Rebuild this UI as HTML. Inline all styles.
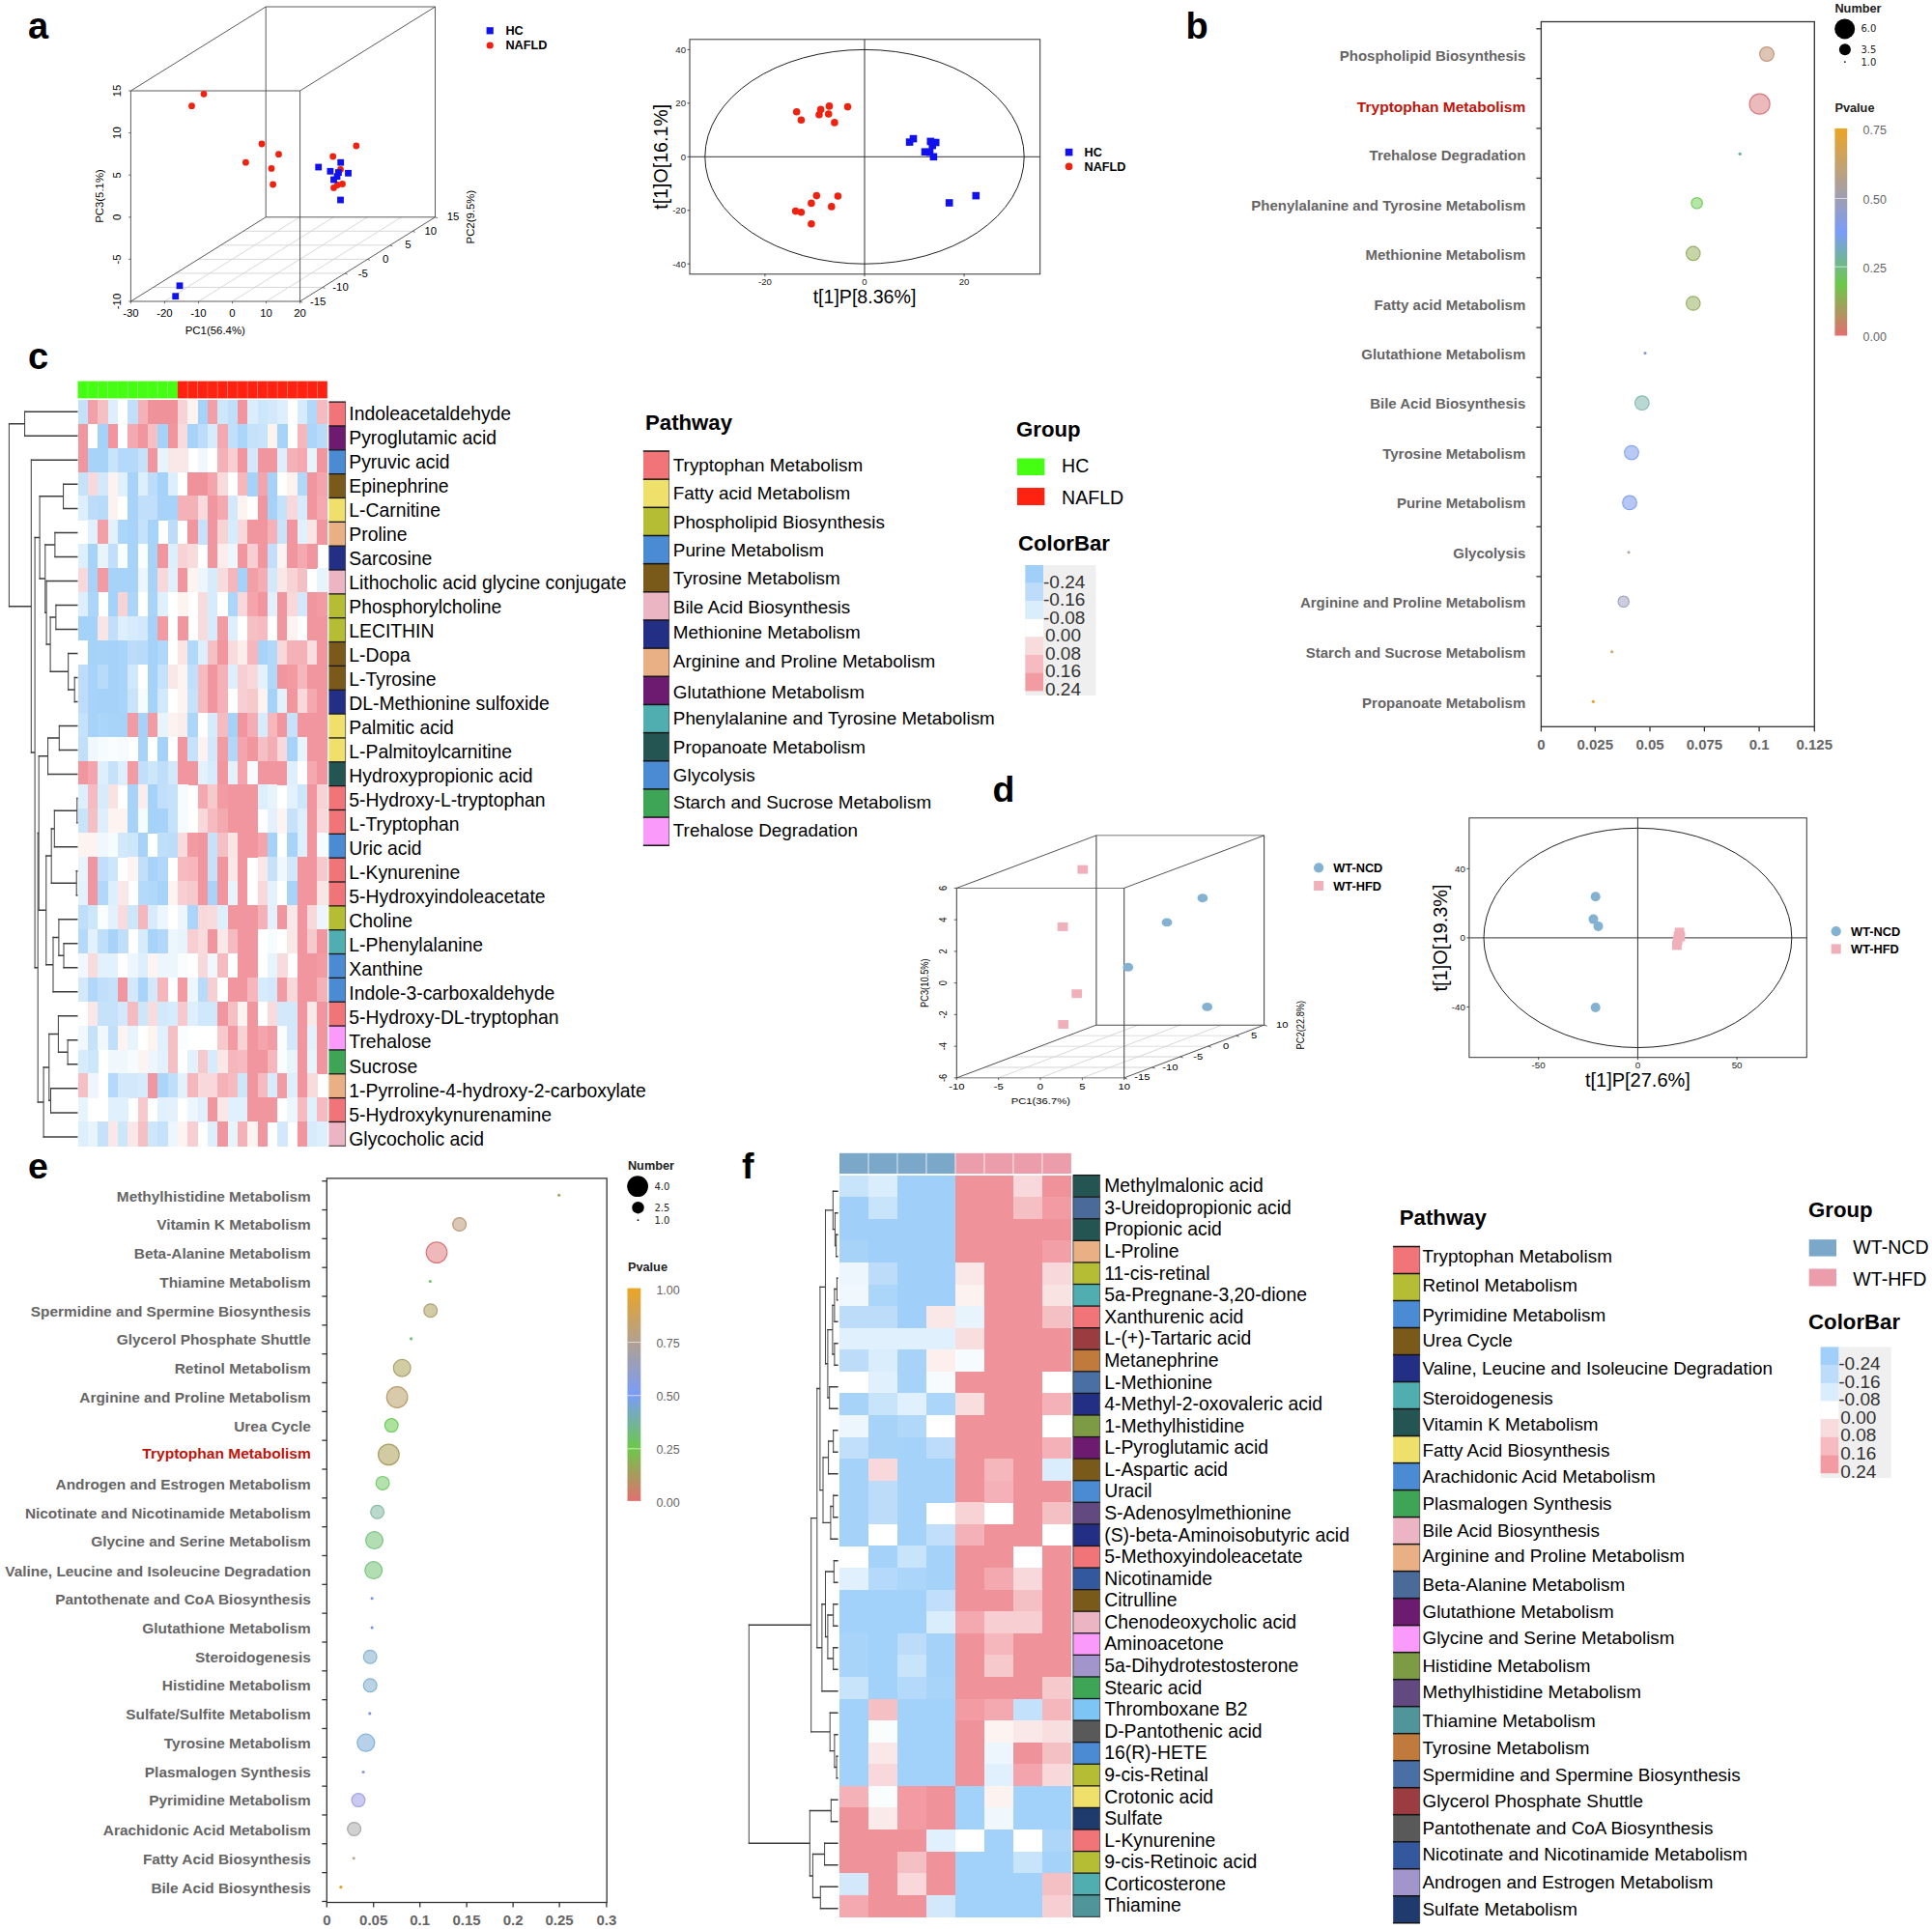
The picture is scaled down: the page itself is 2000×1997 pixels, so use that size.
<!DOCTYPE html>
<html lang="en"><head><meta charset="utf-8"><title>Figure</title>
<style>html,body{margin:0;padding:0;background:#fff}svg{display:block;font-family:'Liberation Sans', Arial, Helvetica, sans-serif}</style></head><body>
<svg width="2000" height="1997" viewBox="0 0 2000 1997">
<defs><linearGradient id="gb" x1="0" y1="1" x2="0" y2="0"><stop offset="0" stop-color="#e26f6f"/><stop offset="0.25" stop-color="#6cc84a"/><stop offset="0.5" stop-color="#7a9cf8"/><stop offset="1" stop-color="#eba524"/></linearGradient><linearGradient id="ge" x1="0" y1="1" x2="0" y2="0"><stop offset="0" stop-color="#e26f6f"/><stop offset="0.25" stop-color="#6cc84a"/><stop offset="0.5" stop-color="#7a9cf8"/><stop offset="1" stop-color="#eba524"/></linearGradient><filter id="hb" x="-2%" y="-2%" width="104%" height="104%"><feGaussianBlur stdDeviation="0.55"/></filter></defs>
<rect x="0" y="0" width="2000" height="1997" fill="#fff"/>
<g id="panel-a">
<text x="29" y="39.7" font-size="38" font-weight="bold">a</text>
<line x1="170.44" y1="312" x2="310.26" y2="224.8" stroke="#d4d4d4" stroke-width="0.9" />
<line x1="205.48" y1="312" x2="345.32" y2="224.8" stroke="#d4d4d4" stroke-width="0.9" />
<line x1="240.52" y1="312" x2="380.38" y2="224.8" stroke="#d4d4d4" stroke-width="0.9" />
<line x1="275.56" y1="312" x2="415.44" y2="224.8" stroke="#d4d4d4" stroke-width="0.9" />
<line x1="158.7" y1="297.47" x2="333.92" y2="297.47" stroke="#d4d4d4" stroke-width="0.9" />
<line x1="182" y1="282.93" x2="357.23" y2="282.93" stroke="#d4d4d4" stroke-width="0.9" />
<line x1="205.3" y1="268.4" x2="380.55" y2="268.4" stroke="#d4d4d4" stroke-width="0.9" />
<line x1="228.6" y1="253.87" x2="403.87" y2="253.87" stroke="#d4d4d4" stroke-width="0.9" />
<line x1="251.9" y1="239.33" x2="427.18" y2="239.33" stroke="#d4d4d4" stroke-width="0.9" />
<path d="M275.2 224.8 L450.5 224.8 L450.5 7 L275.2 7 Z" fill="none" stroke="#4a4a4a" stroke-width="0.9"/>
<path d="M135.4 312 L310.6 312 L310.6 94 L135.4 94 Z" fill="none" stroke="#4a4a4a" stroke-width="0.9"/>
<line x1="135.4" y1="312" x2="275.2" y2="224.8" stroke="#4a4a4a" stroke-width="0.9" />
<line x1="310.6" y1="312" x2="450.5" y2="224.8" stroke="#4a4a4a" stroke-width="0.9" />
<line x1="135.4" y1="94" x2="275.2" y2="7" stroke="#4a4a4a" stroke-width="0.9" />
<line x1="310.6" y1="94" x2="450.5" y2="7" stroke="#4a4a4a" stroke-width="0.9" />
<line x1="135.4" y1="312" x2="135.4" y2="314.2" stroke="#4a4a4a" stroke-width="0.8" />
<text x="135.4" y="327.6" font-size="11.4" text-anchor="middle">-30</text>
<line x1="170.44" y1="312" x2="170.44" y2="314.2" stroke="#4a4a4a" stroke-width="0.8" />
<text x="170.44" y="327.6" font-size="11.4" text-anchor="middle">-20</text>
<line x1="205.48" y1="312" x2="205.48" y2="314.2" stroke="#4a4a4a" stroke-width="0.8" />
<text x="205.48" y="327.6" font-size="11.4" text-anchor="middle">-10</text>
<line x1="240.52" y1="312" x2="240.52" y2="314.2" stroke="#4a4a4a" stroke-width="0.8" />
<text x="240.52" y="327.6" font-size="11.4" text-anchor="middle">0</text>
<line x1="275.56" y1="312" x2="275.56" y2="314.2" stroke="#4a4a4a" stroke-width="0.8" />
<text x="275.56" y="327.6" font-size="11.4" text-anchor="middle">10</text>
<line x1="310.6" y1="312" x2="310.6" y2="314.2" stroke="#4a4a4a" stroke-width="0.8" />
<text x="310.6" y="327.6" font-size="11.4" text-anchor="middle">20</text>
<text x="222.8" y="346" font-size="11.4" text-anchor="middle">PC1(56.4%)</text>
<line x1="133.2" y1="312" x2="135.4" y2="312" stroke="#4a4a4a" stroke-width="0.8" />
<text x="125.4" y="312" font-size="11.4" text-anchor="middle" transform="rotate(-90 125.4 312)">-10</text>
<line x1="133.2" y1="268.4" x2="135.4" y2="268.4" stroke="#4a4a4a" stroke-width="0.8" />
<text x="125.4" y="268.4" font-size="11.4" text-anchor="middle" transform="rotate(-90 125.4 268.4)">-5</text>
<line x1="133.2" y1="224.8" x2="135.4" y2="224.8" stroke="#4a4a4a" stroke-width="0.8" />
<text x="125.4" y="224.8" font-size="11.4" text-anchor="middle" transform="rotate(-90 125.4 224.8)">0</text>
<line x1="133.2" y1="181.2" x2="135.4" y2="181.2" stroke="#4a4a4a" stroke-width="0.8" />
<text x="125.4" y="181.2" font-size="11.4" text-anchor="middle" transform="rotate(-90 125.4 181.2)">5</text>
<line x1="133.2" y1="137.6" x2="135.4" y2="137.6" stroke="#4a4a4a" stroke-width="0.8" />
<text x="125.4" y="137.6" font-size="11.4" text-anchor="middle" transform="rotate(-90 125.4 137.6)">10</text>
<line x1="133.2" y1="94" x2="135.4" y2="94" stroke="#4a4a4a" stroke-width="0.8" />
<text x="125.4" y="94" font-size="11.4" text-anchor="middle" transform="rotate(-90 125.4 94)">15</text>
<text x="107" y="203" font-size="11.4" text-anchor="middle" transform="rotate(-90 107 203)">PC3(5.1%)</text>
<line x1="310.6" y1="312" x2="313.1" y2="313" stroke="#4a4a4a" stroke-width="0.8" />
<text x="329.2" y="315.6" font-size="11.4" text-anchor="middle">-15</text>
<line x1="333.92" y1="297.47" x2="336.42" y2="298.47" stroke="#4a4a4a" stroke-width="0.8" />
<text x="352.52" y="301.07" font-size="11.4" text-anchor="middle">-10</text>
<line x1="357.23" y1="282.93" x2="359.73" y2="283.93" stroke="#4a4a4a" stroke-width="0.8" />
<text x="375.83" y="286.53" font-size="11.4" text-anchor="middle">-5</text>
<line x1="380.55" y1="268.4" x2="383.05" y2="269.4" stroke="#4a4a4a" stroke-width="0.8" />
<text x="399.15" y="272" font-size="11.4" text-anchor="middle">0</text>
<line x1="403.87" y1="253.87" x2="406.37" y2="254.87" stroke="#4a4a4a" stroke-width="0.8" />
<text x="422.47" y="257.47" font-size="11.4" text-anchor="middle">5</text>
<line x1="427.18" y1="239.33" x2="429.68" y2="240.33" stroke="#4a4a4a" stroke-width="0.8" />
<text x="445.78" y="242.93" font-size="11.4" text-anchor="middle">10</text>
<line x1="450.5" y1="224.8" x2="453" y2="225.8" stroke="#4a4a4a" stroke-width="0.8" />
<text x="469.1" y="228.4" font-size="11.4" text-anchor="middle">15</text>
<text x="491" y="224.6" font-size="11.4" text-anchor="middle" transform="rotate(-90 491 224.6)">PC2(9.5%)</text>
<circle cx="211" cy="97.3" r="3.4" fill="#ee2211"/>
<circle cx="198.5" cy="109.7" r="3.4" fill="#ee2211"/>
<circle cx="271" cy="149" r="3.4" fill="#ee2211"/>
<circle cx="288.5" cy="159.7" r="3.4" fill="#ee2211"/>
<circle cx="254.4" cy="168.2" r="3.4" fill="#ee2211"/>
<circle cx="281" cy="174.4" r="3.4" fill="#ee2211"/>
<circle cx="282.6" cy="191" r="3.4" fill="#ee2211"/>
<circle cx="368.8" cy="151" r="3.4" fill="#ee2211"/>
<circle cx="344.7" cy="162" r="3.4" fill="#ee2211"/>
<circle cx="352.5" cy="175.5" r="3.4" fill="#ee2211"/>
<circle cx="354.5" cy="190.5" r="3.4" fill="#ee2211"/>
<circle cx="345.5" cy="194.4" r="3.4" fill="#ee2211"/>
<circle cx="349.4" cy="191.5" r="3.4" fill="#ee2211"/>
<rect x="349.3" y="164.8" width="6.8" height="6.8" fill="#1111ee"/>
<rect x="326.3" y="169.6" width="6.8" height="6.8" fill="#1111ee"/>
<rect x="338.5" y="173.9" width="6.8" height="6.8" fill="#1111ee"/>
<rect x="347" y="175.2" width="6.8" height="6.8" fill="#1111ee"/>
<rect x="357.1" y="175.9" width="6.8" height="6.8" fill="#1111ee"/>
<rect x="345.6" y="179.3" width="6.8" height="6.8" fill="#1111ee"/>
<rect x="342.1" y="182.6" width="6.8" height="6.8" fill="#1111ee"/>
<rect x="349.1" y="203.6" width="6.8" height="6.8" fill="#1111ee"/>
<rect x="182.6" y="292.4" width="6.8" height="6.8" fill="#1111ee"/>
<rect x="178.3" y="303.3" width="6.8" height="6.8" fill="#1111ee"/>
<rect x="503.6" y="28.2" width="7.2" height="7.2" fill="#1111ee"/>
<circle cx="507.2" cy="47" r="3.6" fill="#ee2211"/>
<text x="523.4" y="36.3" font-size="12.7" font-weight="bold">HC</text>
<text x="523.4" y="50.7" font-size="12.7" font-weight="bold">NAFLD</text>
<rect x="714" y="40.8" width="362.7" height="243" fill="none" stroke="#333" stroke-width="1"/>
<line x1="895" y1="40.8" x2="895" y2="283.8" stroke="#333" stroke-width="1" />
<line x1="714" y1="162.3" x2="1076.7" y2="162.3" stroke="#333" stroke-width="1" />
<ellipse cx="895" cy="162.3" rx="165.2" ry="110.9" fill="none" stroke="#222" stroke-width="1"/>
<line x1="711.5" y1="51.4" x2="714" y2="51.4" stroke="#333" stroke-width="0.9" />
<text x="710" y="54.8" font-size="9.6" text-anchor="end" fill="#222">40</text>
<line x1="711.5" y1="106.85" x2="714" y2="106.85" stroke="#333" stroke-width="0.9" />
<text x="710" y="110.25" font-size="9.6" text-anchor="end" fill="#222">20</text>
<line x1="711.5" y1="162.3" x2="714" y2="162.3" stroke="#333" stroke-width="0.9" />
<text x="710" y="165.7" font-size="9.6" text-anchor="end" fill="#222">0</text>
<line x1="711.5" y1="217.75" x2="714" y2="217.75" stroke="#333" stroke-width="0.9" />
<text x="710" y="221.15" font-size="9.6" text-anchor="end" fill="#222">-20</text>
<line x1="711.5" y1="273.2" x2="714" y2="273.2" stroke="#333" stroke-width="0.9" />
<text x="710" y="276.6" font-size="9.6" text-anchor="end" fill="#222">-40</text>
<line x1="791.9" y1="283.8" x2="791.9" y2="286.3" stroke="#333" stroke-width="0.9" />
<text x="791.9" y="295" font-size="9.6" text-anchor="middle" fill="#222">-20</text>
<line x1="895" y1="283.8" x2="895" y2="286.3" stroke="#333" stroke-width="0.9" />
<text x="895" y="295" font-size="9.6" text-anchor="middle" fill="#222">0</text>
<line x1="998.1" y1="283.8" x2="998.1" y2="286.3" stroke="#333" stroke-width="0.9" />
<text x="998.1" y="295" font-size="9.6" text-anchor="middle" fill="#222">20</text>
<text x="895" y="313.6" font-size="19.6" text-anchor="middle">t[1]P[8.36%]</text>
<text x="690.8" y="162.3" font-size="19.6" text-anchor="middle" transform="rotate(-90 690.8 162.3)">t[1]O[16.1%]</text>
<circle cx="824.7" cy="115.7" r="3.8" fill="#ee2211"/>
<circle cx="829.4" cy="124.2" r="3.8" fill="#ee2211"/>
<circle cx="848" cy="118.8" r="3.8" fill="#ee2211"/>
<circle cx="849.6" cy="113.4" r="3.8" fill="#ee2211"/>
<circle cx="858.5" cy="109.9" r="3.8" fill="#ee2211"/>
<circle cx="857.7" cy="118" r="3.8" fill="#ee2211"/>
<circle cx="863.9" cy="126.9" r="3.8" fill="#ee2211"/>
<circle cx="877.5" cy="110.6" r="3.8" fill="#ee2211"/>
<circle cx="845.3" cy="202.6" r="3.8" fill="#ee2211"/>
<circle cx="867.4" cy="203" r="3.8" fill="#ee2211"/>
<circle cx="839.9" cy="210.4" r="3.8" fill="#ee2211"/>
<circle cx="860.8" cy="213.9" r="3.8" fill="#ee2211"/>
<circle cx="823.6" cy="218.6" r="3.8" fill="#ee2211"/>
<circle cx="829.4" cy="219.7" r="3.8" fill="#ee2211"/>
<circle cx="839.9" cy="231.8" r="3.8" fill="#ee2211"/>
<rect x="941.7" y="139.8" width="7.6" height="7.6" fill="#1111ee"/>
<rect x="937.8" y="143.3" width="7.6" height="7.6" fill="#1111ee"/>
<rect x="959.5" y="142.6" width="7.6" height="7.6" fill="#1111ee"/>
<rect x="964.9" y="143.7" width="7.6" height="7.6" fill="#1111ee"/>
<rect x="961.4" y="146.8" width="7.6" height="7.6" fill="#1111ee"/>
<rect x="953.7" y="153.4" width="7.6" height="7.6" fill="#1111ee"/>
<rect x="958.7" y="153.8" width="7.6" height="7.6" fill="#1111ee"/>
<rect x="962.6" y="158.5" width="7.6" height="7.6" fill="#1111ee"/>
<rect x="978.9" y="206.2" width="7.6" height="7.6" fill="#1111ee"/>
<rect x="1006.5" y="198.8" width="7.6" height="7.6" fill="#1111ee"/>
<rect x="1102.8" y="153.8" width="7.6" height="7.6" fill="#1111ee"/>
<circle cx="1106.6" cy="172.4" r="3.8" fill="#ee2211"/>
<text x="1122.5" y="162" font-size="12.7" font-weight="bold">HC</text>
<text x="1122.5" y="176.9" font-size="12.7" font-weight="bold">NAFLD</text>
</g>
<g id="panel-b">
<text x="1227.5" y="39.6" font-size="38" font-weight="bold">b</text>
<rect x="1595.4" y="22.5" width="282.9" height="729.8" fill="none" stroke="#333" stroke-width="1.3"/>
<line x1="1590.4" y1="29.8" x2="1595.4" y2="29.8" stroke="#333" stroke-width="1.3" />
<line x1="1590.4" y1="81.35" x2="1595.4" y2="81.35" stroke="#333" stroke-width="1.3" />
<line x1="1590.4" y1="132.9" x2="1595.4" y2="132.9" stroke="#333" stroke-width="1.3" />
<line x1="1590.4" y1="184.45" x2="1595.4" y2="184.45" stroke="#333" stroke-width="1.3" />
<line x1="1590.4" y1="236" x2="1595.4" y2="236" stroke="#333" stroke-width="1.3" />
<line x1="1590.4" y1="287.55" x2="1595.4" y2="287.55" stroke="#333" stroke-width="1.3" />
<line x1="1590.4" y1="339.1" x2="1595.4" y2="339.1" stroke="#333" stroke-width="1.3" />
<line x1="1590.4" y1="390.65" x2="1595.4" y2="390.65" stroke="#333" stroke-width="1.3" />
<line x1="1590.4" y1="442.2" x2="1595.4" y2="442.2" stroke="#333" stroke-width="1.3" />
<line x1="1590.4" y1="493.75" x2="1595.4" y2="493.75" stroke="#333" stroke-width="1.3" />
<line x1="1590.4" y1="545.3" x2="1595.4" y2="545.3" stroke="#333" stroke-width="1.3" />
<line x1="1590.4" y1="596.85" x2="1595.4" y2="596.85" stroke="#333" stroke-width="1.3" />
<line x1="1590.4" y1="648.4" x2="1595.4" y2="648.4" stroke="#333" stroke-width="1.3" />
<line x1="1590.4" y1="699.95" x2="1595.4" y2="699.95" stroke="#333" stroke-width="1.3" />
<text x="1579.3" y="63" font-size="15" text-anchor="end" font-weight="bold" fill="#656565">Phospholipid Biosynthesis</text>
<text x="1579.3" y="115.9" font-size="15.55" text-anchor="end" font-weight="bold" fill="#be140b">Tryptophan Metabolism</text>
<text x="1579.3" y="165.9" font-size="15" text-anchor="end" font-weight="bold" fill="#656565">Trehalose Degradation</text>
<text x="1579.3" y="217.5" font-size="15" text-anchor="end" font-weight="bold" fill="#656565">Phenylalanine and Tyrosine Metabolism</text>
<text x="1579.3" y="268.9" font-size="15" text-anchor="end" font-weight="bold" fill="#656565">Methionine Metabolism</text>
<text x="1579.3" y="320.6" font-size="15" text-anchor="end" font-weight="bold" fill="#656565">Fatty acid Metabolism</text>
<text x="1579.3" y="371.5" font-size="15" text-anchor="end" font-weight="bold" fill="#656565">Glutathione Metabolism</text>
<text x="1579.3" y="423.2" font-size="15" text-anchor="end" font-weight="bold" fill="#656565">Bile Acid Biosynthesis</text>
<text x="1579.3" y="474.5" font-size="15" text-anchor="end" font-weight="bold" fill="#656565">Tyrosine Metabolism</text>
<text x="1579.3" y="526.3" font-size="15" text-anchor="end" font-weight="bold" fill="#656565">Purine Metabolism</text>
<text x="1579.3" y="577.6" font-size="15" text-anchor="end" font-weight="bold" fill="#656565">Glycolysis</text>
<text x="1579.3" y="629.4" font-size="15" text-anchor="end" font-weight="bold" fill="#656565">Arginine and Proline Metabolism</text>
<text x="1579.3" y="680.7" font-size="15" text-anchor="end" font-weight="bold" fill="#656565">Starch and Sucrose Metabolism</text>
<text x="1579.3" y="732.5" font-size="15" text-anchor="end" font-weight="bold" fill="#656565">Propanoate Metabolism</text>
<circle cx="1829" cy="56" r="7.4" fill="#dcc5b5" stroke="#c49a80" stroke-width="1.2"/>
<circle cx="1821.6" cy="107.7" r="10.5" fill="#ecbabc" stroke="#d87a7b" stroke-width="1.2"/>
<circle cx="1801.2" cy="159.3" r="1.65" fill="#6aaea0"/>
<circle cx="1756.6" cy="210.3" r="5.7" fill="#b4e6a6" stroke="#7ccc66" stroke-width="1.2"/>
<circle cx="1752.8" cy="262.4" r="7.2" fill="#c8d5a8" stroke="#98b068" stroke-width="1.2"/>
<circle cx="1752.8" cy="314" r="7.2" fill="#c8d5a8" stroke="#98b068" stroke-width="1.2"/>
<circle cx="1703" cy="365.6" r="1.55" fill="#8d9ad0"/>
<circle cx="1699.8" cy="417.2" r="7.3" fill="#b9d7d3" stroke="#86bab3" stroke-width="1.2"/>
<circle cx="1689" cy="468.6" r="7.3" fill="#b8c9f4" stroke="#8aa7ee" stroke-width="1.2"/>
<circle cx="1687" cy="520.4" r="7.3" fill="#b6c7f6" stroke="#86a3f0" stroke-width="1.2"/>
<circle cx="1686" cy="571.7" r="1.55" fill="#b5a896"/>
<circle cx="1680.7" cy="622.8" r="5.7" fill="#cbccdd" stroke="#a3a5c5" stroke-width="1.2"/>
<circle cx="1668.7" cy="674.8" r="1.55" fill="#d3a564"/>
<circle cx="1649.3" cy="726.3" r="1.65" fill="#e6a228"/>
<line x1="1595.4" y1="752.3" x2="1595.4" y2="757.3" stroke="#333" stroke-width="1.3" />
<text x="1595.4" y="776" font-size="15" text-anchor="middle" font-weight="bold" fill="#656565">0</text>
<line x1="1651.3" y1="752.3" x2="1651.3" y2="757.3" stroke="#333" stroke-width="1.3" />
<text x="1651.3" y="776" font-size="15" text-anchor="middle" font-weight="bold" fill="#656565">0.025</text>
<line x1="1708" y1="752.3" x2="1708" y2="757.3" stroke="#333" stroke-width="1.3" />
<text x="1708" y="776" font-size="15" text-anchor="middle" font-weight="bold" fill="#656565">0.05</text>
<line x1="1764.4" y1="752.3" x2="1764.4" y2="757.3" stroke="#333" stroke-width="1.3" />
<text x="1764.4" y="776" font-size="15" text-anchor="middle" font-weight="bold" fill="#656565">0.075</text>
<line x1="1821.1" y1="752.3" x2="1821.1" y2="757.3" stroke="#333" stroke-width="1.3" />
<text x="1821.1" y="776" font-size="15" text-anchor="middle" font-weight="bold" fill="#656565">0.1</text>
<line x1="1878.3" y1="752.3" x2="1878.3" y2="757.3" stroke="#333" stroke-width="1.3" />
<text x="1878.3" y="776" font-size="15" text-anchor="middle" font-weight="bold" fill="#656565">0.125</text>
<text x="1899.4" y="13.4" font-size="12.75" font-weight="bold" fill="#222">Number</text>
<circle cx="1909.7" cy="29.9" r="10.5" fill="#000"/>
<circle cx="1909.9" cy="51.2" r="6" fill="#000"/>
<circle cx="1909.9" cy="64.1" r="0.9" fill="#000"/>
<text x="1926.5" y="33.2" font-size="10" fill="#222" font-family='"DejaVu Sans", "Liberation Sans", sans-serif'>6.0</text>
<text x="1926.5" y="54.8" font-size="10" fill="#222" font-family='"DejaVu Sans", "Liberation Sans", sans-serif'>3.5</text>
<text x="1926.5" y="67.9" font-size="10" fill="#222" font-family='"DejaVu Sans", "Liberation Sans", sans-serif'>1.0</text>
<text x="1899.4" y="115.8" font-size="12.75" font-weight="bold" fill="#222">Pvalue</text>
<rect x="1899.4" y="132.9" width="12.8" height="214.6" fill="url(#gb)"/>
<line x1="1899.4" y1="205.4" x2="1912.2" y2="205.4" stroke="#fff" stroke-width="0.8" opacity="0.8"/>
<line x1="1899.4" y1="276.2" x2="1912.2" y2="276.2" stroke="#fff" stroke-width="0.8" opacity="0.8"/>
<text x="1928.5" y="138.8" font-size="12.5" fill="#656565">0.75</text>
<text x="1928.5" y="210.6" font-size="12.5" fill="#656565">0.50</text>
<text x="1928.5" y="282.3" font-size="12.5" fill="#656565">0.25</text>
<text x="1928.5" y="353" font-size="12.5" fill="#656565">0.00</text>
</g>
<g id="panel-c">
<text x="29" y="381.6" font-size="38" font-weight="bold">c</text>
<rect x="80.6" y="394.6" width="10.38" height="17.8" fill="#44ff11"/>
<rect x="90.93" y="394.6" width="10.38" height="17.8" fill="#44ff11"/>
<rect x="101.26" y="394.6" width="10.38" height="17.8" fill="#44ff11"/>
<rect x="111.58" y="394.6" width="10.38" height="17.8" fill="#44ff11"/>
<rect x="121.91" y="394.6" width="10.38" height="17.8" fill="#44ff11"/>
<rect x="132.24" y="394.6" width="10.38" height="17.8" fill="#44ff11"/>
<rect x="142.57" y="394.6" width="10.38" height="17.8" fill="#44ff11"/>
<rect x="152.9" y="394.6" width="10.38" height="17.8" fill="#44ff11"/>
<rect x="163.22" y="394.6" width="10.38" height="17.8" fill="#44ff11"/>
<rect x="173.55" y="394.6" width="10.38" height="17.8" fill="#44ff11"/>
<rect x="183.88" y="394.6" width="10.38" height="17.8" fill="#ff2211"/>
<rect x="194.21" y="394.6" width="10.38" height="17.8" fill="#ff2211"/>
<rect x="204.54" y="394.6" width="10.38" height="17.8" fill="#ff2211"/>
<rect x="214.86" y="394.6" width="10.38" height="17.8" fill="#ff2211"/>
<rect x="225.19" y="394.6" width="10.38" height="17.8" fill="#ff2211"/>
<rect x="235.52" y="394.6" width="10.38" height="17.8" fill="#ff2211"/>
<rect x="245.85" y="394.6" width="10.38" height="17.8" fill="#ff2211"/>
<rect x="256.18" y="394.6" width="10.38" height="17.8" fill="#ff2211"/>
<rect x="266.5" y="394.6" width="10.38" height="17.8" fill="#ff2211"/>
<rect x="276.83" y="394.6" width="10.38" height="17.8" fill="#ff2211"/>
<rect x="287.16" y="394.6" width="10.38" height="17.8" fill="#ff2211"/>
<rect x="297.49" y="394.6" width="10.38" height="17.8" fill="#ff2211"/>
<rect x="307.82" y="394.6" width="10.38" height="17.8" fill="#ff2211"/>
<rect x="318.14" y="394.6" width="10.38" height="17.8" fill="#ff2211"/>
<rect x="328.47" y="394.6" width="10.38" height="17.8" fill="#ff2211"/>
<line x1="90.93" y1="394.6" x2="90.93" y2="412.4" stroke="#fff" stroke-width="0.5" opacity="0.35"/>
<line x1="101.26" y1="394.6" x2="101.26" y2="412.4" stroke="#fff" stroke-width="0.5" opacity="0.35"/>
<line x1="111.58" y1="394.6" x2="111.58" y2="412.4" stroke="#fff" stroke-width="0.5" opacity="0.35"/>
<line x1="121.91" y1="394.6" x2="121.91" y2="412.4" stroke="#fff" stroke-width="0.5" opacity="0.35"/>
<line x1="132.24" y1="394.6" x2="132.24" y2="412.4" stroke="#fff" stroke-width="0.5" opacity="0.35"/>
<line x1="142.57" y1="394.6" x2="142.57" y2="412.4" stroke="#fff" stroke-width="0.5" opacity="0.35"/>
<line x1="152.9" y1="394.6" x2="152.9" y2="412.4" stroke="#fff" stroke-width="0.5" opacity="0.35"/>
<line x1="163.22" y1="394.6" x2="163.22" y2="412.4" stroke="#fff" stroke-width="0.5" opacity="0.35"/>
<line x1="173.55" y1="394.6" x2="173.55" y2="412.4" stroke="#fff" stroke-width="0.5" opacity="0.35"/>
<line x1="194.21" y1="394.6" x2="194.21" y2="412.4" stroke="#fff" stroke-width="0.5" opacity="0.35"/>
<line x1="204.54" y1="394.6" x2="204.54" y2="412.4" stroke="#fff" stroke-width="0.5" opacity="0.35"/>
<line x1="214.86" y1="394.6" x2="214.86" y2="412.4" stroke="#fff" stroke-width="0.5" opacity="0.35"/>
<line x1="225.19" y1="394.6" x2="225.19" y2="412.4" stroke="#fff" stroke-width="0.5" opacity="0.35"/>
<line x1="235.52" y1="394.6" x2="235.52" y2="412.4" stroke="#fff" stroke-width="0.5" opacity="0.35"/>
<line x1="245.85" y1="394.6" x2="245.85" y2="412.4" stroke="#fff" stroke-width="0.5" opacity="0.35"/>
<line x1="256.18" y1="394.6" x2="256.18" y2="412.4" stroke="#fff" stroke-width="0.5" opacity="0.35"/>
<line x1="266.5" y1="394.6" x2="266.5" y2="412.4" stroke="#fff" stroke-width="0.5" opacity="0.35"/>
<line x1="276.83" y1="394.6" x2="276.83" y2="412.4" stroke="#fff" stroke-width="0.5" opacity="0.35"/>
<line x1="287.16" y1="394.6" x2="287.16" y2="412.4" stroke="#fff" stroke-width="0.5" opacity="0.35"/>
<line x1="297.49" y1="394.6" x2="297.49" y2="412.4" stroke="#fff" stroke-width="0.5" opacity="0.35"/>
<line x1="307.82" y1="394.6" x2="307.82" y2="412.4" stroke="#fff" stroke-width="0.5" opacity="0.35"/>
<line x1="318.14" y1="394.6" x2="318.14" y2="412.4" stroke="#fff" stroke-width="0.5" opacity="0.35"/>
<line x1="328.47" y1="394.6" x2="328.47" y2="412.4" stroke="#fff" stroke-width="0.5" opacity="0.35"/>
<g filter="url(#hb)" shape-rendering="crispEdges">
<rect x="80.6" y="413.8" width="10.63" height="25.22" fill="#c3e1fa"/>
<rect x="90.93" y="413.8" width="10.63" height="25.22" fill="#f29fa7"/>
<rect x="101.26" y="413.8" width="10.63" height="25.22" fill="#f5c0c4"/>
<rect x="111.58" y="413.8" width="10.63" height="25.22" fill="#ddeefc"/>
<rect x="132.24" y="413.8" width="10.63" height="25.22" fill="#c1dffa"/>
<rect x="142.57" y="413.8" width="10.63" height="25.22" fill="#f4b2b8"/>
<rect x="152.9" y="413.8" width="10.63" height="25.22" fill="#f0929a"/>
<rect x="163.22" y="413.8" width="10.63" height="25.22" fill="#f0929a"/>
<rect x="173.55" y="413.8" width="10.63" height="25.22" fill="#f0929a"/>
<rect x="183.88" y="413.8" width="10.63" height="25.22" fill="#f7d3d6"/>
<rect x="194.21" y="413.8" width="10.63" height="25.22" fill="#fcf2f0"/>
<rect x="204.54" y="413.8" width="10.63" height="25.22" fill="#a4d2f9"/>
<rect x="214.86" y="413.8" width="10.63" height="25.22" fill="#f29fa7"/>
<rect x="225.19" y="413.8" width="10.63" height="25.22" fill="#cce6fa"/>
<rect x="235.52" y="413.8" width="10.63" height="25.22" fill="#c1dffa"/>
<rect x="245.85" y="413.8" width="10.63" height="25.22" fill="#f1969e"/>
<rect x="256.18" y="413.8" width="10.63" height="25.22" fill="#daedfc"/>
<rect x="266.5" y="413.8" width="10.63" height="25.22" fill="#cce6fa"/>
<rect x="276.83" y="413.8" width="10.63" height="25.22" fill="#d3e9fb"/>
<rect x="287.16" y="413.8" width="10.63" height="25.22" fill="#ddeefc"/>
<rect x="307.82" y="413.8" width="10.63" height="25.22" fill="#d6ebfc"/>
<rect x="318.14" y="413.8" width="10.63" height="25.22" fill="#b2d8f9"/>
<rect x="328.47" y="413.8" width="10.63" height="25.22" fill="#f5bbc0"/>
<rect x="80.6" y="438.72" width="10.63" height="25.22" fill="#f1969e"/>
<rect x="101.26" y="438.72" width="10.63" height="25.22" fill="#a4d2f9"/>
<rect x="111.58" y="438.72" width="10.63" height="25.22" fill="#f1969e"/>
<rect x="132.24" y="438.72" width="10.63" height="25.22" fill="#f4a8b0"/>
<rect x="142.57" y="438.72" width="10.63" height="25.22" fill="#f1969e"/>
<rect x="152.9" y="438.72" width="10.63" height="25.22" fill="#f5c0c4"/>
<rect x="163.22" y="438.72" width="10.63" height="25.22" fill="#a4d2f9"/>
<rect x="173.55" y="438.72" width="10.63" height="25.22" fill="#f1969e"/>
<rect x="183.88" y="438.72" width="10.63" height="25.22" fill="#f8dbdd"/>
<rect x="194.21" y="438.72" width="10.63" height="25.22" fill="#a7d3f9"/>
<rect x="204.54" y="438.72" width="10.63" height="25.22" fill="#bcdcfa"/>
<rect x="214.86" y="438.72" width="10.63" height="25.22" fill="#d6ebfc"/>
<rect x="225.19" y="438.72" width="10.63" height="25.22" fill="#f4a8b0"/>
<rect x="235.52" y="438.72" width="10.63" height="25.22" fill="#c1dffa"/>
<rect x="245.85" y="438.72" width="10.63" height="25.22" fill="#abd5f9"/>
<rect x="256.18" y="438.72" width="10.63" height="25.22" fill="#c6e2fa"/>
<rect x="266.5" y="438.72" width="10.63" height="25.22" fill="#c8e4fa"/>
<rect x="276.83" y="438.72" width="10.63" height="25.22" fill="#fcf2f0"/>
<rect x="287.16" y="438.72" width="10.63" height="25.22" fill="#a7d3f9"/>
<rect x="307.82" y="438.72" width="10.63" height="25.22" fill="#f5b6bc"/>
<rect x="318.14" y="438.72" width="10.63" height="25.22" fill="#abd5f9"/>
<rect x="328.47" y="438.72" width="10.63" height="25.22" fill="#b9dbfa"/>
<rect x="80.6" y="463.63" width="10.63" height="25.22" fill="#f1969e"/>
<rect x="90.93" y="463.63" width="10.63" height="25.22" fill="#a7d3f9"/>
<rect x="101.26" y="463.63" width="10.63" height="25.22" fill="#a7d3f9"/>
<rect x="111.58" y="463.63" width="10.63" height="25.22" fill="#c8e4fa"/>
<rect x="121.91" y="463.63" width="10.63" height="25.22" fill="#b5d9fa"/>
<rect x="132.24" y="463.63" width="10.63" height="25.22" fill="#b5d9fa"/>
<rect x="142.57" y="463.63" width="10.63" height="25.22" fill="#c6e2fa"/>
<rect x="152.9" y="463.63" width="10.63" height="25.22" fill="#f1969e"/>
<rect x="163.22" y="463.63" width="10.63" height="25.22" fill="#e8f4fc"/>
<rect x="173.55" y="463.63" width="10.63" height="25.22" fill="#fae8e8"/>
<rect x="183.88" y="463.63" width="10.63" height="25.22" fill="#fae8e8"/>
<rect x="204.54" y="463.63" width="10.63" height="25.22" fill="#f1f8fd"/>
<rect x="225.19" y="463.63" width="10.63" height="25.22" fill="#f4b2b8"/>
<rect x="235.52" y="463.63" width="10.63" height="25.22" fill="#f7ced1"/>
<rect x="245.85" y="463.63" width="10.63" height="25.22" fill="#f1969e"/>
<rect x="256.18" y="463.63" width="10.63" height="25.22" fill="#d3e9fb"/>
<rect x="266.5" y="463.63" width="10.63" height="25.22" fill="#f1969e"/>
<rect x="276.83" y="463.63" width="10.63" height="25.22" fill="#f1969e"/>
<rect x="287.16" y="463.63" width="10.63" height="25.22" fill="#ddeefc"/>
<rect x="297.49" y="463.63" width="10.63" height="25.22" fill="#f4b2b8"/>
<rect x="307.82" y="463.63" width="10.63" height="25.22" fill="#f4a8b0"/>
<rect x="318.14" y="463.63" width="10.63" height="25.22" fill="#e8f4fc"/>
<rect x="328.47" y="463.63" width="10.63" height="25.22" fill="#f1969e"/>
<rect x="80.6" y="488.55" width="10.63" height="25.22" fill="#c6e2fa"/>
<rect x="90.93" y="488.55" width="10.63" height="25.22" fill="#f8d8da"/>
<rect x="101.26" y="488.55" width="10.63" height="25.22" fill="#d3e9fb"/>
<rect x="111.58" y="488.55" width="10.63" height="25.22" fill="#fcf2f0"/>
<rect x="121.91" y="488.55" width="10.63" height="25.22" fill="#e0f0fc"/>
<rect x="132.24" y="488.55" width="10.63" height="25.22" fill="#a7d3f9"/>
<rect x="142.57" y="488.55" width="10.63" height="25.22" fill="#ddeefc"/>
<rect x="152.9" y="488.55" width="10.63" height="25.22" fill="#bcdcfa"/>
<rect x="163.22" y="488.55" width="10.63" height="25.22" fill="#a4d2f9"/>
<rect x="173.55" y="488.55" width="10.63" height="25.22" fill="#ddeefc"/>
<rect x="194.21" y="488.55" width="10.63" height="25.22" fill="#f0929a"/>
<rect x="204.54" y="488.55" width="10.63" height="25.22" fill="#f0929a"/>
<rect x="214.86" y="488.55" width="10.63" height="25.22" fill="#f3a4ac"/>
<rect x="225.19" y="488.55" width="10.63" height="25.22" fill="#f8dbdd"/>
<rect x="245.85" y="488.55" width="10.63" height="25.22" fill="#f5b6bc"/>
<rect x="256.18" y="488.55" width="10.63" height="25.22" fill="#a4d2f9"/>
<rect x="266.5" y="488.55" width="10.63" height="25.22" fill="#f3a4ac"/>
<rect x="276.83" y="488.55" width="10.63" height="25.22" fill="#a4d2f9"/>
<rect x="297.49" y="488.55" width="10.63" height="25.22" fill="#fcf2f0"/>
<rect x="307.82" y="488.55" width="10.63" height="25.22" fill="#b2d8f9"/>
<rect x="318.14" y="488.55" width="10.63" height="25.22" fill="#f1969e"/>
<rect x="328.47" y="488.55" width="10.63" height="25.22" fill="#f3a4ac"/>
<rect x="80.6" y="513.46" width="10.63" height="25.22" fill="#ddeefc"/>
<rect x="90.93" y="513.46" width="10.63" height="25.22" fill="#bcdcfa"/>
<rect x="101.26" y="513.46" width="10.63" height="25.22" fill="#b9dbfa"/>
<rect x="111.58" y="513.46" width="10.63" height="25.22" fill="#fcf2f0"/>
<rect x="132.24" y="513.46" width="10.63" height="25.22" fill="#a7d3f9"/>
<rect x="142.57" y="513.46" width="10.63" height="25.22" fill="#c1dffa"/>
<rect x="152.9" y="513.46" width="10.63" height="25.22" fill="#c1dffa"/>
<rect x="163.22" y="513.46" width="10.63" height="25.22" fill="#a7d3f9"/>
<rect x="173.55" y="513.46" width="10.63" height="25.22" fill="#a7d3f9"/>
<rect x="183.88" y="513.46" width="10.63" height="25.22" fill="#f4b2b8"/>
<rect x="194.21" y="513.46" width="10.63" height="25.22" fill="#f4b2b8"/>
<rect x="204.54" y="513.46" width="10.63" height="25.22" fill="#f8dbdd"/>
<rect x="214.86" y="513.46" width="10.63" height="25.22" fill="#f1969e"/>
<rect x="225.19" y="513.46" width="10.63" height="25.22" fill="#f4a8b0"/>
<rect x="235.52" y="513.46" width="10.63" height="25.22" fill="#d3e9fb"/>
<rect x="245.85" y="513.46" width="10.63" height="25.22" fill="#fdf4f2"/>
<rect x="266.5" y="513.46" width="10.63" height="25.22" fill="#f1969e"/>
<rect x="276.83" y="513.46" width="10.63" height="25.22" fill="#a4d2f9"/>
<rect x="287.16" y="513.46" width="10.63" height="25.22" fill="#c6e2fa"/>
<rect x="297.49" y="513.46" width="10.63" height="25.22" fill="#f8d8da"/>
<rect x="307.82" y="513.46" width="10.63" height="25.22" fill="#d6ebfc"/>
<rect x="318.14" y="513.46" width="10.63" height="25.22" fill="#f1969e"/>
<rect x="328.47" y="513.46" width="10.63" height="25.22" fill="#f4a8b0"/>
<rect x="90.93" y="538.38" width="10.63" height="25.22" fill="#e0f0fc"/>
<rect x="101.26" y="538.38" width="10.63" height="25.22" fill="#f29fa7"/>
<rect x="111.58" y="538.38" width="10.63" height="25.22" fill="#e2f1fc"/>
<rect x="121.91" y="538.38" width="10.63" height="25.22" fill="#abd5f9"/>
<rect x="132.24" y="538.38" width="10.63" height="25.22" fill="#a7d3f9"/>
<rect x="142.57" y="538.38" width="10.63" height="25.22" fill="#c6e2fa"/>
<rect x="152.9" y="538.38" width="10.63" height="25.22" fill="#a7d3f9"/>
<rect x="173.55" y="538.38" width="10.63" height="25.22" fill="#bcdcfa"/>
<rect x="194.21" y="538.38" width="10.63" height="25.22" fill="#f1969e"/>
<rect x="204.54" y="538.38" width="10.63" height="25.22" fill="#c6e2fa"/>
<rect x="214.86" y="538.38" width="10.63" height="25.22" fill="#f1969e"/>
<rect x="225.19" y="538.38" width="10.63" height="25.22" fill="#f7d3d6"/>
<rect x="235.52" y="538.38" width="10.63" height="25.22" fill="#d6ebfc"/>
<rect x="245.85" y="538.38" width="10.63" height="25.22" fill="#f8d8da"/>
<rect x="256.18" y="538.38" width="10.63" height="25.22" fill="#f1969e"/>
<rect x="266.5" y="538.38" width="10.63" height="25.22" fill="#f1969e"/>
<rect x="276.83" y="538.38" width="10.63" height="25.22" fill="#f4b2b8"/>
<rect x="287.16" y="538.38" width="10.63" height="25.22" fill="#c8e4fa"/>
<rect x="297.49" y="538.38" width="10.63" height="25.22" fill="#f1969e"/>
<rect x="307.82" y="538.38" width="10.63" height="25.22" fill="#e0f0fc"/>
<rect x="318.14" y="538.38" width="10.63" height="25.22" fill="#fae5e5"/>
<rect x="328.47" y="538.38" width="10.63" height="25.22" fill="#f1969e"/>
<rect x="80.6" y="563.3" width="10.63" height="25.22" fill="#ddeefc"/>
<rect x="90.93" y="563.3" width="10.63" height="25.22" fill="#a7d3f9"/>
<rect x="101.26" y="563.3" width="10.63" height="25.22" fill="#e8f4fc"/>
<rect x="111.58" y="563.3" width="10.63" height="25.22" fill="#c1dffa"/>
<rect x="121.91" y="563.3" width="10.63" height="25.22" fill="#fafdfe"/>
<rect x="132.24" y="563.3" width="10.63" height="25.22" fill="#a7d3f9"/>
<rect x="142.57" y="563.3" width="10.63" height="25.22" fill="#fafdfe"/>
<rect x="152.9" y="563.3" width="10.63" height="25.22" fill="#a7d3f9"/>
<rect x="163.22" y="563.3" width="10.63" height="25.22" fill="#f1969e"/>
<rect x="173.55" y="563.3" width="10.63" height="25.22" fill="#ddeefc"/>
<rect x="183.88" y="563.3" width="10.63" height="25.22" fill="#f7d3d6"/>
<rect x="194.21" y="563.3" width="10.63" height="25.22" fill="#f8dbdd"/>
<rect x="214.86" y="563.3" width="10.63" height="25.22" fill="#f1969e"/>
<rect x="225.19" y="563.3" width="10.63" height="25.22" fill="#fbedec"/>
<rect x="235.52" y="563.3" width="10.63" height="25.22" fill="#edf6fd"/>
<rect x="245.85" y="563.3" width="10.63" height="25.22" fill="#f1969e"/>
<rect x="256.18" y="563.3" width="10.63" height="25.22" fill="#f7ced1"/>
<rect x="266.5" y="563.3" width="10.63" height="25.22" fill="#f1969e"/>
<rect x="276.83" y="563.3" width="10.63" height="25.22" fill="#c1dffa"/>
<rect x="287.16" y="563.3" width="10.63" height="25.22" fill="#fdf4f2"/>
<rect x="297.49" y="563.3" width="10.63" height="25.22" fill="#f1969e"/>
<rect x="307.82" y="563.3" width="10.63" height="25.22" fill="#f4a8b0"/>
<rect x="318.14" y="563.3" width="10.63" height="25.22" fill="#f1969e"/>
<rect x="80.6" y="588.21" width="10.63" height="25.22" fill="#f8d8da"/>
<rect x="90.93" y="588.21" width="10.63" height="25.22" fill="#a7d3f9"/>
<rect x="101.26" y="588.21" width="10.63" height="25.22" fill="#f29ba3"/>
<rect x="111.58" y="588.21" width="10.63" height="25.22" fill="#a7d3f9"/>
<rect x="121.91" y="588.21" width="10.63" height="25.22" fill="#a7d3f9"/>
<rect x="132.24" y="588.21" width="10.63" height="25.22" fill="#a7d3f9"/>
<rect x="142.57" y="588.21" width="10.63" height="25.22" fill="#edf6fd"/>
<rect x="152.9" y="588.21" width="10.63" height="25.22" fill="#a7d3f9"/>
<rect x="163.22" y="588.21" width="10.63" height="25.22" fill="#f8d8da"/>
<rect x="173.55" y="588.21" width="10.63" height="25.22" fill="#e0f0fc"/>
<rect x="183.88" y="588.21" width="10.63" height="25.22" fill="#f1969e"/>
<rect x="194.21" y="588.21" width="10.63" height="25.22" fill="#fdf4f2"/>
<rect x="204.54" y="588.21" width="10.63" height="25.22" fill="#edf6fd"/>
<rect x="214.86" y="588.21" width="10.63" height="25.22" fill="#d6ebfc"/>
<rect x="225.19" y="588.21" width="10.63" height="25.22" fill="#f8dbdd"/>
<rect x="235.52" y="588.21" width="10.63" height="25.22" fill="#f5b6bc"/>
<rect x="245.85" y="588.21" width="10.63" height="25.22" fill="#a4d2f9"/>
<rect x="256.18" y="588.21" width="10.63" height="25.22" fill="#f29fa7"/>
<rect x="266.5" y="588.21" width="10.63" height="25.22" fill="#f4adb4"/>
<rect x="276.83" y="588.21" width="10.63" height="25.22" fill="#d3e9fb"/>
<rect x="287.16" y="588.21" width="10.63" height="25.22" fill="#fae8e8"/>
<rect x="297.49" y="588.21" width="10.63" height="25.22" fill="#f7d3d6"/>
<rect x="307.82" y="588.21" width="10.63" height="25.22" fill="#f5c0c4"/>
<rect x="328.47" y="588.21" width="10.63" height="25.22" fill="#e8f4fc"/>
<rect x="80.6" y="613.13" width="10.63" height="25.22" fill="#ddeefc"/>
<rect x="90.93" y="613.13" width="10.63" height="25.22" fill="#abd5f9"/>
<rect x="111.58" y="613.13" width="10.63" height="25.22" fill="#a4d2f9"/>
<rect x="121.91" y="613.13" width="10.63" height="25.22" fill="#f7d3d6"/>
<rect x="132.24" y="613.13" width="10.63" height="25.22" fill="#abd5f9"/>
<rect x="152.9" y="613.13" width="10.63" height="25.22" fill="#a9d4f9"/>
<rect x="163.22" y="613.13" width="10.63" height="25.22" fill="#e0f0fc"/>
<rect x="183.88" y="613.13" width="10.63" height="25.22" fill="#fdf4f2"/>
<rect x="204.54" y="613.13" width="10.63" height="25.22" fill="#f8dbdd"/>
<rect x="214.86" y="613.13" width="10.63" height="25.22" fill="#d6ebfc"/>
<rect x="235.52" y="613.13" width="10.63" height="25.22" fill="#abd5f9"/>
<rect x="245.85" y="613.13" width="10.63" height="25.22" fill="#f8d8da"/>
<rect x="256.18" y="613.13" width="10.63" height="25.22" fill="#f3a4ac"/>
<rect x="266.5" y="613.13" width="10.63" height="25.22" fill="#f1969e"/>
<rect x="276.83" y="613.13" width="10.63" height="25.22" fill="#e0f0fc"/>
<rect x="287.16" y="613.13" width="10.63" height="25.22" fill="#f1969e"/>
<rect x="297.49" y="613.13" width="10.63" height="25.22" fill="#f8d8da"/>
<rect x="307.82" y="613.13" width="10.63" height="25.22" fill="#d3e9fb"/>
<rect x="318.14" y="613.13" width="10.63" height="25.22" fill="#f1969e"/>
<rect x="328.47" y="613.13" width="10.63" height="25.22" fill="#f29ba3"/>
<rect x="80.6" y="638.04" width="10.63" height="25.22" fill="#a4d2f9"/>
<rect x="90.93" y="638.04" width="10.63" height="25.22" fill="#a4d2f9"/>
<rect x="101.26" y="638.04" width="10.63" height="25.22" fill="#fae5e5"/>
<rect x="111.58" y="638.04" width="10.63" height="25.22" fill="#c1dffa"/>
<rect x="121.91" y="638.04" width="10.63" height="25.22" fill="#ddeefc"/>
<rect x="132.24" y="638.04" width="10.63" height="25.22" fill="#d6ebfc"/>
<rect x="142.57" y="638.04" width="10.63" height="25.22" fill="#d3e9fb"/>
<rect x="152.9" y="638.04" width="10.63" height="25.22" fill="#a4d2f9"/>
<rect x="163.22" y="638.04" width="10.63" height="25.22" fill="#f29ba3"/>
<rect x="183.88" y="638.04" width="10.63" height="25.22" fill="#f1969e"/>
<rect x="204.54" y="638.04" width="10.63" height="25.22" fill="#f8dbdd"/>
<rect x="214.86" y="638.04" width="10.63" height="25.22" fill="#d6ebfc"/>
<rect x="225.19" y="638.04" width="10.63" height="25.22" fill="#f29ba3"/>
<rect x="235.52" y="638.04" width="10.63" height="25.22" fill="#ddeefc"/>
<rect x="256.18" y="638.04" width="10.63" height="25.22" fill="#f5c0c4"/>
<rect x="266.5" y="638.04" width="10.63" height="25.22" fill="#f5bbc0"/>
<rect x="287.16" y="638.04" width="10.63" height="25.22" fill="#f1969e"/>
<rect x="297.49" y="638.04" width="10.63" height="25.22" fill="#fdf4f2"/>
<rect x="318.14" y="638.04" width="10.63" height="25.22" fill="#f1969e"/>
<rect x="328.47" y="638.04" width="10.63" height="25.22" fill="#f1969e"/>
<rect x="90.93" y="662.96" width="10.63" height="25.22" fill="#a4d2f9"/>
<rect x="101.26" y="662.96" width="10.63" height="25.22" fill="#a7d3f9"/>
<rect x="111.58" y="662.96" width="10.63" height="25.22" fill="#a4d2f9"/>
<rect x="121.91" y="662.96" width="10.63" height="25.22" fill="#a9d4f9"/>
<rect x="132.24" y="662.96" width="10.63" height="25.22" fill="#bcdcfa"/>
<rect x="142.57" y="662.96" width="10.63" height="25.22" fill="#b9dbfa"/>
<rect x="152.9" y="662.96" width="10.63" height="25.22" fill="#a4d2f9"/>
<rect x="163.22" y="662.96" width="10.63" height="25.22" fill="#b2d8f9"/>
<rect x="183.88" y="662.96" width="10.63" height="25.22" fill="#fae5e5"/>
<rect x="194.21" y="662.96" width="10.63" height="25.22" fill="#b2d8f9"/>
<rect x="204.54" y="662.96" width="10.63" height="25.22" fill="#ddeefc"/>
<rect x="214.86" y="662.96" width="10.63" height="25.22" fill="#f5c0c4"/>
<rect x="225.19" y="662.96" width="10.63" height="25.22" fill="#f1969e"/>
<rect x="235.52" y="662.96" width="10.63" height="25.22" fill="#f8dbdd"/>
<rect x="245.85" y="662.96" width="10.63" height="25.22" fill="#fbedec"/>
<rect x="256.18" y="662.96" width="10.63" height="25.22" fill="#f5b6bc"/>
<rect x="266.5" y="662.96" width="10.63" height="25.22" fill="#a7d3f9"/>
<rect x="276.83" y="662.96" width="10.63" height="25.22" fill="#b2d8f9"/>
<rect x="287.16" y="662.96" width="10.63" height="25.22" fill="#f8d8da"/>
<rect x="297.49" y="662.96" width="10.63" height="25.22" fill="#f4b2b8"/>
<rect x="307.82" y="662.96" width="10.63" height="25.22" fill="#f4b2b8"/>
<rect x="318.14" y="662.96" width="10.63" height="25.22" fill="#f9dee0"/>
<rect x="328.47" y="662.96" width="10.63" height="25.22" fill="#f1969e"/>
<rect x="80.6" y="687.88" width="10.63" height="25.22" fill="#bcdcfa"/>
<rect x="90.93" y="687.88" width="10.63" height="25.22" fill="#a7d3f9"/>
<rect x="101.26" y="687.88" width="10.63" height="25.22" fill="#b9dbfa"/>
<rect x="111.58" y="687.88" width="10.63" height="25.22" fill="#a4d2f9"/>
<rect x="121.91" y="687.88" width="10.63" height="25.22" fill="#a9d4f9"/>
<rect x="132.24" y="687.88" width="10.63" height="25.22" fill="#cfe8fb"/>
<rect x="152.9" y="687.88" width="10.63" height="25.22" fill="#a4d2f9"/>
<rect x="163.22" y="687.88" width="10.63" height="25.22" fill="#c6e2fa"/>
<rect x="173.55" y="687.88" width="10.63" height="25.22" fill="#fae8e8"/>
<rect x="183.88" y="687.88" width="10.63" height="25.22" fill="#fdf4f2"/>
<rect x="194.21" y="687.88" width="10.63" height="25.22" fill="#c1dffa"/>
<rect x="204.54" y="687.88" width="10.63" height="25.22" fill="#f5bbc0"/>
<rect x="214.86" y="687.88" width="10.63" height="25.22" fill="#f1969e"/>
<rect x="225.19" y="687.88" width="10.63" height="25.22" fill="#f4b2b8"/>
<rect x="235.52" y="687.88" width="10.63" height="25.22" fill="#ddeefc"/>
<rect x="245.85" y="687.88" width="10.63" height="25.22" fill="#f7ced1"/>
<rect x="256.18" y="687.88" width="10.63" height="25.22" fill="#f8d8da"/>
<rect x="266.5" y="687.88" width="10.63" height="25.22" fill="#e2f1fc"/>
<rect x="276.83" y="687.88" width="10.63" height="25.22" fill="#b2d8f9"/>
<rect x="287.16" y="687.88" width="10.63" height="25.22" fill="#f1969e"/>
<rect x="297.49" y="687.88" width="10.63" height="25.22" fill="#f29ba3"/>
<rect x="307.82" y="687.88" width="10.63" height="25.22" fill="#f5b6bc"/>
<rect x="318.14" y="687.88" width="10.63" height="25.22" fill="#f1969e"/>
<rect x="328.47" y="687.88" width="10.63" height="25.22" fill="#f1969e"/>
<rect x="80.6" y="712.79" width="10.63" height="25.22" fill="#bcdcfa"/>
<rect x="90.93" y="712.79" width="10.63" height="25.22" fill="#a7d3f9"/>
<rect x="101.26" y="712.79" width="10.63" height="25.22" fill="#a4d2f9"/>
<rect x="111.58" y="712.79" width="10.63" height="25.22" fill="#a4d2f9"/>
<rect x="121.91" y="712.79" width="10.63" height="25.22" fill="#a9d4f9"/>
<rect x="132.24" y="712.79" width="10.63" height="25.22" fill="#c8e4fa"/>
<rect x="142.57" y="712.79" width="10.63" height="25.22" fill="#f6fbfe"/>
<rect x="152.9" y="712.79" width="10.63" height="25.22" fill="#a4d2f9"/>
<rect x="163.22" y="712.79" width="10.63" height="25.22" fill="#d3e9fb"/>
<rect x="183.88" y="712.79" width="10.63" height="25.22" fill="#fdf4f2"/>
<rect x="194.21" y="712.79" width="10.63" height="25.22" fill="#c6e2fa"/>
<rect x="204.54" y="712.79" width="10.63" height="25.22" fill="#f5bbc0"/>
<rect x="214.86" y="712.79" width="10.63" height="25.22" fill="#f1969e"/>
<rect x="225.19" y="712.79" width="10.63" height="25.22" fill="#f4b2b8"/>
<rect x="245.85" y="712.79" width="10.63" height="25.22" fill="#f7ced1"/>
<rect x="256.18" y="712.79" width="10.63" height="25.22" fill="#f6cacd"/>
<rect x="266.5" y="712.79" width="10.63" height="25.22" fill="#fcf2f0"/>
<rect x="276.83" y="712.79" width="10.63" height="25.22" fill="#a4d2f9"/>
<rect x="287.16" y="712.79" width="10.63" height="25.22" fill="#e2f1fc"/>
<rect x="297.49" y="712.79" width="10.63" height="25.22" fill="#f1969e"/>
<rect x="307.82" y="712.79" width="10.63" height="25.22" fill="#f8d8da"/>
<rect x="318.14" y="712.79" width="10.63" height="25.22" fill="#f4a8b0"/>
<rect x="328.47" y="712.79" width="10.63" height="25.22" fill="#f1969e"/>
<rect x="80.6" y="737.71" width="10.63" height="25.22" fill="#c6e2fa"/>
<rect x="90.93" y="737.71" width="10.63" height="25.22" fill="#a7d3f9"/>
<rect x="101.26" y="737.71" width="10.63" height="25.22" fill="#abd5f9"/>
<rect x="111.58" y="737.71" width="10.63" height="25.22" fill="#a9d4f9"/>
<rect x="121.91" y="737.71" width="10.63" height="25.22" fill="#a7d3f9"/>
<rect x="132.24" y="737.71" width="10.63" height="25.22" fill="#f29ba3"/>
<rect x="142.57" y="737.71" width="10.63" height="25.22" fill="#a4d2f9"/>
<rect x="152.9" y="737.71" width="10.63" height="25.22" fill="#f29ba3"/>
<rect x="163.22" y="737.71" width="10.63" height="25.22" fill="#e8f4fc"/>
<rect x="173.55" y="737.71" width="10.63" height="25.22" fill="#fcf2f0"/>
<rect x="183.88" y="737.71" width="10.63" height="25.22" fill="#fbedec"/>
<rect x="194.21" y="737.71" width="10.63" height="25.22" fill="#abd5f9"/>
<rect x="214.86" y="737.71" width="10.63" height="25.22" fill="#d6ebfc"/>
<rect x="225.19" y="737.71" width="10.63" height="25.22" fill="#f5bbc0"/>
<rect x="235.52" y="737.71" width="10.63" height="25.22" fill="#a4d2f9"/>
<rect x="245.85" y="737.71" width="10.63" height="25.22" fill="#f1969e"/>
<rect x="256.18" y="737.71" width="10.63" height="25.22" fill="#f4adb4"/>
<rect x="266.5" y="737.71" width="10.63" height="25.22" fill="#d6ebfc"/>
<rect x="276.83" y="737.71" width="10.63" height="25.22" fill="#f5b6bc"/>
<rect x="287.16" y="737.71" width="10.63" height="25.22" fill="#f1969e"/>
<rect x="297.49" y="737.71" width="10.63" height="25.22" fill="#c6e2fa"/>
<rect x="307.82" y="737.71" width="10.63" height="25.22" fill="#f1969e"/>
<rect x="318.14" y="737.71" width="10.63" height="25.22" fill="#f1969e"/>
<rect x="328.47" y="737.71" width="10.63" height="25.22" fill="#f1969e"/>
<rect x="80.6" y="762.62" width="10.63" height="25.22" fill="#c1dffa"/>
<rect x="90.93" y="762.62" width="10.63" height="25.22" fill="#f1f8fd"/>
<rect x="101.26" y="762.62" width="10.63" height="25.22" fill="#f6fbfe"/>
<rect x="111.58" y="762.62" width="10.63" height="25.22" fill="#fafdfe"/>
<rect x="121.91" y="762.62" width="10.63" height="25.22" fill="#f6fbfe"/>
<rect x="142.57" y="762.62" width="10.63" height="25.22" fill="#a7d3f9"/>
<rect x="163.22" y="762.62" width="10.63" height="25.22" fill="#a4d2f9"/>
<rect x="183.88" y="762.62" width="10.63" height="25.22" fill="#f1969e"/>
<rect x="194.21" y="762.62" width="10.63" height="25.22" fill="#c6e2fa"/>
<rect x="204.54" y="762.62" width="10.63" height="25.22" fill="#fcf2f0"/>
<rect x="214.86" y="762.62" width="10.63" height="25.22" fill="#d3e9fb"/>
<rect x="225.19" y="762.62" width="10.63" height="25.22" fill="#f29ba3"/>
<rect x="235.52" y="762.62" width="10.63" height="25.22" fill="#b2d8f9"/>
<rect x="245.85" y="762.62" width="10.63" height="25.22" fill="#f3a4ac"/>
<rect x="256.18" y="762.62" width="10.63" height="25.22" fill="#f1969e"/>
<rect x="266.5" y="762.62" width="10.63" height="25.22" fill="#f5c0c4"/>
<rect x="276.83" y="762.62" width="10.63" height="25.22" fill="#f4adb4"/>
<rect x="287.16" y="762.62" width="10.63" height="25.22" fill="#f8d8da"/>
<rect x="297.49" y="762.62" width="10.63" height="25.22" fill="#a7d3f9"/>
<rect x="307.82" y="762.62" width="10.63" height="25.22" fill="#e8f4fc"/>
<rect x="318.14" y="762.62" width="10.63" height="25.22" fill="#f1969e"/>
<rect x="328.47" y="762.62" width="10.63" height="25.22" fill="#f1969e"/>
<rect x="80.6" y="787.54" width="10.63" height="25.22" fill="#f1969e"/>
<rect x="90.93" y="787.54" width="10.63" height="25.22" fill="#f3a4ac"/>
<rect x="101.26" y="787.54" width="10.63" height="25.22" fill="#ddeefc"/>
<rect x="111.58" y="787.54" width="10.63" height="25.22" fill="#c6e2fa"/>
<rect x="121.91" y="787.54" width="10.63" height="25.22" fill="#ddeefc"/>
<rect x="132.24" y="787.54" width="10.63" height="25.22" fill="#f29ba3"/>
<rect x="142.57" y="787.54" width="10.63" height="25.22" fill="#c1dffa"/>
<rect x="152.9" y="787.54" width="10.63" height="25.22" fill="#cce6fa"/>
<rect x="163.22" y="787.54" width="10.63" height="25.22" fill="#bedefa"/>
<rect x="173.55" y="787.54" width="10.63" height="25.22" fill="#d3e9fb"/>
<rect x="183.88" y="787.54" width="10.63" height="25.22" fill="#f1969e"/>
<rect x="194.21" y="787.54" width="10.63" height="25.22" fill="#f1969e"/>
<rect x="204.54" y="787.54" width="10.63" height="25.22" fill="#e2f1fc"/>
<rect x="214.86" y="787.54" width="10.63" height="25.22" fill="#d6ebfc"/>
<rect x="225.19" y="787.54" width="10.63" height="25.22" fill="#f1969e"/>
<rect x="235.52" y="787.54" width="10.63" height="25.22" fill="#e2f1fc"/>
<rect x="245.85" y="787.54" width="10.63" height="25.22" fill="#f3a4ac"/>
<rect x="256.18" y="787.54" width="10.63" height="25.22" fill="#f6fbfe"/>
<rect x="266.5" y="787.54" width="10.63" height="25.22" fill="#f1969e"/>
<rect x="276.83" y="787.54" width="10.63" height="25.22" fill="#f1969e"/>
<rect x="287.16" y="787.54" width="10.63" height="25.22" fill="#f1969e"/>
<rect x="297.49" y="787.54" width="10.63" height="25.22" fill="#ddeefc"/>
<rect x="318.14" y="787.54" width="10.63" height="25.22" fill="#f4a8b0"/>
<rect x="328.47" y="787.54" width="10.63" height="25.22" fill="#f1969e"/>
<rect x="80.6" y="812.46" width="10.63" height="25.22" fill="#ddeefc"/>
<rect x="90.93" y="812.46" width="10.63" height="25.22" fill="#f5bbc0"/>
<rect x="101.26" y="812.46" width="10.63" height="25.22" fill="#d6ebfc"/>
<rect x="111.58" y="812.46" width="10.63" height="25.22" fill="#f9e2e2"/>
<rect x="132.24" y="812.46" width="10.63" height="25.22" fill="#a7d3f9"/>
<rect x="142.57" y="812.46" width="10.63" height="25.22" fill="#fbedec"/>
<rect x="152.9" y="812.46" width="10.63" height="25.22" fill="#a4d2f9"/>
<rect x="163.22" y="812.46" width="10.63" height="25.22" fill="#c1dffa"/>
<rect x="173.55" y="812.46" width="10.63" height="25.22" fill="#c6e2fa"/>
<rect x="183.88" y="812.46" width="10.63" height="25.22" fill="#f6fbfe"/>
<rect x="204.54" y="812.46" width="10.63" height="25.22" fill="#f4a8b0"/>
<rect x="214.86" y="812.46" width="10.63" height="25.22" fill="#f6cacd"/>
<rect x="225.19" y="812.46" width="10.63" height="25.22" fill="#f29ba3"/>
<rect x="235.52" y="812.46" width="10.63" height="25.22" fill="#f1969e"/>
<rect x="245.85" y="812.46" width="10.63" height="25.22" fill="#f1969e"/>
<rect x="256.18" y="812.46" width="10.63" height="25.22" fill="#f1969e"/>
<rect x="266.5" y="812.46" width="10.63" height="25.22" fill="#ddeefc"/>
<rect x="276.83" y="812.46" width="10.63" height="25.22" fill="#e8f4fc"/>
<rect x="297.49" y="812.46" width="10.63" height="25.22" fill="#e2f1fc"/>
<rect x="307.82" y="812.46" width="10.63" height="25.22" fill="#cce6fa"/>
<rect x="318.14" y="812.46" width="10.63" height="25.22" fill="#f1969e"/>
<rect x="328.47" y="812.46" width="10.63" height="25.22" fill="#f7d3d6"/>
<rect x="80.6" y="837.37" width="10.63" height="25.22" fill="#c8e4fa"/>
<rect x="90.93" y="837.37" width="10.63" height="25.22" fill="#f5c0c4"/>
<rect x="101.26" y="837.37" width="10.63" height="25.22" fill="#ddeefc"/>
<rect x="111.58" y="837.37" width="10.63" height="25.22" fill="#fdf4f2"/>
<rect x="121.91" y="837.37" width="10.63" height="25.22" fill="#fdf4f2"/>
<rect x="132.24" y="837.37" width="10.63" height="25.22" fill="#a7d3f9"/>
<rect x="142.57" y="837.37" width="10.63" height="25.22" fill="#f6fbfe"/>
<rect x="152.9" y="837.37" width="10.63" height="25.22" fill="#a4d2f9"/>
<rect x="163.22" y="837.37" width="10.63" height="25.22" fill="#a7d3f9"/>
<rect x="173.55" y="837.37" width="10.63" height="25.22" fill="#c6e2fa"/>
<rect x="183.88" y="837.37" width="10.63" height="25.22" fill="#f6fbfe"/>
<rect x="204.54" y="837.37" width="10.63" height="25.22" fill="#f8d8da"/>
<rect x="214.86" y="837.37" width="10.63" height="25.22" fill="#f5bbc0"/>
<rect x="225.19" y="837.37" width="10.63" height="25.22" fill="#f4a8b0"/>
<rect x="235.52" y="837.37" width="10.63" height="25.22" fill="#f1969e"/>
<rect x="245.85" y="837.37" width="10.63" height="25.22" fill="#f1969e"/>
<rect x="256.18" y="837.37" width="10.63" height="25.22" fill="#f1969e"/>
<rect x="276.83" y="837.37" width="10.63" height="25.22" fill="#e2f1fc"/>
<rect x="287.16" y="837.37" width="10.63" height="25.22" fill="#fdf4f2"/>
<rect x="297.49" y="837.37" width="10.63" height="25.22" fill="#c6e2fa"/>
<rect x="307.82" y="837.37" width="10.63" height="25.22" fill="#ddeefc"/>
<rect x="318.14" y="837.37" width="10.63" height="25.22" fill="#f1969e"/>
<rect x="328.47" y="837.37" width="10.63" height="25.22" fill="#f8d8da"/>
<rect x="80.6" y="862.29" width="10.63" height="25.22" fill="#fdf4f2"/>
<rect x="90.93" y="862.29" width="10.63" height="25.22" fill="#fdf4f2"/>
<rect x="101.26" y="862.29" width="10.63" height="25.22" fill="#f1f8fd"/>
<rect x="111.58" y="862.29" width="10.63" height="25.22" fill="#f6fbfe"/>
<rect x="121.91" y="862.29" width="10.63" height="25.22" fill="#d3e9fb"/>
<rect x="132.24" y="862.29" width="10.63" height="25.22" fill="#cce6fa"/>
<rect x="142.57" y="862.29" width="10.63" height="25.22" fill="#a7d3f9"/>
<rect x="163.22" y="862.29" width="10.63" height="25.22" fill="#bedefa"/>
<rect x="173.55" y="862.29" width="10.63" height="25.22" fill="#bcdcfa"/>
<rect x="183.88" y="862.29" width="10.63" height="25.22" fill="#f8dbdd"/>
<rect x="194.21" y="862.29" width="10.63" height="25.22" fill="#f29ba3"/>
<rect x="204.54" y="862.29" width="10.63" height="25.22" fill="#f1969e"/>
<rect x="214.86" y="862.29" width="10.63" height="25.22" fill="#c6e2fa"/>
<rect x="225.19" y="862.29" width="10.63" height="25.22" fill="#f5c0c4"/>
<rect x="235.52" y="862.29" width="10.63" height="25.22" fill="#fae5e5"/>
<rect x="245.85" y="862.29" width="10.63" height="25.22" fill="#f1969e"/>
<rect x="256.18" y="862.29" width="10.63" height="25.22" fill="#f1969e"/>
<rect x="266.5" y="862.29" width="10.63" height="25.22" fill="#f3a4ac"/>
<rect x="276.83" y="862.29" width="10.63" height="25.22" fill="#a4d2f9"/>
<rect x="297.49" y="862.29" width="10.63" height="25.22" fill="#a7d3f9"/>
<rect x="307.82" y="862.29" width="10.63" height="25.22" fill="#ddeefc"/>
<rect x="318.14" y="862.29" width="10.63" height="25.22" fill="#f1969e"/>
<rect x="328.47" y="862.29" width="10.63" height="25.22" fill="#f6fbfe"/>
<rect x="80.6" y="887.2" width="10.63" height="25.22" fill="#e8f4fc"/>
<rect x="90.93" y="887.2" width="10.63" height="25.22" fill="#f1969e"/>
<rect x="101.26" y="887.2" width="10.63" height="25.22" fill="#c1dffa"/>
<rect x="111.58" y="887.2" width="10.63" height="25.22" fill="#cce6fa"/>
<rect x="132.24" y="887.2" width="10.63" height="25.22" fill="#fdf4f2"/>
<rect x="142.57" y="887.2" width="10.63" height="25.22" fill="#c1dffa"/>
<rect x="152.9" y="887.2" width="10.63" height="25.22" fill="#a7d3f9"/>
<rect x="163.22" y="887.2" width="10.63" height="25.22" fill="#b2d8f9"/>
<rect x="183.88" y="887.2" width="10.63" height="25.22" fill="#f5bbc0"/>
<rect x="194.21" y="887.2" width="10.63" height="25.22" fill="#f5b6bc"/>
<rect x="204.54" y="887.2" width="10.63" height="25.22" fill="#f1969e"/>
<rect x="214.86" y="887.2" width="10.63" height="25.22" fill="#c6e2fa"/>
<rect x="225.19" y="887.2" width="10.63" height="25.22" fill="#f1969e"/>
<rect x="235.52" y="887.2" width="10.63" height="25.22" fill="#fae8e8"/>
<rect x="245.85" y="887.2" width="10.63" height="25.22" fill="#f1969e"/>
<rect x="266.5" y="887.2" width="10.63" height="25.22" fill="#fae8e8"/>
<rect x="276.83" y="887.2" width="10.63" height="25.22" fill="#c6e2fa"/>
<rect x="287.16" y="887.2" width="10.63" height="25.22" fill="#f1f8fd"/>
<rect x="297.49" y="887.2" width="10.63" height="25.22" fill="#d3e9fb"/>
<rect x="307.82" y="887.2" width="10.63" height="25.22" fill="#f1969e"/>
<rect x="318.14" y="887.2" width="10.63" height="25.22" fill="#f1969e"/>
<rect x="328.47" y="887.2" width="10.63" height="25.22" fill="#f6cacd"/>
<rect x="80.6" y="912.12" width="10.63" height="25.22" fill="#e2f1fc"/>
<rect x="90.93" y="912.12" width="10.63" height="25.22" fill="#f1969e"/>
<rect x="101.26" y="912.12" width="10.63" height="25.22" fill="#b2d8f9"/>
<rect x="111.58" y="912.12" width="10.63" height="25.22" fill="#ddeefc"/>
<rect x="121.91" y="912.12" width="10.63" height="25.22" fill="#fae8e8"/>
<rect x="142.57" y="912.12" width="10.63" height="25.22" fill="#b5d9fa"/>
<rect x="152.9" y="912.12" width="10.63" height="25.22" fill="#b2d8f9"/>
<rect x="163.22" y="912.12" width="10.63" height="25.22" fill="#a7d3f9"/>
<rect x="173.55" y="912.12" width="10.63" height="25.22" fill="#fdf4f2"/>
<rect x="183.88" y="912.12" width="10.63" height="25.22" fill="#f7ced1"/>
<rect x="194.21" y="912.12" width="10.63" height="25.22" fill="#f6cacd"/>
<rect x="204.54" y="912.12" width="10.63" height="25.22" fill="#f1969e"/>
<rect x="214.86" y="912.12" width="10.63" height="25.22" fill="#a9d4f9"/>
<rect x="225.19" y="912.12" width="10.63" height="25.22" fill="#f1969e"/>
<rect x="235.52" y="912.12" width="10.63" height="25.22" fill="#e8f4fc"/>
<rect x="245.85" y="912.12" width="10.63" height="25.22" fill="#f1969e"/>
<rect x="266.5" y="912.12" width="10.63" height="25.22" fill="#f8d8da"/>
<rect x="276.83" y="912.12" width="10.63" height="25.22" fill="#e2f1fc"/>
<rect x="297.49" y="912.12" width="10.63" height="25.22" fill="#a7d3f9"/>
<rect x="307.82" y="912.12" width="10.63" height="25.22" fill="#f1969e"/>
<rect x="318.14" y="912.12" width="10.63" height="25.22" fill="#f1969e"/>
<rect x="328.47" y="912.12" width="10.63" height="25.22" fill="#fae5e5"/>
<rect x="80.6" y="937.04" width="10.63" height="25.22" fill="#bedefa"/>
<rect x="90.93" y="937.04" width="10.63" height="25.22" fill="#cce6fa"/>
<rect x="101.26" y="937.04" width="10.63" height="25.22" fill="#fafdfe"/>
<rect x="111.58" y="937.04" width="10.63" height="25.22" fill="#e2f1fc"/>
<rect x="121.91" y="937.04" width="10.63" height="25.22" fill="#f8dbdd"/>
<rect x="132.24" y="937.04" width="10.63" height="25.22" fill="#cce6fa"/>
<rect x="142.57" y="937.04" width="10.63" height="25.22" fill="#f5b6bc"/>
<rect x="152.9" y="937.04" width="10.63" height="25.22" fill="#d6ebfc"/>
<rect x="163.22" y="937.04" width="10.63" height="25.22" fill="#edf6fd"/>
<rect x="183.88" y="937.04" width="10.63" height="25.22" fill="#edf6fd"/>
<rect x="194.21" y="937.04" width="10.63" height="25.22" fill="#abd5f9"/>
<rect x="204.54" y="937.04" width="10.63" height="25.22" fill="#f8d8da"/>
<rect x="214.86" y="937.04" width="10.63" height="25.22" fill="#f8dbdd"/>
<rect x="225.19" y="937.04" width="10.63" height="25.22" fill="#ddeefc"/>
<rect x="235.52" y="937.04" width="10.63" height="25.22" fill="#f1969e"/>
<rect x="245.85" y="937.04" width="10.63" height="25.22" fill="#f1969e"/>
<rect x="256.18" y="937.04" width="10.63" height="25.22" fill="#f1969e"/>
<rect x="266.5" y="937.04" width="10.63" height="25.22" fill="#f4b2b8"/>
<rect x="276.83" y="937.04" width="10.63" height="25.22" fill="#e2f1fc"/>
<rect x="287.16" y="937.04" width="10.63" height="25.22" fill="#f1969e"/>
<rect x="297.49" y="937.04" width="10.63" height="25.22" fill="#fae8e8"/>
<rect x="307.82" y="937.04" width="10.63" height="25.22" fill="#f1969e"/>
<rect x="318.14" y="937.04" width="10.63" height="25.22" fill="#f8d8da"/>
<rect x="328.47" y="937.04" width="10.63" height="25.22" fill="#edf6fd"/>
<rect x="80.6" y="961.95" width="10.63" height="25.22" fill="#b5d9fa"/>
<rect x="90.93" y="961.95" width="10.63" height="25.22" fill="#e2f1fc"/>
<rect x="101.26" y="961.95" width="10.63" height="25.22" fill="#bedefa"/>
<rect x="111.58" y="961.95" width="10.63" height="25.22" fill="#a7d3f9"/>
<rect x="121.91" y="961.95" width="10.63" height="25.22" fill="#bedefa"/>
<rect x="142.57" y="961.95" width="10.63" height="25.22" fill="#d6ebfc"/>
<rect x="152.9" y="961.95" width="10.63" height="25.22" fill="#a7d3f9"/>
<rect x="163.22" y="961.95" width="10.63" height="25.22" fill="#b2d8f9"/>
<rect x="173.55" y="961.95" width="10.63" height="25.22" fill="#edf6fd"/>
<rect x="183.88" y="961.95" width="10.63" height="25.22" fill="#e8f4fc"/>
<rect x="194.21" y="961.95" width="10.63" height="25.22" fill="#f7ced1"/>
<rect x="204.54" y="961.95" width="10.63" height="25.22" fill="#f8dbdd"/>
<rect x="214.86" y="961.95" width="10.63" height="25.22" fill="#f1969e"/>
<rect x="225.19" y="961.95" width="10.63" height="25.22" fill="#fae8e8"/>
<rect x="235.52" y="961.95" width="10.63" height="25.22" fill="#f5bbc0"/>
<rect x="245.85" y="961.95" width="10.63" height="25.22" fill="#f1969e"/>
<rect x="256.18" y="961.95" width="10.63" height="25.22" fill="#f1969e"/>
<rect x="276.83" y="961.95" width="10.63" height="25.22" fill="#f6fbfe"/>
<rect x="297.49" y="961.95" width="10.63" height="25.22" fill="#fae8e8"/>
<rect x="307.82" y="961.95" width="10.63" height="25.22" fill="#f1969e"/>
<rect x="318.14" y="961.95" width="10.63" height="25.22" fill="#f6cacd"/>
<rect x="328.47" y="961.95" width="10.63" height="25.22" fill="#f1969e"/>
<rect x="80.6" y="986.87" width="10.63" height="25.22" fill="#f1f8fd"/>
<rect x="90.93" y="986.87" width="10.63" height="25.22" fill="#f8dbdd"/>
<rect x="101.26" y="986.87" width="10.63" height="25.22" fill="#e2f1fc"/>
<rect x="111.58" y="986.87" width="10.63" height="25.22" fill="#e2f1fc"/>
<rect x="132.24" y="986.87" width="10.63" height="25.22" fill="#edf6fd"/>
<rect x="142.57" y="986.87" width="10.63" height="25.22" fill="#ddeefc"/>
<rect x="152.9" y="986.87" width="10.63" height="25.22" fill="#fdf4f2"/>
<rect x="163.22" y="986.87" width="10.63" height="25.22" fill="#edf6fd"/>
<rect x="173.55" y="986.87" width="10.63" height="25.22" fill="#edf6fd"/>
<rect x="183.88" y="986.87" width="10.63" height="25.22" fill="#fafdfe"/>
<rect x="204.54" y="986.87" width="10.63" height="25.22" fill="#f8d8da"/>
<rect x="214.86" y="986.87" width="10.63" height="25.22" fill="#f1f8fd"/>
<rect x="225.19" y="986.87" width="10.63" height="25.22" fill="#f5bbc0"/>
<rect x="245.85" y="986.87" width="10.63" height="25.22" fill="#f1969e"/>
<rect x="256.18" y="986.87" width="10.63" height="25.22" fill="#f1969e"/>
<rect x="276.83" y="986.87" width="10.63" height="25.22" fill="#e8f4fc"/>
<rect x="287.16" y="986.87" width="10.63" height="25.22" fill="#f8dbdd"/>
<rect x="307.82" y="986.87" width="10.63" height="25.22" fill="#f1969e"/>
<rect x="318.14" y="986.87" width="10.63" height="25.22" fill="#f1969e"/>
<rect x="328.47" y="986.87" width="10.63" height="25.22" fill="#f29ba3"/>
<rect x="80.6" y="1011.78" width="10.63" height="25.22" fill="#d3e9fb"/>
<rect x="90.93" y="1011.78" width="10.63" height="25.22" fill="#b2d8f9"/>
<rect x="101.26" y="1011.78" width="10.63" height="25.22" fill="#c1dffa"/>
<rect x="111.58" y="1011.78" width="10.63" height="25.22" fill="#c6e2fa"/>
<rect x="121.91" y="1011.78" width="10.63" height="25.22" fill="#f1969e"/>
<rect x="132.24" y="1011.78" width="10.63" height="25.22" fill="#d3e9fb"/>
<rect x="142.57" y="1011.78" width="10.63" height="25.22" fill="#a9d4f9"/>
<rect x="152.9" y="1011.78" width="10.63" height="25.22" fill="#d3e9fb"/>
<rect x="163.22" y="1011.78" width="10.63" height="25.22" fill="#f5b6bc"/>
<rect x="183.88" y="1011.78" width="10.63" height="25.22" fill="#f29ba3"/>
<rect x="194.21" y="1011.78" width="10.63" height="25.22" fill="#edf6fd"/>
<rect x="204.54" y="1011.78" width="10.63" height="25.22" fill="#b9dbfa"/>
<rect x="214.86" y="1011.78" width="10.63" height="25.22" fill="#f7ced1"/>
<rect x="235.52" y="1011.78" width="10.63" height="25.22" fill="#f1969e"/>
<rect x="245.85" y="1011.78" width="10.63" height="25.22" fill="#f1969e"/>
<rect x="256.18" y="1011.78" width="10.63" height="25.22" fill="#f5b6bc"/>
<rect x="266.5" y="1011.78" width="10.63" height="25.22" fill="#d6ebfc"/>
<rect x="276.83" y="1011.78" width="10.63" height="25.22" fill="#d3e9fb"/>
<rect x="287.16" y="1011.78" width="10.63" height="25.22" fill="#f29ba3"/>
<rect x="297.49" y="1011.78" width="10.63" height="25.22" fill="#f8d8da"/>
<rect x="307.82" y="1011.78" width="10.63" height="25.22" fill="#f1969e"/>
<rect x="318.14" y="1011.78" width="10.63" height="25.22" fill="#f1969e"/>
<rect x="328.47" y="1011.78" width="10.63" height="25.22" fill="#f4b2b8"/>
<rect x="90.93" y="1036.7" width="10.63" height="25.22" fill="#fae8e8"/>
<rect x="101.26" y="1036.7" width="10.63" height="25.22" fill="#c6e2fa"/>
<rect x="111.58" y="1036.7" width="10.63" height="25.22" fill="#c6e2fa"/>
<rect x="121.91" y="1036.7" width="10.63" height="25.22" fill="#d3e9fb"/>
<rect x="132.24" y="1036.7" width="10.63" height="25.22" fill="#f5bbc0"/>
<rect x="142.57" y="1036.7" width="10.63" height="25.22" fill="#cce6fa"/>
<rect x="152.9" y="1036.7" width="10.63" height="25.22" fill="#f8dbdd"/>
<rect x="163.22" y="1036.7" width="10.63" height="25.22" fill="#d3e9fb"/>
<rect x="173.55" y="1036.7" width="10.63" height="25.22" fill="#d6ebfc"/>
<rect x="183.88" y="1036.7" width="10.63" height="25.22" fill="#f6cacd"/>
<rect x="194.21" y="1036.7" width="10.63" height="25.22" fill="#ddeefc"/>
<rect x="204.54" y="1036.7" width="10.63" height="25.22" fill="#cfe8fb"/>
<rect x="214.86" y="1036.7" width="10.63" height="25.22" fill="#cfe8fb"/>
<rect x="225.19" y="1036.7" width="10.63" height="25.22" fill="#f1969e"/>
<rect x="235.52" y="1036.7" width="10.63" height="25.22" fill="#f5c0c4"/>
<rect x="245.85" y="1036.7" width="10.63" height="25.22" fill="#fdf4f2"/>
<rect x="256.18" y="1036.7" width="10.63" height="25.22" fill="#f1969e"/>
<rect x="276.83" y="1036.7" width="10.63" height="25.22" fill="#f8dbdd"/>
<rect x="287.16" y="1036.7" width="10.63" height="25.22" fill="#d3e9fb"/>
<rect x="297.49" y="1036.7" width="10.63" height="25.22" fill="#d3e9fb"/>
<rect x="307.82" y="1036.7" width="10.63" height="25.22" fill="#f1969e"/>
<rect x="318.14" y="1036.7" width="10.63" height="25.22" fill="#fae8e8"/>
<rect x="328.47" y="1036.7" width="10.63" height="25.22" fill="#f1969e"/>
<rect x="80.6" y="1061.62" width="10.63" height="25.22" fill="#f1f8fd"/>
<rect x="90.93" y="1061.62" width="10.63" height="25.22" fill="#c6e2fa"/>
<rect x="101.26" y="1061.62" width="10.63" height="25.22" fill="#f1f8fd"/>
<rect x="111.58" y="1061.62" width="10.63" height="25.22" fill="#c1dffa"/>
<rect x="121.91" y="1061.62" width="10.63" height="25.22" fill="#fdf4f2"/>
<rect x="132.24" y="1061.62" width="10.63" height="25.22" fill="#e8f4fc"/>
<rect x="152.9" y="1061.62" width="10.63" height="25.22" fill="#fdf4f2"/>
<rect x="163.22" y="1061.62" width="10.63" height="25.22" fill="#e0f0fc"/>
<rect x="173.55" y="1061.62" width="10.63" height="25.22" fill="#f5c0c4"/>
<rect x="183.88" y="1061.62" width="10.63" height="25.22" fill="#fafdfe"/>
<rect x="225.19" y="1061.62" width="10.63" height="25.22" fill="#f6cacd"/>
<rect x="235.52" y="1061.62" width="10.63" height="25.22" fill="#f29ba3"/>
<rect x="245.85" y="1061.62" width="10.63" height="25.22" fill="#f7d3d6"/>
<rect x="256.18" y="1061.62" width="10.63" height="25.22" fill="#f1969e"/>
<rect x="266.5" y="1061.62" width="10.63" height="25.22" fill="#f3a4ac"/>
<rect x="276.83" y="1061.62" width="10.63" height="25.22" fill="#f29ba3"/>
<rect x="287.16" y="1061.62" width="10.63" height="25.22" fill="#fafdfe"/>
<rect x="297.49" y="1061.62" width="10.63" height="25.22" fill="#d3e9fb"/>
<rect x="307.82" y="1061.62" width="10.63" height="25.22" fill="#f1969e"/>
<rect x="318.14" y="1061.62" width="10.63" height="25.22" fill="#e2f1fc"/>
<rect x="328.47" y="1061.62" width="10.63" height="25.22" fill="#f1969e"/>
<rect x="80.6" y="1086.53" width="10.63" height="25.22" fill="#d6ebfc"/>
<rect x="90.93" y="1086.53" width="10.63" height="25.22" fill="#cce6fa"/>
<rect x="111.58" y="1086.53" width="10.63" height="25.22" fill="#f1f8fd"/>
<rect x="121.91" y="1086.53" width="10.63" height="25.22" fill="#f1f8fd"/>
<rect x="132.24" y="1086.53" width="10.63" height="25.22" fill="#f6fbfe"/>
<rect x="142.57" y="1086.53" width="10.63" height="25.22" fill="#fdf4f2"/>
<rect x="152.9" y="1086.53" width="10.63" height="25.22" fill="#edf6fd"/>
<rect x="163.22" y="1086.53" width="10.63" height="25.22" fill="#e2f1fc"/>
<rect x="173.55" y="1086.53" width="10.63" height="25.22" fill="#f5c0c4"/>
<rect x="194.21" y="1086.53" width="10.63" height="25.22" fill="#e2f1fc"/>
<rect x="204.54" y="1086.53" width="10.63" height="25.22" fill="#f6cacd"/>
<rect x="214.86" y="1086.53" width="10.63" height="25.22" fill="#d6ebfc"/>
<rect x="225.19" y="1086.53" width="10.63" height="25.22" fill="#fae8e8"/>
<rect x="235.52" y="1086.53" width="10.63" height="25.22" fill="#f5b6bc"/>
<rect x="245.85" y="1086.53" width="10.63" height="25.22" fill="#f5bbc0"/>
<rect x="256.18" y="1086.53" width="10.63" height="25.22" fill="#f1969e"/>
<rect x="266.5" y="1086.53" width="10.63" height="25.22" fill="#f1969e"/>
<rect x="276.83" y="1086.53" width="10.63" height="25.22" fill="#f5b6bc"/>
<rect x="287.16" y="1086.53" width="10.63" height="25.22" fill="#fafdfe"/>
<rect x="297.49" y="1086.53" width="10.63" height="25.22" fill="#e8f4fc"/>
<rect x="307.82" y="1086.53" width="10.63" height="25.22" fill="#f1969e"/>
<rect x="318.14" y="1086.53" width="10.63" height="25.22" fill="#e8f4fc"/>
<rect x="328.47" y="1086.53" width="10.63" height="25.22" fill="#f1969e"/>
<rect x="80.6" y="1111.45" width="10.63" height="25.22" fill="#f5c0c4"/>
<rect x="90.93" y="1111.45" width="10.63" height="25.22" fill="#edf6fd"/>
<rect x="111.58" y="1111.45" width="10.63" height="25.22" fill="#b5d9fa"/>
<rect x="121.91" y="1111.45" width="10.63" height="25.22" fill="#d3e9fb"/>
<rect x="132.24" y="1111.45" width="10.63" height="25.22" fill="#d3e9fb"/>
<rect x="142.57" y="1111.45" width="10.63" height="25.22" fill="#d6ebfc"/>
<rect x="152.9" y="1111.45" width="10.63" height="25.22" fill="#f1969e"/>
<rect x="163.22" y="1111.45" width="10.63" height="25.22" fill="#abd5f9"/>
<rect x="173.55" y="1111.45" width="10.63" height="25.22" fill="#bedefa"/>
<rect x="183.88" y="1111.45" width="10.63" height="25.22" fill="#e2f1fc"/>
<rect x="194.21" y="1111.45" width="10.63" height="25.22" fill="#f5b6bc"/>
<rect x="204.54" y="1111.45" width="10.63" height="25.22" fill="#f8d8da"/>
<rect x="214.86" y="1111.45" width="10.63" height="25.22" fill="#f8d8da"/>
<rect x="225.19" y="1111.45" width="10.63" height="25.22" fill="#f4b2b8"/>
<rect x="235.52" y="1111.45" width="10.63" height="25.22" fill="#f5bbc0"/>
<rect x="245.85" y="1111.45" width="10.63" height="25.22" fill="#cce6fa"/>
<rect x="256.18" y="1111.45" width="10.63" height="25.22" fill="#f1969e"/>
<rect x="266.5" y="1111.45" width="10.63" height="25.22" fill="#f5bbc0"/>
<rect x="276.83" y="1111.45" width="10.63" height="25.22" fill="#d6ebfc"/>
<rect x="287.16" y="1111.45" width="10.63" height="25.22" fill="#f29ba3"/>
<rect x="297.49" y="1111.45" width="10.63" height="25.22" fill="#ddeefc"/>
<rect x="307.82" y="1111.45" width="10.63" height="25.22" fill="#f1969e"/>
<rect x="318.14" y="1111.45" width="10.63" height="25.22" fill="#f8dbdd"/>
<rect x="80.6" y="1136.36" width="10.63" height="25.22" fill="#e8f4fc"/>
<rect x="111.58" y="1136.36" width="10.63" height="25.22" fill="#e0f0fc"/>
<rect x="121.91" y="1136.36" width="10.63" height="25.22" fill="#e0f0fc"/>
<rect x="142.57" y="1136.36" width="10.63" height="25.22" fill="#f6cacd"/>
<rect x="163.22" y="1136.36" width="10.63" height="25.22" fill="#e0f0fc"/>
<rect x="173.55" y="1136.36" width="10.63" height="25.22" fill="#e2f1fc"/>
<rect x="194.21" y="1136.36" width="10.63" height="25.22" fill="#edf6fd"/>
<rect x="204.54" y="1136.36" width="10.63" height="25.22" fill="#e0f0fc"/>
<rect x="214.86" y="1136.36" width="10.63" height="25.22" fill="#f1969e"/>
<rect x="225.19" y="1136.36" width="10.63" height="25.22" fill="#fae8e8"/>
<rect x="235.52" y="1136.36" width="10.63" height="25.22" fill="#e0f0fc"/>
<rect x="245.85" y="1136.36" width="10.63" height="25.22" fill="#e0f0fc"/>
<rect x="256.18" y="1136.36" width="10.63" height="25.22" fill="#f1969e"/>
<rect x="266.5" y="1136.36" width="10.63" height="25.22" fill="#f1969e"/>
<rect x="276.83" y="1136.36" width="10.63" height="25.22" fill="#f1969e"/>
<rect x="297.49" y="1136.36" width="10.63" height="25.22" fill="#edf6fd"/>
<rect x="307.82" y="1136.36" width="10.63" height="25.22" fill="#f5bbc0"/>
<rect x="318.14" y="1136.36" width="10.63" height="25.22" fill="#e0f0fc"/>
<rect x="328.47" y="1136.36" width="10.63" height="25.22" fill="#f5bbc0"/>
<rect x="80.6" y="1161.28" width="10.63" height="25.22" fill="#ddeefc"/>
<rect x="90.93" y="1161.28" width="10.63" height="25.22" fill="#e8f4fc"/>
<rect x="101.26" y="1161.28" width="10.63" height="25.22" fill="#c6e2fa"/>
<rect x="111.58" y="1161.28" width="10.63" height="25.22" fill="#fae8e8"/>
<rect x="121.91" y="1161.28" width="10.63" height="25.22" fill="#cce6fa"/>
<rect x="132.24" y="1161.28" width="10.63" height="25.22" fill="#fae8e8"/>
<rect x="142.57" y="1161.28" width="10.63" height="25.22" fill="#f5c0c4"/>
<rect x="152.9" y="1161.28" width="10.63" height="25.22" fill="#cce6fa"/>
<rect x="163.22" y="1161.28" width="10.63" height="25.22" fill="#c6e2fa"/>
<rect x="173.55" y="1161.28" width="10.63" height="25.22" fill="#edf6fd"/>
<rect x="183.88" y="1161.28" width="10.63" height="25.22" fill="#fdf4f2"/>
<rect x="194.21" y="1161.28" width="10.63" height="25.22" fill="#f7ced1"/>
<rect x="214.86" y="1161.28" width="10.63" height="25.22" fill="#ddeefc"/>
<rect x="225.19" y="1161.28" width="10.63" height="25.22" fill="#f1969e"/>
<rect x="235.52" y="1161.28" width="10.63" height="25.22" fill="#e8f4fc"/>
<rect x="245.85" y="1161.28" width="10.63" height="25.22" fill="#f4b2b8"/>
<rect x="256.18" y="1161.28" width="10.63" height="25.22" fill="#fdf4f2"/>
<rect x="266.5" y="1161.28" width="10.63" height="25.22" fill="#f1969e"/>
<rect x="287.16" y="1161.28" width="10.63" height="25.22" fill="#d3e9fb"/>
<rect x="307.82" y="1161.28" width="10.63" height="25.22" fill="#f1969e"/>
<rect x="318.14" y="1161.28" width="10.63" height="25.22" fill="#d6ebfc"/>
<rect x="328.47" y="1161.28" width="10.63" height="25.22" fill="#ddeefc"/>
</g>
<rect x="340.4" y="416.1" width="17.3" height="24.84" fill="#f07478"/>
<rect x="340.4" y="440.95" width="17.3" height="24.84" fill="#6d1b70"/>
<rect x="340.4" y="465.79" width="17.3" height="24.84" fill="#4a8bd4"/>
<rect x="340.4" y="490.63" width="17.3" height="24.84" fill="#7a5a1a"/>
<rect x="340.4" y="515.48" width="17.3" height="24.84" fill="#eee06a"/>
<rect x="340.4" y="540.33" width="17.3" height="24.84" fill="#e8b084"/>
<rect x="340.4" y="565.17" width="17.3" height="24.84" fill="#232f85"/>
<rect x="340.4" y="590.01" width="17.3" height="24.84" fill="#ebb5c3"/>
<rect x="340.4" y="614.86" width="17.3" height="24.84" fill="#b5bd35"/>
<rect x="340.4" y="639.71" width="17.3" height="24.84" fill="#b5bd35"/>
<rect x="340.4" y="664.55" width="17.3" height="24.84" fill="#7a5a1a"/>
<rect x="340.4" y="689.39" width="17.3" height="24.84" fill="#7a5a1a"/>
<rect x="340.4" y="714.24" width="17.3" height="24.84" fill="#232f85"/>
<rect x="340.4" y="739.09" width="17.3" height="24.84" fill="#eee06a"/>
<rect x="340.4" y="763.93" width="17.3" height="24.84" fill="#eee06a"/>
<rect x="340.4" y="788.77" width="17.3" height="24.84" fill="#245552"/>
<rect x="340.4" y="813.62" width="17.3" height="24.84" fill="#f07478"/>
<rect x="340.4" y="838.47" width="17.3" height="24.84" fill="#f07478"/>
<rect x="340.4" y="863.31" width="17.3" height="24.84" fill="#4a8bd4"/>
<rect x="340.4" y="888.15" width="17.3" height="24.84" fill="#f07478"/>
<rect x="340.4" y="913" width="17.3" height="24.84" fill="#f07478"/>
<rect x="340.4" y="937.85" width="17.3" height="24.84" fill="#b5bd35"/>
<rect x="340.4" y="962.69" width="17.3" height="24.84" fill="#50adb0"/>
<rect x="340.4" y="987.53" width="17.3" height="24.84" fill="#4a8bd4"/>
<rect x="340.4" y="1012.38" width="17.3" height="24.84" fill="#4a8bd4"/>
<rect x="340.4" y="1037.22" width="17.3" height="24.84" fill="#f07478"/>
<rect x="340.4" y="1062.07" width="17.3" height="24.84" fill="#fa9afa"/>
<rect x="340.4" y="1086.91" width="17.3" height="24.84" fill="#3fa556"/>
<rect x="340.4" y="1111.76" width="17.3" height="24.84" fill="#e8b084"/>
<rect x="340.4" y="1136.61" width="17.3" height="24.84" fill="#f07478"/>
<rect x="340.4" y="1161.45" width="17.3" height="24.84" fill="#ebb5c3"/>
<line x1="340.4" y1="416.1" x2="357.9" y2="416.1" stroke="#161616" stroke-width="1.3" />
<line x1="340.4" y1="440.95" x2="357.9" y2="440.95" stroke="#161616" stroke-width="1.3" />
<line x1="340.4" y1="465.79" x2="357.9" y2="465.79" stroke="#161616" stroke-width="1.3" />
<line x1="340.4" y1="490.63" x2="357.9" y2="490.63" stroke="#161616" stroke-width="1.3" />
<line x1="340.4" y1="515.48" x2="357.9" y2="515.48" stroke="#161616" stroke-width="1.3" />
<line x1="340.4" y1="540.33" x2="357.9" y2="540.33" stroke="#161616" stroke-width="1.3" />
<line x1="340.4" y1="565.17" x2="357.9" y2="565.17" stroke="#161616" stroke-width="1.3" />
<line x1="340.4" y1="590.01" x2="357.9" y2="590.01" stroke="#161616" stroke-width="1.3" />
<line x1="340.4" y1="614.86" x2="357.9" y2="614.86" stroke="#161616" stroke-width="1.3" />
<line x1="340.4" y1="639.71" x2="357.9" y2="639.71" stroke="#161616" stroke-width="1.3" />
<line x1="340.4" y1="664.55" x2="357.9" y2="664.55" stroke="#161616" stroke-width="1.3" />
<line x1="340.4" y1="689.39" x2="357.9" y2="689.39" stroke="#161616" stroke-width="1.3" />
<line x1="340.4" y1="714.24" x2="357.9" y2="714.24" stroke="#161616" stroke-width="1.3" />
<line x1="340.4" y1="739.09" x2="357.9" y2="739.09" stroke="#161616" stroke-width="1.3" />
<line x1="340.4" y1="763.93" x2="357.9" y2="763.93" stroke="#161616" stroke-width="1.3" />
<line x1="340.4" y1="788.77" x2="357.9" y2="788.77" stroke="#161616" stroke-width="1.3" />
<line x1="340.4" y1="813.62" x2="357.9" y2="813.62" stroke="#161616" stroke-width="1.3" />
<line x1="340.4" y1="838.47" x2="357.9" y2="838.47" stroke="#161616" stroke-width="1.3" />
<line x1="340.4" y1="863.31" x2="357.9" y2="863.31" stroke="#161616" stroke-width="1.3" />
<line x1="340.4" y1="888.15" x2="357.9" y2="888.15" stroke="#161616" stroke-width="1.3" />
<line x1="340.4" y1="913" x2="357.9" y2="913" stroke="#161616" stroke-width="1.3" />
<line x1="340.4" y1="937.85" x2="357.9" y2="937.85" stroke="#161616" stroke-width="1.3" />
<line x1="340.4" y1="962.69" x2="357.9" y2="962.69" stroke="#161616" stroke-width="1.3" />
<line x1="340.4" y1="987.53" x2="357.9" y2="987.53" stroke="#161616" stroke-width="1.3" />
<line x1="340.4" y1="1012.38" x2="357.9" y2="1012.38" stroke="#161616" stroke-width="1.3" />
<line x1="340.4" y1="1037.22" x2="357.9" y2="1037.22" stroke="#161616" stroke-width="1.3" />
<line x1="340.4" y1="1062.07" x2="357.9" y2="1062.07" stroke="#161616" stroke-width="1.3" />
<line x1="340.4" y1="1086.91" x2="357.9" y2="1086.91" stroke="#161616" stroke-width="1.3" />
<line x1="340.4" y1="1111.76" x2="357.9" y2="1111.76" stroke="#161616" stroke-width="1.3" />
<line x1="340.4" y1="1136.61" x2="357.9" y2="1136.61" stroke="#161616" stroke-width="1.3" />
<line x1="340.4" y1="1161.45" x2="357.9" y2="1161.45" stroke="#161616" stroke-width="1.3" />
<line x1="340.4" y1="1186.3" x2="357.9" y2="1186.3" stroke="#161616" stroke-width="0.9" />
<line x1="357.6" y1="416.1" x2="357.6" y2="1186.3" stroke="#333" stroke-width="0.7" />
<text x="361.3" y="434.5" font-size="19.35" >Indoleacetaldehyde</text>
<text x="361.3" y="459.54" font-size="19.35" >Pyroglutamic acid</text>
<text x="361.3" y="484.57" font-size="19.35" >Pyruvic acid</text>
<text x="361.3" y="509.61" font-size="19.35" >Epinephrine</text>
<text x="361.3" y="534.65" font-size="19.35" >L-Carnitine</text>
<text x="361.3" y="559.68" font-size="19.35" >Proline</text>
<text x="361.3" y="584.72" font-size="19.35" >Sarcosine</text>
<text x="361.3" y="609.76" font-size="19.35" >Lithocholic acid glycine conjugate</text>
<text x="361.3" y="634.8" font-size="19.35" >Phosphorylcholine</text>
<text x="361.3" y="659.83" font-size="19.35" >LECITHIN</text>
<text x="361.3" y="684.87" font-size="19.35" >L-Dopa</text>
<text x="361.3" y="709.91" font-size="19.35" >L-Tyrosine</text>
<text x="361.3" y="734.94" font-size="19.35" >DL-Methionine sulfoxide</text>
<text x="361.3" y="759.98" font-size="19.35" >Palmitic acid</text>
<text x="361.3" y="785.02" font-size="19.35" >L-Palmitoylcarnitine</text>
<text x="361.3" y="810.06" font-size="19.35" >Hydroxypropionic acid</text>
<text x="361.3" y="835.09" font-size="19.35" >5-Hydroxy-L-tryptophan</text>
<text x="361.3" y="860.13" font-size="19.35" >L-Tryptophan</text>
<text x="361.3" y="885.17" font-size="19.35" >Uric acid</text>
<text x="361.3" y="910.2" font-size="19.35" >L-Kynurenine</text>
<text x="361.3" y="935.24" font-size="19.35" >5-Hydroxyindoleacetate</text>
<text x="361.3" y="960.28" font-size="19.35" >Choline</text>
<text x="361.3" y="985.31" font-size="19.35" >L-Phenylalanine</text>
<text x="361.3" y="1010.35" font-size="19.35" >Xanthine</text>
<text x="361.3" y="1035.39" font-size="19.35" >Indole-3-carboxaldehyde</text>
<text x="361.3" y="1060.42" font-size="19.35" >5-Hydroxy-DL-tryptophan</text>
<text x="361.3" y="1085.46" font-size="19.35" >Trehalose</text>
<text x="361.3" y="1110.5" font-size="19.35" >Sucrose</text>
<text x="361.3" y="1135.54" font-size="19.35" >1-Pyrroline-4-hydroxy-2-carboxylate</text>
<text x="361.3" y="1160.57" font-size="19.35" >5-Hydroxykynurenamine</text>
<text x="361.3" y="1185.61" font-size="19.35" >Glycocholic acid</text>
<path d="M80.5 426.3H25.1M80.5 451.32H25.1M80.5 501.36H65.1M80.5 526.38H65.1M80.5 551.4H56.4M80.5 576.42H56.4M80.5 626.46H57.4M80.5 651.48H57.4M80.5 701.52H76.7M80.5 726.54H76.7M80.5 676.5H70.2M77.2 714.03H70.2M57.9 638.97H51.6M70.7 695.26H51.6M80.5 601.44H47.6M52.1 667.12H47.6M56.9 563.91H46.3M48.1 634.28H46.3M65.6 513.87H40.6M46.8 599.09H40.6M80.5 751.56H60.8M80.5 776.58H60.8M61.3 764.07H49.1M80.5 801.6H49.1M80.5 826.62H79.3M80.5 851.64H79.3M79.8 839.13H55.8M80.5 876.66H55.8M80.5 901.68H78.7M80.5 926.7H78.7M56.3 857.89H52.7M79.2 914.19H52.7M80.5 976.74H65.5M80.5 1001.76H65.5M80.5 951.72H60.4M66 989.25H60.4M60.9 970.49H54.5M80.5 1026.78H54.5M53.2 886.04H47.3M55 998.63H47.3M49.6 782.84H39.7M47.8 942.34H39.7M80.5 1076.82H69.6M80.5 1101.84H69.6M80.5 1051.8H59.9M70.1 1089.33H59.9M80.5 1126.86H52M80.5 1151.88H52M60.4 1070.57H50.3M52.5 1139.37H50.3M50.8 1104.97H44.6M80.5 1176.9H44.6M40.2 862.59H38.7M45.1 1140.93H38.7M41.1 556.48H35.6M39.2 1001.76H35.6M80.5 476.34H31.8M36.1 779.12H31.8M25.6 438.81H8.9M32.3 627.73H8.9" fill="none" stroke="#3c3c3c" stroke-width="1.5"/>
<path d="M25.6 425.55V452.07M65.6 500.61V527.13M56.9 550.65V577.17M57.9 625.71V652.23M77.2 700.77V727.29M70.7 675.75V714.78M52.1 638.22V696.01M48.1 600.69V667.87M46.8 563.16V635.03M41.1 513.12V599.84M61.3 750.81V777.33M49.6 763.32V802.35M79.8 825.87V852.39M56.3 838.38V877.41M79.2 900.93V927.45M53.2 857.14V914.94M66 975.99V1002.51M60.9 950.97V990M55 969.74V1027.53M47.8 885.29V999.38M40.2 782.09V943.09M70.1 1076.07V1102.59M60.4 1051.05V1090.08M52.5 1126.11V1152.63M50.8 1069.82V1140.12M45.1 1104.22V1177.65M39.2 861.84V1141.68M36.1 555.73V1002.51M32.3 475.59V779.87M9.4 438.06V628.48" fill="none" stroke="#3c3c3c" stroke-width="1"/>
<text x="668" y="445" font-size="22.2" font-weight="bold">Pathway</text>
<rect x="666" y="467" width="26.8" height="29.16" fill="#f07478"/>
<text x="696.8" y="488.3" font-size="18.87" >Tryptophan Metabolism</text>
<rect x="666" y="496.16" width="26.8" height="29.16" fill="#eee06a"/>
<text x="696.8" y="516.9" font-size="18.87" >Fatty acid Metabolism</text>
<rect x="666" y="525.32" width="26.8" height="29.16" fill="#b5bd35"/>
<text x="696.8" y="546.7" font-size="18.87" >Phospholipid Biosynthesis</text>
<rect x="666" y="554.48" width="26.8" height="29.16" fill="#4a8bd4"/>
<text x="696.8" y="575.9" font-size="18.87" >Purine Metabolism</text>
<rect x="666" y="583.64" width="26.8" height="29.16" fill="#7a5a1a"/>
<text x="696.8" y="604.8" font-size="18.87" >Tyrosine Metabolism</text>
<rect x="666" y="612.8" width="26.8" height="29.16" fill="#ebb5c3"/>
<text x="696.8" y="634.9" font-size="18.87" >Bile Acid Biosynthesis</text>
<rect x="666" y="641.96" width="26.8" height="29.16" fill="#232f85"/>
<text x="696.8" y="661.3" font-size="18.87" >Methionine Metabolism</text>
<rect x="666" y="671.12" width="26.8" height="29.16" fill="#e8b084"/>
<text x="696.8" y="690.8" font-size="18.87" >Arginine and Proline Metabolism</text>
<rect x="666" y="700.28" width="26.8" height="29.16" fill="#6d1b70"/>
<text x="696.8" y="722.5" font-size="18.87" >Glutathione Metabolism</text>
<rect x="666" y="729.44" width="26.8" height="29.16" fill="#50adb0"/>
<text x="696.8" y="750.1" font-size="18.87" >Phenylalanine and Tyrosine Metabolism</text>
<rect x="666" y="758.6" width="26.8" height="29.16" fill="#245552"/>
<text x="696.8" y="779.9" font-size="18.87" >Propanoate Metabolism</text>
<rect x="666" y="787.76" width="26.8" height="29.16" fill="#4a8bd4"/>
<text x="696.8" y="808.5" font-size="18.87" >Glycolysis</text>
<rect x="666" y="816.92" width="26.8" height="29.16" fill="#3fa556"/>
<text x="696.8" y="836.7" font-size="18.87" >Starch and Sucrose Metabolism</text>
<rect x="666" y="846.08" width="26.8" height="29.16" fill="#fa9afa"/>
<text x="696.8" y="865.9" font-size="18.87" >Trehalose Degradation</text>
<line x1="665.8" y1="467" x2="692.9" y2="467" stroke="#141414" stroke-width="1.5" />
<line x1="665.8" y1="496.16" x2="692.9" y2="496.16" stroke="#141414" stroke-width="1.5" />
<line x1="665.8" y1="525.32" x2="692.9" y2="525.32" stroke="#141414" stroke-width="1.5" />
<line x1="665.8" y1="554.48" x2="692.9" y2="554.48" stroke="#141414" stroke-width="1.5" />
<line x1="665.8" y1="583.64" x2="692.9" y2="583.64" stroke="#141414" stroke-width="1.5" />
<line x1="665.8" y1="612.8" x2="692.9" y2="612.8" stroke="#141414" stroke-width="1.5" />
<line x1="665.8" y1="641.96" x2="692.9" y2="641.96" stroke="#141414" stroke-width="1.5" />
<line x1="665.8" y1="671.12" x2="692.9" y2="671.12" stroke="#141414" stroke-width="1.5" />
<line x1="665.8" y1="700.28" x2="692.9" y2="700.28" stroke="#141414" stroke-width="1.5" />
<line x1="665.8" y1="729.44" x2="692.9" y2="729.44" stroke="#141414" stroke-width="1.5" />
<line x1="665.8" y1="758.6" x2="692.9" y2="758.6" stroke="#141414" stroke-width="1.5" />
<line x1="665.8" y1="787.76" x2="692.9" y2="787.76" stroke="#141414" stroke-width="1.5" />
<line x1="665.8" y1="816.92" x2="692.9" y2="816.92" stroke="#141414" stroke-width="1.5" />
<line x1="665.8" y1="846.08" x2="692.9" y2="846.08" stroke="#141414" stroke-width="1.5" />
<line x1="665.8" y1="875.24" x2="692.9" y2="875.24" stroke="#141414" stroke-width="1.5" />
<line x1="692.6" y1="467" x2="692.6" y2="875.24" stroke="#333" stroke-width="0.6" />
<text x="1052" y="452" font-size="22.2" font-weight="bold">Group</text>
<rect x="1053" y="474.5" width="28.3" height="17.5" fill="#44ff11"/>
<rect x="1053" y="505" width="28.3" height="18" fill="#ff2211"/>
<text x="1099" y="488.9" font-size="19.6" >HC</text>
<text x="1099" y="522.1" font-size="19.6" >NAFLD</text>
<text x="1054" y="570.2" font-size="22.2" font-weight="bold">ColorBar</text>
<rect x="1061.4" y="585" width="73" height="135" fill="#efefef"/>
<rect x="1061.4" y="585" width="18.6" height="18.8" fill="#a0d0f9"/>
<rect x="1061.4" y="603.6" width="18.6" height="18.8" fill="#bcdcfa"/>
<rect x="1061.4" y="622.2" width="18.6" height="18.8" fill="#daedfc"/>
<rect x="1061.4" y="640.8" width="18.6" height="18.8" fill="#ffffff"/>
<rect x="1061.4" y="659.4" width="18.6" height="18.8" fill="#f8dbdd"/>
<rect x="1061.4" y="678" width="18.6" height="18.8" fill="#f5bbc0"/>
<rect x="1061.4" y="696.6" width="18.6" height="18.8" fill="#f29ba3"/>
<text x="1080" y="608.7" font-size="19" fill="#333">-0.24</text>
<text x="1080" y="627.3" font-size="19" fill="#333">-0.16</text>
<text x="1080" y="645.8" font-size="19" fill="#333">-0.08</text>
<text x="1082" y="664.3" font-size="19" fill="#333">0.00</text>
<text x="1082" y="682.8" font-size="19" fill="#333">0.08</text>
<text x="1082" y="701.2" font-size="19" fill="#333">0.16</text>
<text x="1082" y="719.8" font-size="19" fill="#333">0.24</text>
</g>
<g id="panel-d">
<text x="1027.5" y="830" font-size="37.5" font-weight="bold">d</text>
<g transform="translate(990.3 0) scale(1.21 1)">
<line x1="35.83" y1="1115.9" x2="155.39" y2="1061.2" stroke="#d4d4d4" stroke-width="0.9" />
<line x1="71.65" y1="1115.9" x2="191.28" y2="1061.2" stroke="#d4d4d4" stroke-width="0.9" />
<line x1="107.48" y1="1115.9" x2="227.17" y2="1061.2" stroke="#d4d4d4" stroke-width="0.9" />
<line x1="23.9" y1="1104.96" x2="167.26" y2="1104.96" stroke="#d4d4d4" stroke-width="0.9" />
<line x1="47.8" y1="1094.02" x2="191.21" y2="1094.02" stroke="#d4d4d4" stroke-width="0.9" />
<line x1="71.7" y1="1083.08" x2="215.16" y2="1083.08" stroke="#d4d4d4" stroke-width="0.9" />
<line x1="95.6" y1="1072.14" x2="239.11" y2="1072.14" stroke="#d4d4d4" stroke-width="0.9" />
<path d="M119.5 1061.2 L263.06 1061.2 L263.06 864.9 L119.5 864.9 Z" fill="none" stroke="#4a4a4a" stroke-width="0.9"/>
<path d="M0 1115.9 L143.31 1115.9 L143.31 919.4 L0 919.4 Z" fill="none" stroke="#4a4a4a" stroke-width="0.9"/>
<line x1="0" y1="1115.9" x2="119.5" y2="1061.2" stroke="#4a4a4a" stroke-width="0.9" />
<line x1="143.31" y1="1115.9" x2="263.06" y2="1061.2" stroke="#4a4a4a" stroke-width="0.9" />
<line x1="0" y1="919.4" x2="119.5" y2="864.9" stroke="#4a4a4a" stroke-width="0.9" />
<line x1="143.31" y1="919.4" x2="263.06" y2="864.9" stroke="#4a4a4a" stroke-width="0.9" />
<line x1="0" y1="1115.9" x2="0" y2="1118.1" stroke="#4a4a4a" stroke-width="0.8" />
<text x="0" y="1128.2" font-size="9.3" text-anchor="middle">-10</text>
<line x1="35.83" y1="1115.9" x2="35.83" y2="1118.1" stroke="#4a4a4a" stroke-width="0.8" />
<text x="35.83" y="1128.2" font-size="9.3" text-anchor="middle">-5</text>
<line x1="71.65" y1="1115.9" x2="71.65" y2="1118.1" stroke="#4a4a4a" stroke-width="0.8" />
<text x="71.65" y="1128.2" font-size="9.3" text-anchor="middle">0</text>
<line x1="107.48" y1="1115.9" x2="107.48" y2="1118.1" stroke="#4a4a4a" stroke-width="0.8" />
<text x="107.48" y="1128.2" font-size="9.3" text-anchor="middle">5</text>
<line x1="143.31" y1="1115.9" x2="143.31" y2="1118.1" stroke="#4a4a4a" stroke-width="0.8" />
<text x="143.31" y="1128.2" font-size="9.3" text-anchor="middle">10</text>
<text x="71.9" y="1143.4" font-size="9.3" text-anchor="middle">PC1(36.7%)</text>
<line x1="-2.2" y1="1115.9" x2="0" y2="1115.9" stroke="#4a4a4a" stroke-width="0.8" />
<text x="-8.26" y="1115.9" font-size="9.3" text-anchor="middle" transform="rotate(-90 -8.26 1115.9)">-6</text>
<line x1="-2.2" y1="1083.15" x2="0" y2="1083.15" stroke="#4a4a4a" stroke-width="0.8" />
<text x="-8.26" y="1083.15" font-size="9.3" text-anchor="middle" transform="rotate(-90 -8.26 1083.15)">-4</text>
<line x1="-2.2" y1="1050.4" x2="0" y2="1050.4" stroke="#4a4a4a" stroke-width="0.8" />
<text x="-8.26" y="1050.4" font-size="9.3" text-anchor="middle" transform="rotate(-90 -8.26 1050.4)">-2</text>
<line x1="-2.2" y1="1017.65" x2="0" y2="1017.65" stroke="#4a4a4a" stroke-width="0.8" />
<text x="-8.26" y="1017.65" font-size="9.3" text-anchor="middle" transform="rotate(-90 -8.26 1017.65)">0</text>
<line x1="-2.2" y1="984.9" x2="0" y2="984.9" stroke="#4a4a4a" stroke-width="0.8" />
<text x="-8.26" y="984.9" font-size="9.3" text-anchor="middle" transform="rotate(-90 -8.26 984.9)">2</text>
<line x1="-2.2" y1="952.15" x2="0" y2="952.15" stroke="#4a4a4a" stroke-width="0.8" />
<text x="-8.26" y="952.15" font-size="9.3" text-anchor="middle" transform="rotate(-90 -8.26 952.15)">4</text>
<line x1="-2.2" y1="919.4" x2="0" y2="919.4" stroke="#4a4a4a" stroke-width="0.8" />
<text x="-8.26" y="919.4" font-size="9.3" text-anchor="middle" transform="rotate(-90 -8.26 919.4)">6</text>
<text x="-23.8" y="1017.65" font-size="9.3" text-anchor="middle" transform="rotate(-90 -23.8 1017.65)">PC3(10.5%)</text>
<line x1="143.31" y1="1115.9" x2="145.81" y2="1116.9" stroke="#4a4a4a" stroke-width="0.8" />
<text x="158.68" y="1118.5" font-size="9.3" text-anchor="middle">-15</text>
<line x1="167.26" y1="1104.96" x2="169.76" y2="1105.96" stroke="#4a4a4a" stroke-width="0.8" />
<text x="182.63" y="1107.56" font-size="9.3" text-anchor="middle">-10</text>
<line x1="191.21" y1="1094.02" x2="193.71" y2="1095.02" stroke="#4a4a4a" stroke-width="0.8" />
<text x="206.58" y="1096.62" font-size="9.3" text-anchor="middle">-5</text>
<line x1="215.16" y1="1083.08" x2="217.66" y2="1084.08" stroke="#4a4a4a" stroke-width="0.8" />
<text x="230.53" y="1085.68" font-size="9.3" text-anchor="middle">0</text>
<line x1="239.11" y1="1072.14" x2="241.61" y2="1073.14" stroke="#4a4a4a" stroke-width="0.8" />
<text x="254.48" y="1074.74" font-size="9.3" text-anchor="middle">5</text>
<line x1="263.06" y1="1061.2" x2="265.56" y2="1062.2" stroke="#4a4a4a" stroke-width="0.8" />
<text x="278.43" y="1063.8" font-size="9.3" text-anchor="middle">10</text>
<text x="297.27" y="1061.1" font-size="9.3" text-anchor="middle" transform="rotate(-90 297.27 1061.1)">PC2(22.8%)</text>
<rect x="103.4" y="895.65" width="8.9" height="8.9" fill="#efb0ba"/>
<rect x="86.29" y="954.95" width="8.9" height="8.9" fill="#efb0ba"/>
<rect x="98.36" y="1024.25" width="8.9" height="8.9" fill="#efb0ba"/>
<rect x="86.79" y="1056.05" width="8.9" height="8.9" fill="#efb0ba"/>
<circle cx="210.41" cy="929.7" r="4.45" fill="#82b1d2"/>
<circle cx="179.92" cy="954.9" r="4.45" fill="#82b1d2"/>
<circle cx="146.69" cy="1001.3" r="4.45" fill="#82b1d2"/>
<circle cx="214.38" cy="1042.4" r="4.45" fill="#82b1d2"/>
</g>
<circle cx="1365.1" cy="898.4" r="5.1" fill="#82b1d2"/>
<rect x="1360.1" y="911.9" width="10" height="10" fill="#efb0ba"/>
<text x="1380.2" y="903" font-size="12.8" font-weight="bold">WT-NCD</text>
<text x="1380.2" y="921.5" font-size="12.8" font-weight="bold">WT-HFD</text>
<rect x="1520.9" y="846.8" width="349.4" height="247.9" fill="none" stroke="#333" stroke-width="1"/>
<line x1="1695.4" y1="846.8" x2="1695.4" y2="1094.7" stroke="#333" stroke-width="1" />
<line x1="1520.9" y1="970.9" x2="1870.3" y2="970.9" stroke="#333" stroke-width="1" />
<ellipse cx="1695.4" cy="970.9" rx="159.4" ry="113.6" fill="none" stroke="#222" stroke-width="1"/>
<line x1="1518.4" y1="899.34" x2="1520.9" y2="899.34" stroke="#333" stroke-width="0.9" />
<text x="1516.9" y="902.84" font-size="9.8" text-anchor="end" fill="#222">40</text>
<line x1="1518.4" y1="970.9" x2="1520.9" y2="970.9" stroke="#333" stroke-width="0.9" />
<text x="1516.9" y="974.4" font-size="9.8" text-anchor="end" fill="#222">0</text>
<line x1="1518.4" y1="1042.46" x2="1520.9" y2="1042.46" stroke="#333" stroke-width="0.9" />
<text x="1516.9" y="1045.96" font-size="9.8" text-anchor="end" fill="#222">-40</text>
<line x1="1592.7" y1="1094.7" x2="1592.7" y2="1097.2" stroke="#333" stroke-width="0.9" />
<text x="1592.7" y="1106.3" font-size="9.8" text-anchor="middle" fill="#222">-50</text>
<line x1="1695.4" y1="1094.7" x2="1695.4" y2="1097.2" stroke="#333" stroke-width="0.9" />
<text x="1695.4" y="1106.3" font-size="9.8" text-anchor="middle" fill="#222">0</text>
<line x1="1798.1" y1="1094.7" x2="1798.1" y2="1097.2" stroke="#333" stroke-width="0.9" />
<text x="1798.1" y="1106.3" font-size="9.8" text-anchor="middle" fill="#222">50</text>
<text x="1695.4" y="1125.3" font-size="20" text-anchor="middle">t[1]P[27.6%]</text>
<text x="1498.2" y="970.9" font-size="20" text-anchor="middle" transform="rotate(-90 1498.2 970.9)">t[1]O[19.3%]</text>
<circle cx="1651.7" cy="928.2" r="5" fill="#82b1d2"/>
<circle cx="1649.5" cy="951.6" r="5" fill="#82b1d2"/>
<circle cx="1654.5" cy="958.9" r="5" fill="#82b1d2"/>
<circle cx="1651.7" cy="1043" r="5" fill="#82b1d2"/>
<rect x="1733.7" y="960.4" width="9.8" height="9.8" fill="#efb0ba"/>
<rect x="1732.6" y="964.6" width="9.8" height="9.8" fill="#efb0ba"/>
<rect x="1734.6" y="964.6" width="9.8" height="9.8" fill="#efb0ba"/>
<rect x="1731" y="973.6" width="9.8" height="9.8" fill="#efb0ba"/>
<rect x="1731.8" y="968.8" width="9.8" height="9.8" fill="#efb0ba"/>
<circle cx="1900.7" cy="964.2" r="5.1" fill="#82b1d2"/>
<rect x="1895.7" y="977.4" width="10" height="10" fill="#efb0ba"/>
<text x="1916.1" y="968.8" font-size="12.8" font-weight="bold">WT-NCD</text>
<text x="1916.1" y="987" font-size="12.8" font-weight="bold">WT-HFD</text>
</g>
<g id="panel-e">
<text x="29" y="1220" font-size="37.5" font-weight="bold">e</text>
<rect x="338.3" y="1219.9" width="289.9" height="749.6" fill="none" stroke="#333" stroke-width="1.3"/>
<line x1="333.3" y1="1222.7" x2="338.3" y2="1222.7" stroke="#333" stroke-width="1.3" />
<line x1="333.3" y1="1252.53" x2="338.3" y2="1252.53" stroke="#333" stroke-width="1.3" />
<line x1="333.3" y1="1282.36" x2="338.3" y2="1282.36" stroke="#333" stroke-width="1.3" />
<line x1="333.3" y1="1312.19" x2="338.3" y2="1312.19" stroke="#333" stroke-width="1.3" />
<line x1="333.3" y1="1342.02" x2="338.3" y2="1342.02" stroke="#333" stroke-width="1.3" />
<line x1="333.3" y1="1371.85" x2="338.3" y2="1371.85" stroke="#333" stroke-width="1.3" />
<line x1="333.3" y1="1401.68" x2="338.3" y2="1401.68" stroke="#333" stroke-width="1.3" />
<line x1="333.3" y1="1431.51" x2="338.3" y2="1431.51" stroke="#333" stroke-width="1.3" />
<line x1="333.3" y1="1461.34" x2="338.3" y2="1461.34" stroke="#333" stroke-width="1.3" />
<line x1="333.3" y1="1491.17" x2="338.3" y2="1491.17" stroke="#333" stroke-width="1.3" />
<line x1="333.3" y1="1521" x2="338.3" y2="1521" stroke="#333" stroke-width="1.3" />
<line x1="333.3" y1="1550.83" x2="338.3" y2="1550.83" stroke="#333" stroke-width="1.3" />
<line x1="333.3" y1="1580.66" x2="338.3" y2="1580.66" stroke="#333" stroke-width="1.3" />
<line x1="333.3" y1="1610.49" x2="338.3" y2="1610.49" stroke="#333" stroke-width="1.3" />
<line x1="333.3" y1="1640.32" x2="338.3" y2="1640.32" stroke="#333" stroke-width="1.3" />
<line x1="333.3" y1="1670.15" x2="338.3" y2="1670.15" stroke="#333" stroke-width="1.3" />
<line x1="333.3" y1="1699.98" x2="338.3" y2="1699.98" stroke="#333" stroke-width="1.3" />
<line x1="333.3" y1="1729.81" x2="338.3" y2="1729.81" stroke="#333" stroke-width="1.3" />
<line x1="333.3" y1="1759.64" x2="338.3" y2="1759.64" stroke="#333" stroke-width="1.3" />
<line x1="333.3" y1="1789.47" x2="338.3" y2="1789.47" stroke="#333" stroke-width="1.3" />
<line x1="333.3" y1="1819.3" x2="338.3" y2="1819.3" stroke="#333" stroke-width="1.3" />
<line x1="333.3" y1="1849.13" x2="338.3" y2="1849.13" stroke="#333" stroke-width="1.3" />
<line x1="333.3" y1="1878.96" x2="338.3" y2="1878.96" stroke="#333" stroke-width="1.3" />
<line x1="333.3" y1="1908.79" x2="338.3" y2="1908.79" stroke="#333" stroke-width="1.3" />
<line x1="333.3" y1="1938.62" x2="338.3" y2="1938.62" stroke="#333" stroke-width="1.3" />
<line x1="333.3" y1="1968.45" x2="338.3" y2="1968.45" stroke="#333" stroke-width="1.3" />
<text x="321.8" y="1243.9" font-size="15.4" text-anchor="end" font-weight="bold" fill="#656565">Methylhistidine Metabolism</text>
<text x="321.8" y="1273.4" font-size="15.4" text-anchor="end" font-weight="bold" fill="#656565">Vitamin K Metabolism</text>
<text x="321.8" y="1302.9" font-size="15.4" text-anchor="end" font-weight="bold" fill="#656565">Beta-Alanine Metabolism</text>
<text x="321.8" y="1332.8" font-size="15.4" text-anchor="end" font-weight="bold" fill="#656565">Thiamine Metabolism</text>
<text x="321.8" y="1362.7" font-size="15.4" text-anchor="end" font-weight="bold" fill="#656565">Spermidine and Spermine Biosynthesis</text>
<text x="321.8" y="1392.2" font-size="15.4" text-anchor="end" font-weight="bold" fill="#656565">Glycerol Phosphate Shuttle</text>
<text x="321.8" y="1422.1" font-size="15.4" text-anchor="end" font-weight="bold" fill="#656565">Retinol Metabolism</text>
<text x="321.8" y="1452" font-size="15.4" text-anchor="end" font-weight="bold" fill="#656565">Arginine and Proline Metabolism</text>
<text x="321.8" y="1481.5" font-size="15.4" text-anchor="end" font-weight="bold" fill="#656565">Urea Cycle</text>
<text x="321.8" y="1509.8" font-size="15.55" text-anchor="end" font-weight="bold" fill="#be140b">Tryptophan Metabolism</text>
<text x="321.8" y="1542.1" font-size="15.4" text-anchor="end" font-weight="bold" fill="#656565">Androgen and Estrogen Metabolism</text>
<text x="321.8" y="1572" font-size="15.4" text-anchor="end" font-weight="bold" fill="#656565">Nicotinate and Nicotinamide Metabolism</text>
<text x="321.8" y="1601.1" font-size="15.4" text-anchor="end" font-weight="bold" fill="#656565">Glycine and Serine Metabolism</text>
<text x="321.8" y="1631.5" font-size="15.4" text-anchor="end" font-weight="bold" fill="#656565">Valine, Leucine and Isoleucine Degradation</text>
<text x="321.8" y="1661.4" font-size="15.4" text-anchor="end" font-weight="bold" fill="#656565">Pantothenate and CoA Biosynthesis</text>
<text x="321.8" y="1690.9" font-size="15.4" text-anchor="end" font-weight="bold" fill="#656565">Glutathione Metabolism</text>
<text x="321.8" y="1720.8" font-size="15.4" text-anchor="end" font-weight="bold" fill="#656565">Steroidogenesis</text>
<text x="321.8" y="1750.3" font-size="15.4" text-anchor="end" font-weight="bold" fill="#656565">Histidine Metabolism</text>
<text x="321.8" y="1780.2" font-size="15.4" text-anchor="end" font-weight="bold" fill="#656565">Sulfate/Sulfite Metabolism</text>
<text x="321.8" y="1810.1" font-size="15.4" text-anchor="end" font-weight="bold" fill="#656565">Tyrosine Metabolism</text>
<text x="321.8" y="1839.6" font-size="15.4" text-anchor="end" font-weight="bold" fill="#656565">Plasmalogen Synthesis</text>
<text x="321.8" y="1869.1" font-size="15.4" text-anchor="end" font-weight="bold" fill="#656565">Pyrimidine Metabolism</text>
<text x="321.8" y="1900.2" font-size="15.4" text-anchor="end" font-weight="bold" fill="#656565">Arachidonic Acid Metabolism</text>
<text x="321.8" y="1930.1" font-size="15.4" text-anchor="end" font-weight="bold" fill="#656565">Fatty Acid Biosynthesis</text>
<text x="321.8" y="1959.6" font-size="15.4" text-anchor="end" font-weight="bold" fill="#656565">Bile Acid Biosynthesis</text>
<circle cx="578.7" cy="1237.2" r="1.55" fill="#a3a355"/>
<circle cx="475.6" cy="1267.5" r="6.9" fill="#dcc7b4" stroke="#bb9a7c" stroke-width="1.2"/>
<circle cx="452" cy="1296.6" r="10.8" fill="#efb8bb" stroke="#d87c7e" stroke-width="1.2"/>
<circle cx="445.3" cy="1326.5" r="1.55" fill="#6ccb58"/>
<circle cx="445.7" cy="1356.8" r="6.9" fill="#d2caa4" stroke="#aca274" stroke-width="1.2"/>
<circle cx="425.6" cy="1385.9" r="1.55" fill="#6cc070"/>
<circle cx="416.2" cy="1416.2" r="8.9" fill="#d2cca4" stroke="#aca26c" stroke-width="1.2"/>
<circle cx="411.1" cy="1446.5" r="10.8" fill="#dacaac" stroke="#ba9b6c" stroke-width="1.2"/>
<circle cx="405.2" cy="1475.6" r="6.9" fill="#ace29c" stroke="#72ca62" stroke-width="1.2"/>
<circle cx="402.4" cy="1505.9" r="10.8" fill="#d1caa2" stroke="#aaa264" stroke-width="1.2"/>
<circle cx="396.1" cy="1535.4" r="6.9" fill="#b4e2ac" stroke="#7aca72" stroke-width="1.2"/>
<circle cx="390.6" cy="1565.3" r="6.9" fill="#bad9ca" stroke="#84baa3" stroke-width="1.2"/>
<circle cx="387.5" cy="1594.6" r="8.9" fill="#b3deb3" stroke="#79c383" stroke-width="1.2"/>
<circle cx="386.7" cy="1625.6" r="8.9" fill="#b3deb3" stroke="#79c383" stroke-width="1.2"/>
<circle cx="385.1" cy="1654.7" r="1.55" fill="#7593e4"/>
<circle cx="385.1" cy="1685" r="1.55" fill="#7593e4"/>
<circle cx="383.2" cy="1715.3" r="6.9" fill="#bad2e2" stroke="#84b3d2" stroke-width="1.2"/>
<circle cx="383.2" cy="1744.8" r="6.9" fill="#bad2e2" stroke="#84b3d2" stroke-width="1.2"/>
<circle cx="382.8" cy="1773.9" r="1.55" fill="#7f95e0"/>
<circle cx="378.8" cy="1804.2" r="9" fill="#b7d1ea" stroke="#84b1da" stroke-width="1.2"/>
<circle cx="376.1" cy="1834.5" r="1.55" fill="#8795e0"/>
<circle cx="371" cy="1863.6" r="6.9" fill="#cacaf1" stroke="#a3a3e2" stroke-width="1.2"/>
<circle cx="366.6" cy="1893.5" r="6.9" fill="#d2d1d1" stroke="#aba4a4" stroke-width="1.2"/>
<circle cx="366.2" cy="1923.8" r="1.55" fill="#c3a393"/>
<circle cx="352.9" cy="1953.7" r="1.65" fill="#e8a224"/>
<line x1="338.3" y1="1969.5" x2="338.3" y2="1974.5" stroke="#333" stroke-width="1.3" />
<text x="338.3" y="1993.4" font-size="15" text-anchor="middle" font-weight="bold" fill="#656565">0</text>
<line x1="386.7" y1="1969.5" x2="386.7" y2="1974.5" stroke="#333" stroke-width="1.3" />
<text x="386.7" y="1993.4" font-size="15" text-anchor="middle" font-weight="bold" fill="#656565">0.05</text>
<line x1="434.7" y1="1969.5" x2="434.7" y2="1974.5" stroke="#333" stroke-width="1.3" />
<text x="434.7" y="1993.4" font-size="15" text-anchor="middle" font-weight="bold" fill="#656565">0.1</text>
<line x1="483.1" y1="1969.5" x2="483.1" y2="1974.5" stroke="#333" stroke-width="1.3" />
<text x="483.1" y="1993.4" font-size="15" text-anchor="middle" font-weight="bold" fill="#656565">0.15</text>
<line x1="531.1" y1="1969.5" x2="531.1" y2="1974.5" stroke="#333" stroke-width="1.3" />
<text x="531.1" y="1993.4" font-size="15" text-anchor="middle" font-weight="bold" fill="#656565">0.2</text>
<line x1="579.1" y1="1969.5" x2="579.1" y2="1974.5" stroke="#333" stroke-width="1.3" />
<text x="579.1" y="1993.4" font-size="15" text-anchor="middle" font-weight="bold" fill="#656565">0.25</text>
<line x1="627.9" y1="1969.5" x2="627.9" y2="1974.5" stroke="#333" stroke-width="1.3" />
<text x="627.9" y="1993.4" font-size="15" text-anchor="middle" font-weight="bold" fill="#656565">0.3</text>
<text x="649.9" y="1210.5" font-size="12.75" font-weight="bold" fill="#222">Number</text>
<circle cx="660.1" cy="1228.2" r="10.9" fill="#000"/>
<circle cx="660.5" cy="1250.2" r="6.2" fill="#000"/>
<circle cx="660.5" cy="1263.2" r="0.9" fill="#000"/>
<text x="677.4" y="1231.6" font-size="10" fill="#222" font-family='"DejaVu Sans", "Liberation Sans", sans-serif'>4.0</text>
<text x="677.4" y="1253.8" font-size="10" fill="#222" font-family='"DejaVu Sans", "Liberation Sans", sans-serif'>2.5</text>
<text x="677.4" y="1267" font-size="10" fill="#222" font-family='"DejaVu Sans", "Liberation Sans", sans-serif'>1.0</text>
<text x="649.9" y="1315.9" font-size="12.75" font-weight="bold" fill="#222">Pvalue</text>
<rect x="649.5" y="1333.6" width="13.8" height="220.3" fill="url(#ge)"/>
<line x1="649.5" y1="1389.6" x2="663.3" y2="1389.6" stroke="#fff" stroke-width="0.8" opacity="0.8"/>
<line x1="649.5" y1="1444.7" x2="663.3" y2="1444.7" stroke="#fff" stroke-width="0.8" opacity="0.8"/>
<line x1="649.5" y1="1499.8" x2="663.3" y2="1499.8" stroke="#fff" stroke-width="0.8" opacity="0.8"/>
<text x="679.4" y="1339.7" font-size="12.5" fill="#656565">1.00</text>
<text x="679.4" y="1394.7" font-size="12.5" fill="#656565">0.75</text>
<text x="679.4" y="1449.8" font-size="12.5" fill="#656565">0.50</text>
<text x="679.4" y="1504.9" font-size="12.5" fill="#656565">0.25</text>
<text x="679.4" y="1559.6" font-size="12.5" fill="#656565">0.00</text>
</g>
<g id="panel-f">
<text x="768" y="1220" font-size="37.5" font-weight="bold">f</text>
<rect x="869" y="1193.8" width="29.99" height="21.3" fill="#7ba7c9"/>
<rect x="898.99" y="1193.8" width="29.99" height="21.3" fill="#7ba7c9"/>
<rect x="928.98" y="1193.8" width="29.99" height="21.3" fill="#7ba7c9"/>
<rect x="958.96" y="1193.8" width="29.99" height="21.3" fill="#7ba7c9"/>
<rect x="988.95" y="1193.8" width="29.99" height="21.3" fill="#eb9dab"/>
<rect x="1018.94" y="1193.8" width="29.99" height="21.3" fill="#eb9dab"/>
<rect x="1048.93" y="1193.8" width="29.99" height="21.3" fill="#eb9dab"/>
<rect x="1078.91" y="1193.8" width="29.99" height="21.3" fill="#eb9dab"/>
<line x1="898.99" y1="1193.8" x2="898.99" y2="1215.1" stroke="#fff" stroke-width="0.9" opacity="0.85"/>
<line x1="928.98" y1="1193.8" x2="928.98" y2="1215.1" stroke="#fff" stroke-width="0.9" opacity="0.85"/>
<line x1="958.96" y1="1193.8" x2="958.96" y2="1215.1" stroke="#fff" stroke-width="0.9" opacity="0.85"/>
<line x1="988.95" y1="1193.8" x2="988.95" y2="1215.1" stroke="#fff" stroke-width="0.9" opacity="0.85"/>
<line x1="1018.94" y1="1193.8" x2="1018.94" y2="1215.1" stroke="#fff" stroke-width="0.9" opacity="0.85"/>
<line x1="1048.93" y1="1193.8" x2="1048.93" y2="1215.1" stroke="#fff" stroke-width="0.9" opacity="0.85"/>
<line x1="1078.91" y1="1193.8" x2="1078.91" y2="1215.1" stroke="#fff" stroke-width="0.9" opacity="0.85"/>
<g filter="url(#hb)" shape-rendering="crispEdges">
<rect x="869" y="1216.6" width="30.29" height="22.88" fill="#c8e4fa"/>
<rect x="898.99" y="1216.6" width="30.29" height="22.88" fill="#daedfc"/>
<rect x="928.98" y="1216.6" width="30.29" height="22.88" fill="#a0d0f9"/>
<rect x="958.96" y="1216.6" width="30.29" height="22.88" fill="#a0d0f9"/>
<rect x="988.95" y="1216.6" width="30.29" height="22.88" fill="#f0929a"/>
<rect x="1018.94" y="1216.6" width="30.29" height="22.88" fill="#f0929a"/>
<rect x="1048.93" y="1216.6" width="30.29" height="22.88" fill="#f8d8da"/>
<rect x="1078.91" y="1216.6" width="30.29" height="22.88" fill="#f0929a"/>
<rect x="869" y="1239.18" width="30.29" height="22.88" fill="#a0d0f9"/>
<rect x="898.99" y="1239.18" width="30.29" height="22.88" fill="#c8e4fa"/>
<rect x="928.98" y="1239.18" width="30.29" height="22.88" fill="#a0d0f9"/>
<rect x="958.96" y="1239.18" width="30.29" height="22.88" fill="#a0d0f9"/>
<rect x="988.95" y="1239.18" width="30.29" height="22.88" fill="#f0929a"/>
<rect x="1018.94" y="1239.18" width="30.29" height="22.88" fill="#f0929a"/>
<rect x="1048.93" y="1239.18" width="30.29" height="22.88" fill="#f5c0c4"/>
<rect x="1078.91" y="1239.18" width="30.29" height="22.88" fill="#f29ba3"/>
<rect x="869" y="1261.76" width="30.29" height="22.88" fill="#a0d0f9"/>
<rect x="898.99" y="1261.76" width="30.29" height="22.88" fill="#a0d0f9"/>
<rect x="928.98" y="1261.76" width="30.29" height="22.88" fill="#a0d0f9"/>
<rect x="958.96" y="1261.76" width="30.29" height="22.88" fill="#a0d0f9"/>
<rect x="988.95" y="1261.76" width="30.29" height="22.88" fill="#f0929a"/>
<rect x="1018.94" y="1261.76" width="30.29" height="22.88" fill="#f0929a"/>
<rect x="1048.93" y="1261.76" width="30.29" height="22.88" fill="#f0929a"/>
<rect x="1078.91" y="1261.76" width="30.29" height="22.88" fill="#f0929a"/>
<rect x="869" y="1284.34" width="30.29" height="22.88" fill="#a7d3f9"/>
<rect x="898.99" y="1284.34" width="30.29" height="22.88" fill="#a0d0f9"/>
<rect x="928.98" y="1284.34" width="30.29" height="22.88" fill="#a0d0f9"/>
<rect x="958.96" y="1284.34" width="30.29" height="22.88" fill="#a0d0f9"/>
<rect x="988.95" y="1284.34" width="30.29" height="22.88" fill="#f0929a"/>
<rect x="1018.94" y="1284.34" width="30.29" height="22.88" fill="#f0929a"/>
<rect x="1048.93" y="1284.34" width="30.29" height="22.88" fill="#f0929a"/>
<rect x="1078.91" y="1284.34" width="30.29" height="22.88" fill="#f29fa7"/>
<rect x="869" y="1306.92" width="30.29" height="22.88" fill="#edf6fd"/>
<rect x="898.99" y="1306.92" width="30.29" height="22.88" fill="#bcdcfa"/>
<rect x="928.98" y="1306.92" width="30.29" height="22.88" fill="#a0d0f9"/>
<rect x="958.96" y="1306.92" width="30.29" height="22.88" fill="#a0d0f9"/>
<rect x="988.95" y="1306.92" width="30.29" height="22.88" fill="#fae8e8"/>
<rect x="1018.94" y="1306.92" width="30.29" height="22.88" fill="#f0929a"/>
<rect x="1048.93" y="1306.92" width="30.29" height="22.88" fill="#f0929a"/>
<rect x="1078.91" y="1306.92" width="30.29" height="22.88" fill="#f8d8da"/>
<rect x="869" y="1329.5" width="30.29" height="22.88" fill="#f1f8fd"/>
<rect x="898.99" y="1329.5" width="30.29" height="22.88" fill="#abd5f9"/>
<rect x="928.98" y="1329.5" width="30.29" height="22.88" fill="#a0d0f9"/>
<rect x="958.96" y="1329.5" width="30.29" height="22.88" fill="#a0d0f9"/>
<rect x="988.95" y="1329.5" width="30.29" height="22.88" fill="#fcf2f0"/>
<rect x="1018.94" y="1329.5" width="30.29" height="22.88" fill="#f0929a"/>
<rect x="1048.93" y="1329.5" width="30.29" height="22.88" fill="#f0929a"/>
<rect x="1078.91" y="1329.5" width="30.29" height="22.88" fill="#f9e2e2"/>
<rect x="869" y="1352.08" width="30.29" height="22.88" fill="#bcdcfa"/>
<rect x="898.99" y="1352.08" width="30.29" height="22.88" fill="#bcdcfa"/>
<rect x="928.98" y="1352.08" width="30.29" height="22.88" fill="#a0d0f9"/>
<rect x="958.96" y="1352.08" width="30.29" height="22.88" fill="#fae8e8"/>
<rect x="988.95" y="1352.08" width="30.29" height="22.88" fill="#e8f4fc"/>
<rect x="1018.94" y="1352.08" width="30.29" height="22.88" fill="#f0929a"/>
<rect x="1048.93" y="1352.08" width="30.29" height="22.88" fill="#f0929a"/>
<rect x="1078.91" y="1352.08" width="30.29" height="22.88" fill="#f5c0c4"/>
<rect x="869" y="1374.66" width="30.29" height="22.88" fill="#e0f0fc"/>
<rect x="898.99" y="1374.66" width="30.29" height="22.88" fill="#e0f0fc"/>
<rect x="928.98" y="1374.66" width="30.29" height="22.88" fill="#e0f0fc"/>
<rect x="958.96" y="1374.66" width="30.29" height="22.88" fill="#e0f0fc"/>
<rect x="988.95" y="1374.66" width="30.29" height="22.88" fill="#f9dee0"/>
<rect x="1018.94" y="1374.66" width="30.29" height="22.88" fill="#f0929a"/>
<rect x="1048.93" y="1374.66" width="30.29" height="22.88" fill="#f0929a"/>
<rect x="1078.91" y="1374.66" width="30.29" height="22.88" fill="#f0929a"/>
<rect x="869" y="1397.24" width="30.29" height="22.88" fill="#bcdcfa"/>
<rect x="898.99" y="1397.24" width="30.29" height="22.88" fill="#daedfc"/>
<rect x="928.98" y="1397.24" width="30.29" height="22.88" fill="#a7d3f9"/>
<rect x="958.96" y="1397.24" width="30.29" height="22.88" fill="#fcefee"/>
<rect x="988.95" y="1397.24" width="30.29" height="22.88" fill="#f6fbfe"/>
<rect x="1018.94" y="1397.24" width="30.29" height="22.88" fill="#f0929a"/>
<rect x="1048.93" y="1397.24" width="30.29" height="22.88" fill="#f0929a"/>
<rect x="1078.91" y="1397.24" width="30.29" height="22.88" fill="#f0929a"/>
<rect x="898.99" y="1419.82" width="30.29" height="22.88" fill="#e0f0fc"/>
<rect x="928.98" y="1419.82" width="30.29" height="22.88" fill="#a7d3f9"/>
<rect x="958.96" y="1419.82" width="30.29" height="22.88" fill="#f6fbfe"/>
<rect x="988.95" y="1419.82" width="30.29" height="22.88" fill="#f0929a"/>
<rect x="1018.94" y="1419.82" width="30.29" height="22.88" fill="#f0929a"/>
<rect x="1048.93" y="1419.82" width="30.29" height="22.88" fill="#f0929a"/>
<rect x="869" y="1442.4" width="30.29" height="22.88" fill="#a7d3f9"/>
<rect x="898.99" y="1442.4" width="30.29" height="22.88" fill="#c8e4fa"/>
<rect x="928.98" y="1442.4" width="30.29" height="22.88" fill="#e0f0fc"/>
<rect x="958.96" y="1442.4" width="30.29" height="22.88" fill="#abd5f9"/>
<rect x="988.95" y="1442.4" width="30.29" height="22.88" fill="#f9dee0"/>
<rect x="1018.94" y="1442.4" width="30.29" height="22.88" fill="#f0929a"/>
<rect x="1048.93" y="1442.4" width="30.29" height="22.88" fill="#f0929a"/>
<rect x="1078.91" y="1442.4" width="30.29" height="22.88" fill="#f4b2b8"/>
<rect x="869" y="1464.98" width="30.29" height="22.88" fill="#edf6fd"/>
<rect x="898.99" y="1464.98" width="30.29" height="22.88" fill="#a7d3f9"/>
<rect x="928.98" y="1464.98" width="30.29" height="22.88" fill="#b2d8f9"/>
<rect x="988.95" y="1464.98" width="30.29" height="22.88" fill="#f0929a"/>
<rect x="1018.94" y="1464.98" width="30.29" height="22.88" fill="#f0929a"/>
<rect x="1048.93" y="1464.98" width="30.29" height="22.88" fill="#f0929a"/>
<rect x="869" y="1487.56" width="30.29" height="22.88" fill="#c1dffa"/>
<rect x="898.99" y="1487.56" width="30.29" height="22.88" fill="#a7d3f9"/>
<rect x="928.98" y="1487.56" width="30.29" height="22.88" fill="#a4d2f9"/>
<rect x="958.96" y="1487.56" width="30.29" height="22.88" fill="#bcdcfa"/>
<rect x="988.95" y="1487.56" width="30.29" height="22.88" fill="#f0929a"/>
<rect x="1018.94" y="1487.56" width="30.29" height="22.88" fill="#f0929a"/>
<rect x="1048.93" y="1487.56" width="30.29" height="22.88" fill="#f0929a"/>
<rect x="1078.91" y="1487.56" width="30.29" height="22.88" fill="#f4b2b8"/>
<rect x="869" y="1510.14" width="30.29" height="22.88" fill="#a4d2f9"/>
<rect x="898.99" y="1510.14" width="30.29" height="22.88" fill="#f8d8da"/>
<rect x="928.98" y="1510.14" width="30.29" height="22.88" fill="#a4d2f9"/>
<rect x="958.96" y="1510.14" width="30.29" height="22.88" fill="#a4d2f9"/>
<rect x="988.95" y="1510.14" width="30.29" height="22.88" fill="#f0929a"/>
<rect x="1018.94" y="1510.14" width="30.29" height="22.88" fill="#f5b6bc"/>
<rect x="1048.93" y="1510.14" width="30.29" height="22.88" fill="#f0929a"/>
<rect x="1078.91" y="1510.14" width="30.29" height="22.88" fill="#daedfc"/>
<rect x="869" y="1532.72" width="30.29" height="22.88" fill="#a4d2f9"/>
<rect x="898.99" y="1532.72" width="30.29" height="22.88" fill="#bcdcfa"/>
<rect x="928.98" y="1532.72" width="30.29" height="22.88" fill="#a4d2f9"/>
<rect x="958.96" y="1532.72" width="30.29" height="22.88" fill="#a4d2f9"/>
<rect x="988.95" y="1532.72" width="30.29" height="22.88" fill="#f0929a"/>
<rect x="1018.94" y="1532.72" width="30.29" height="22.88" fill="#f4b2b8"/>
<rect x="1048.93" y="1532.72" width="30.29" height="22.88" fill="#f0929a"/>
<rect x="1078.91" y="1532.72" width="30.29" height="22.88" fill="#f0929a"/>
<rect x="869" y="1555.3" width="30.29" height="22.88" fill="#a4d2f9"/>
<rect x="898.99" y="1555.3" width="30.29" height="22.88" fill="#bcdcfa"/>
<rect x="928.98" y="1555.3" width="30.29" height="22.88" fill="#a4d2f9"/>
<rect x="988.95" y="1555.3" width="30.29" height="22.88" fill="#f7d3d6"/>
<rect x="1048.93" y="1555.3" width="30.29" height="22.88" fill="#f0929a"/>
<rect x="1078.91" y="1555.3" width="30.29" height="22.88" fill="#f5c0c4"/>
<rect x="869" y="1577.88" width="30.29" height="22.88" fill="#a4d2f9"/>
<rect x="928.98" y="1577.88" width="30.29" height="22.88" fill="#a4d2f9"/>
<rect x="958.96" y="1577.88" width="30.29" height="22.88" fill="#c1dffa"/>
<rect x="988.95" y="1577.88" width="30.29" height="22.88" fill="#f4b2b8"/>
<rect x="1018.94" y="1577.88" width="30.29" height="22.88" fill="#f0929a"/>
<rect x="1048.93" y="1577.88" width="30.29" height="22.88" fill="#f0929a"/>
<rect x="898.99" y="1600.46" width="30.29" height="22.88" fill="#a4d2f9"/>
<rect x="928.98" y="1600.46" width="30.29" height="22.88" fill="#c8e4fa"/>
<rect x="958.96" y="1600.46" width="30.29" height="22.88" fill="#a4d2f9"/>
<rect x="988.95" y="1600.46" width="30.29" height="22.88" fill="#f0929a"/>
<rect x="1018.94" y="1600.46" width="30.29" height="22.88" fill="#f0929a"/>
<rect x="1078.91" y="1600.46" width="30.29" height="22.88" fill="#f0929a"/>
<rect x="869" y="1623.04" width="30.29" height="22.88" fill="#e0f0fc"/>
<rect x="898.99" y="1623.04" width="30.29" height="22.88" fill="#b5d9fa"/>
<rect x="928.98" y="1623.04" width="30.29" height="22.88" fill="#abd5f9"/>
<rect x="958.96" y="1623.04" width="30.29" height="22.88" fill="#a4d2f9"/>
<rect x="988.95" y="1623.04" width="30.29" height="22.88" fill="#f0929a"/>
<rect x="1018.94" y="1623.04" width="30.29" height="22.88" fill="#f4a8b0"/>
<rect x="1048.93" y="1623.04" width="30.29" height="22.88" fill="#f8d8da"/>
<rect x="1078.91" y="1623.04" width="30.29" height="22.88" fill="#f0929a"/>
<rect x="869" y="1645.62" width="30.29" height="22.88" fill="#a2d1f9"/>
<rect x="898.99" y="1645.62" width="30.29" height="22.88" fill="#a2d1f9"/>
<rect x="928.98" y="1645.62" width="30.29" height="22.88" fill="#a2d1f9"/>
<rect x="958.96" y="1645.62" width="30.29" height="22.88" fill="#c1dffa"/>
<rect x="988.95" y="1645.62" width="30.29" height="22.88" fill="#f0929a"/>
<rect x="1018.94" y="1645.62" width="30.29" height="22.88" fill="#f0929a"/>
<rect x="1048.93" y="1645.62" width="30.29" height="22.88" fill="#f5c0c4"/>
<rect x="1078.91" y="1645.62" width="30.29" height="22.88" fill="#f0929a"/>
<rect x="869" y="1668.2" width="30.29" height="22.88" fill="#a2d1f9"/>
<rect x="898.99" y="1668.2" width="30.29" height="22.88" fill="#a2d1f9"/>
<rect x="928.98" y="1668.2" width="30.29" height="22.88" fill="#a2d1f9"/>
<rect x="958.96" y="1668.2" width="30.29" height="22.88" fill="#daedfc"/>
<rect x="988.95" y="1668.2" width="30.29" height="22.88" fill="#f4a8b0"/>
<rect x="1018.94" y="1668.2" width="30.29" height="22.88" fill="#f7ced1"/>
<rect x="1048.93" y="1668.2" width="30.29" height="22.88" fill="#f7ced1"/>
<rect x="1078.91" y="1668.2" width="30.29" height="22.88" fill="#f0929a"/>
<rect x="869" y="1690.78" width="30.29" height="22.88" fill="#a9d4f9"/>
<rect x="898.99" y="1690.78" width="30.29" height="22.88" fill="#a2d1f9"/>
<rect x="928.98" y="1690.78" width="30.29" height="22.88" fill="#bcdcfa"/>
<rect x="958.96" y="1690.78" width="30.29" height="22.88" fill="#a4d2f9"/>
<rect x="988.95" y="1690.78" width="30.29" height="22.88" fill="#f0929a"/>
<rect x="1018.94" y="1690.78" width="30.29" height="22.88" fill="#f5b6bc"/>
<rect x="1048.93" y="1690.78" width="30.29" height="22.88" fill="#f0929a"/>
<rect x="1078.91" y="1690.78" width="30.29" height="22.88" fill="#f0929a"/>
<rect x="869" y="1713.36" width="30.29" height="22.88" fill="#a9d4f9"/>
<rect x="898.99" y="1713.36" width="30.29" height="22.88" fill="#a2d1f9"/>
<rect x="928.98" y="1713.36" width="30.29" height="22.88" fill="#c8e4fa"/>
<rect x="958.96" y="1713.36" width="30.29" height="22.88" fill="#a4d2f9"/>
<rect x="988.95" y="1713.36" width="30.29" height="22.88" fill="#f0929a"/>
<rect x="1018.94" y="1713.36" width="30.29" height="22.88" fill="#f6cacd"/>
<rect x="1048.93" y="1713.36" width="30.29" height="22.88" fill="#f0929a"/>
<rect x="1078.91" y="1713.36" width="30.29" height="22.88" fill="#f0929a"/>
<rect x="869" y="1735.94" width="30.29" height="22.88" fill="#c8e4fa"/>
<rect x="898.99" y="1735.94" width="30.29" height="22.88" fill="#a2d1f9"/>
<rect x="928.98" y="1735.94" width="30.29" height="22.88" fill="#b5d9fa"/>
<rect x="958.96" y="1735.94" width="30.29" height="22.88" fill="#a9d4f9"/>
<rect x="988.95" y="1735.94" width="30.29" height="22.88" fill="#f0929a"/>
<rect x="1018.94" y="1735.94" width="30.29" height="22.88" fill="#f0929a"/>
<rect x="1048.93" y="1735.94" width="30.29" height="22.88" fill="#f0929a"/>
<rect x="1078.91" y="1735.94" width="30.29" height="22.88" fill="#f6cacd"/>
<rect x="869" y="1758.52" width="30.29" height="22.88" fill="#a2d1f9"/>
<rect x="898.99" y="1758.52" width="30.29" height="22.88" fill="#f5c0c4"/>
<rect x="928.98" y="1758.52" width="30.29" height="22.88" fill="#a2d1f9"/>
<rect x="958.96" y="1758.52" width="30.29" height="22.88" fill="#a2d1f9"/>
<rect x="988.95" y="1758.52" width="30.29" height="22.88" fill="#f29ba3"/>
<rect x="1018.94" y="1758.52" width="30.29" height="22.88" fill="#f4a8b0"/>
<rect x="1048.93" y="1758.52" width="30.29" height="22.88" fill="#c3e1fa"/>
<rect x="1078.91" y="1758.52" width="30.29" height="22.88" fill="#f5b6bc"/>
<rect x="869" y="1781.1" width="30.29" height="22.88" fill="#a2d1f9"/>
<rect x="898.99" y="1781.1" width="30.29" height="22.88" fill="#fafdfe"/>
<rect x="928.98" y="1781.1" width="30.29" height="22.88" fill="#a2d1f9"/>
<rect x="958.96" y="1781.1" width="30.29" height="22.88" fill="#a2d1f9"/>
<rect x="988.95" y="1781.1" width="30.29" height="22.88" fill="#f0929a"/>
<rect x="1018.94" y="1781.1" width="30.29" height="22.88" fill="#fdf4f2"/>
<rect x="1048.93" y="1781.1" width="30.29" height="22.88" fill="#fae8e8"/>
<rect x="1078.91" y="1781.1" width="30.29" height="22.88" fill="#f9dee0"/>
<rect x="869" y="1803.68" width="30.29" height="22.88" fill="#a2d1f9"/>
<rect x="898.99" y="1803.68" width="30.29" height="22.88" fill="#fae8e8"/>
<rect x="928.98" y="1803.68" width="30.29" height="22.88" fill="#a2d1f9"/>
<rect x="958.96" y="1803.68" width="30.29" height="22.88" fill="#a2d1f9"/>
<rect x="988.95" y="1803.68" width="30.29" height="22.88" fill="#f0929a"/>
<rect x="1018.94" y="1803.68" width="30.29" height="22.88" fill="#edf6fd"/>
<rect x="1048.93" y="1803.68" width="30.29" height="22.88" fill="#f0929a"/>
<rect x="1078.91" y="1803.68" width="30.29" height="22.88" fill="#f5c0c4"/>
<rect x="869" y="1826.26" width="30.29" height="22.88" fill="#a2d1f9"/>
<rect x="898.99" y="1826.26" width="30.29" height="22.88" fill="#f8d8da"/>
<rect x="928.98" y="1826.26" width="30.29" height="22.88" fill="#a2d1f9"/>
<rect x="958.96" y="1826.26" width="30.29" height="22.88" fill="#a2d1f9"/>
<rect x="988.95" y="1826.26" width="30.29" height="22.88" fill="#f0929a"/>
<rect x="1018.94" y="1826.26" width="30.29" height="22.88" fill="#e0f0fc"/>
<rect x="1048.93" y="1826.26" width="30.29" height="22.88" fill="#f3a4ac"/>
<rect x="1078.91" y="1826.26" width="30.29" height="22.88" fill="#f8d8da"/>
<rect x="869" y="1848.84" width="30.29" height="22.88" fill="#f4b2b8"/>
<rect x="898.99" y="1848.84" width="30.29" height="22.88" fill="#fafdfe"/>
<rect x="928.98" y="1848.84" width="30.29" height="22.88" fill="#f29ba3"/>
<rect x="958.96" y="1848.84" width="30.29" height="22.88" fill="#f0929a"/>
<rect x="988.95" y="1848.84" width="30.29" height="22.88" fill="#a2d1f9"/>
<rect x="1018.94" y="1848.84" width="30.29" height="22.88" fill="#fcf2f0"/>
<rect x="1048.93" y="1848.84" width="30.29" height="22.88" fill="#a2d1f9"/>
<rect x="1078.91" y="1848.84" width="30.29" height="22.88" fill="#a2d1f9"/>
<rect x="869" y="1871.42" width="30.29" height="22.88" fill="#f0929a"/>
<rect x="898.99" y="1871.42" width="30.29" height="22.88" fill="#fbeaea"/>
<rect x="928.98" y="1871.42" width="30.29" height="22.88" fill="#f29ba3"/>
<rect x="958.96" y="1871.42" width="30.29" height="22.88" fill="#f0929a"/>
<rect x="988.95" y="1871.42" width="30.29" height="22.88" fill="#a2d1f9"/>
<rect x="1018.94" y="1871.42" width="30.29" height="22.88" fill="#f1f8fd"/>
<rect x="1048.93" y="1871.42" width="30.29" height="22.88" fill="#a2d1f9"/>
<rect x="1078.91" y="1871.42" width="30.29" height="22.88" fill="#a2d1f9"/>
<rect x="869" y="1894" width="30.29" height="22.88" fill="#f0929a"/>
<rect x="898.99" y="1894" width="30.29" height="22.88" fill="#f0929a"/>
<rect x="928.98" y="1894" width="30.29" height="22.88" fill="#f0929a"/>
<rect x="958.96" y="1894" width="30.29" height="22.88" fill="#e0f0fc"/>
<rect x="1018.94" y="1894" width="30.29" height="22.88" fill="#a2d1f9"/>
<rect x="1078.91" y="1894" width="30.29" height="22.88" fill="#aed6f9"/>
<rect x="869" y="1916.58" width="30.29" height="22.88" fill="#f0929a"/>
<rect x="898.99" y="1916.58" width="30.29" height="22.88" fill="#f0929a"/>
<rect x="928.98" y="1916.58" width="30.29" height="22.88" fill="#f5c0c4"/>
<rect x="958.96" y="1916.58" width="30.29" height="22.88" fill="#f0929a"/>
<rect x="988.95" y="1916.58" width="30.29" height="22.88" fill="#a2d1f9"/>
<rect x="1018.94" y="1916.58" width="30.29" height="22.88" fill="#a2d1f9"/>
<rect x="1048.93" y="1916.58" width="30.29" height="22.88" fill="#c8e4fa"/>
<rect x="1078.91" y="1916.58" width="30.29" height="22.88" fill="#a4d2f9"/>
<rect x="869" y="1939.16" width="30.29" height="22.88" fill="#d3e9fb"/>
<rect x="898.99" y="1939.16" width="30.29" height="22.88" fill="#f0929a"/>
<rect x="928.98" y="1939.16" width="30.29" height="22.88" fill="#f8d8da"/>
<rect x="958.96" y="1939.16" width="30.29" height="22.88" fill="#f0929a"/>
<rect x="988.95" y="1939.16" width="30.29" height="22.88" fill="#a2d1f9"/>
<rect x="1018.94" y="1939.16" width="30.29" height="22.88" fill="#a2d1f9"/>
<rect x="1048.93" y="1939.16" width="30.29" height="22.88" fill="#a2d1f9"/>
<rect x="1078.91" y="1939.16" width="30.29" height="22.88" fill="#f5c0c4"/>
<rect x="869" y="1961.74" width="30.29" height="22.88" fill="#f4a8b0"/>
<rect x="898.99" y="1961.74" width="30.29" height="22.88" fill="#f0929a"/>
<rect x="928.98" y="1961.74" width="30.29" height="22.88" fill="#f0929a"/>
<rect x="958.96" y="1961.74" width="30.29" height="22.88" fill="#d3e9fb"/>
<rect x="988.95" y="1961.74" width="30.29" height="22.88" fill="#a2d1f9"/>
<rect x="1018.94" y="1961.74" width="30.29" height="22.88" fill="#a2d1f9"/>
<rect x="1048.93" y="1961.74" width="30.29" height="22.88" fill="#a2d1f9"/>
<rect x="1078.91" y="1961.74" width="30.29" height="22.88" fill="#f7ced1"/>
</g>
<rect x="1110.9" y="1216.6" width="27.7" height="22.58" fill="#245552"/>
<rect x="1110.9" y="1239.18" width="27.7" height="22.58" fill="#4a6a9a"/>
<rect x="1110.9" y="1261.76" width="27.7" height="22.58" fill="#245552"/>
<rect x="1110.9" y="1284.34" width="27.7" height="22.58" fill="#e8b084"/>
<rect x="1110.9" y="1306.92" width="27.7" height="22.58" fill="#b5bd35"/>
<rect x="1110.9" y="1329.5" width="27.7" height="22.58" fill="#50adb0"/>
<rect x="1110.9" y="1352.08" width="27.7" height="22.58" fill="#f07478"/>
<rect x="1110.9" y="1374.66" width="27.7" height="22.58" fill="#9a3c40"/>
<rect x="1110.9" y="1397.24" width="27.7" height="22.58" fill="#c07a3c"/>
<rect x="1110.9" y="1419.82" width="27.7" height="22.58" fill="#4a6fa5"/>
<rect x="1110.9" y="1442.4" width="27.7" height="22.58" fill="#232f85"/>
<rect x="1110.9" y="1464.98" width="27.7" height="22.58" fill="#7d9a45"/>
<rect x="1110.9" y="1487.56" width="27.7" height="22.58" fill="#6d1b70"/>
<rect x="1110.9" y="1510.14" width="27.7" height="22.58" fill="#7a5a1a"/>
<rect x="1110.9" y="1532.72" width="27.7" height="22.58" fill="#4a8bd4"/>
<rect x="1110.9" y="1555.3" width="27.7" height="22.58" fill="#624a80"/>
<rect x="1110.9" y="1577.88" width="27.7" height="22.58" fill="#232f85"/>
<rect x="1110.9" y="1600.46" width="27.7" height="22.58" fill="#f07478"/>
<rect x="1110.9" y="1623.04" width="27.7" height="22.58" fill="#34589e"/>
<rect x="1110.9" y="1645.62" width="27.7" height="22.58" fill="#7a5a1a"/>
<rect x="1110.9" y="1668.2" width="27.7" height="22.58" fill="#ebb5c3"/>
<rect x="1110.9" y="1690.78" width="27.7" height="22.58" fill="#fa9afa"/>
<rect x="1110.9" y="1713.36" width="27.7" height="22.58" fill="#a295cc"/>
<rect x="1110.9" y="1735.94" width="27.7" height="22.58" fill="#3fa556"/>
<rect x="1110.9" y="1758.52" width="27.7" height="22.58" fill="#7cc5f5"/>
<rect x="1110.9" y="1781.1" width="27.7" height="22.58" fill="#595959"/>
<rect x="1110.9" y="1803.68" width="27.7" height="22.58" fill="#4a8bd4"/>
<rect x="1110.9" y="1826.26" width="27.7" height="22.58" fill="#b5bd35"/>
<rect x="1110.9" y="1848.84" width="27.7" height="22.58" fill="#eee06a"/>
<rect x="1110.9" y="1871.42" width="27.7" height="22.58" fill="#1f3a6d"/>
<rect x="1110.9" y="1894" width="27.7" height="22.58" fill="#f07478"/>
<rect x="1110.9" y="1916.58" width="27.7" height="22.58" fill="#b5bd35"/>
<rect x="1110.9" y="1939.16" width="27.7" height="22.58" fill="#50adb0"/>
<rect x="1110.9" y="1961.74" width="27.7" height="22.58" fill="#50959a"/>
<line x1="1110.9" y1="1216.6" x2="1138.9" y2="1216.6" stroke="#161616" stroke-width="1.3" />
<line x1="1110.9" y1="1239.18" x2="1138.9" y2="1239.18" stroke="#161616" stroke-width="1.3" />
<line x1="1110.9" y1="1261.76" x2="1138.9" y2="1261.76" stroke="#161616" stroke-width="1.3" />
<line x1="1110.9" y1="1284.34" x2="1138.9" y2="1284.34" stroke="#161616" stroke-width="1.3" />
<line x1="1110.9" y1="1306.92" x2="1138.9" y2="1306.92" stroke="#161616" stroke-width="1.3" />
<line x1="1110.9" y1="1329.5" x2="1138.9" y2="1329.5" stroke="#161616" stroke-width="1.3" />
<line x1="1110.9" y1="1352.08" x2="1138.9" y2="1352.08" stroke="#161616" stroke-width="1.3" />
<line x1="1110.9" y1="1374.66" x2="1138.9" y2="1374.66" stroke="#161616" stroke-width="1.3" />
<line x1="1110.9" y1="1397.24" x2="1138.9" y2="1397.24" stroke="#161616" stroke-width="1.3" />
<line x1="1110.9" y1="1419.82" x2="1138.9" y2="1419.82" stroke="#161616" stroke-width="1.3" />
<line x1="1110.9" y1="1442.4" x2="1138.9" y2="1442.4" stroke="#161616" stroke-width="1.3" />
<line x1="1110.9" y1="1464.98" x2="1138.9" y2="1464.98" stroke="#161616" stroke-width="1.3" />
<line x1="1110.9" y1="1487.56" x2="1138.9" y2="1487.56" stroke="#161616" stroke-width="1.3" />
<line x1="1110.9" y1="1510.14" x2="1138.9" y2="1510.14" stroke="#161616" stroke-width="1.3" />
<line x1="1110.9" y1="1532.72" x2="1138.9" y2="1532.72" stroke="#161616" stroke-width="1.3" />
<line x1="1110.9" y1="1555.3" x2="1138.9" y2="1555.3" stroke="#161616" stroke-width="1.3" />
<line x1="1110.9" y1="1577.88" x2="1138.9" y2="1577.88" stroke="#161616" stroke-width="1.3" />
<line x1="1110.9" y1="1600.46" x2="1138.9" y2="1600.46" stroke="#161616" stroke-width="1.3" />
<line x1="1110.9" y1="1623.04" x2="1138.9" y2="1623.04" stroke="#161616" stroke-width="1.3" />
<line x1="1110.9" y1="1645.62" x2="1138.9" y2="1645.62" stroke="#161616" stroke-width="1.3" />
<line x1="1110.9" y1="1668.2" x2="1138.9" y2="1668.2" stroke="#161616" stroke-width="1.3" />
<line x1="1110.9" y1="1690.78" x2="1138.9" y2="1690.78" stroke="#161616" stroke-width="1.3" />
<line x1="1110.9" y1="1713.36" x2="1138.9" y2="1713.36" stroke="#161616" stroke-width="1.3" />
<line x1="1110.9" y1="1735.94" x2="1138.9" y2="1735.94" stroke="#161616" stroke-width="1.3" />
<line x1="1110.9" y1="1758.52" x2="1138.9" y2="1758.52" stroke="#161616" stroke-width="1.3" />
<line x1="1110.9" y1="1781.1" x2="1138.9" y2="1781.1" stroke="#161616" stroke-width="1.3" />
<line x1="1110.9" y1="1803.68" x2="1138.9" y2="1803.68" stroke="#161616" stroke-width="1.3" />
<line x1="1110.9" y1="1826.26" x2="1138.9" y2="1826.26" stroke="#161616" stroke-width="1.3" />
<line x1="1110.9" y1="1848.84" x2="1138.9" y2="1848.84" stroke="#161616" stroke-width="1.3" />
<line x1="1110.9" y1="1871.42" x2="1138.9" y2="1871.42" stroke="#161616" stroke-width="1.3" />
<line x1="1110.9" y1="1894" x2="1138.9" y2="1894" stroke="#161616" stroke-width="1.3" />
<line x1="1110.9" y1="1916.58" x2="1138.9" y2="1916.58" stroke="#161616" stroke-width="1.3" />
<line x1="1110.9" y1="1939.16" x2="1138.9" y2="1939.16" stroke="#161616" stroke-width="1.3" />
<line x1="1110.9" y1="1961.74" x2="1138.9" y2="1961.74" stroke="#161616" stroke-width="1.3" />
<line x1="1110.9" y1="1984.32" x2="1138.9" y2="1984.32" stroke="#161616" stroke-width="0.9" />
<line x1="1110.9" y1="1216.6" x2="1110.9" y2="1984.32" stroke="#333" stroke-width="0.8" />
<line x1="1138.6" y1="1216.6" x2="1138.6" y2="1984.32" stroke="#333" stroke-width="0.7" />
<text x="1143.2" y="1234.3" font-size="19.35" >Methylmalonic acid</text>
<text x="1143.2" y="1256.88" font-size="19.35" >3-Ureidopropionic acid</text>
<text x="1143.2" y="1279.46" font-size="19.35" >Propionic acid</text>
<text x="1143.2" y="1302.04" font-size="19.35" >L-Proline</text>
<text x="1143.2" y="1324.62" font-size="19.35" >11-cis-retinal</text>
<text x="1143.2" y="1347.2" font-size="19.35" >5a-Pregnane-3,20-dione</text>
<text x="1143.2" y="1369.78" font-size="19.35" >Xanthurenic acid</text>
<text x="1143.2" y="1392.36" font-size="19.35" >L-(+)-Tartaric acid</text>
<text x="1143.2" y="1414.94" font-size="19.35" >Metanephrine</text>
<text x="1143.2" y="1437.52" font-size="19.35" >L-Methionine</text>
<text x="1143.2" y="1460.1" font-size="19.35" >4-Methyl-2-oxovaleric acid</text>
<text x="1143.2" y="1482.68" font-size="19.35" >1-Methylhistidine</text>
<text x="1143.2" y="1505.26" font-size="19.35" >L-Pyroglutamic acid</text>
<text x="1143.2" y="1527.84" font-size="19.35" >L-Aspartic acid</text>
<text x="1143.2" y="1550.42" font-size="19.35" >Uracil</text>
<text x="1143.2" y="1573" font-size="19.35" >S-Adenosylmethionine</text>
<text x="1143.2" y="1595.58" font-size="19.35" >(S)-beta-Aminoisobutyric acid</text>
<text x="1143.2" y="1618.16" font-size="19.35" >5-Methoxyindoleacetate</text>
<text x="1143.2" y="1640.74" font-size="19.35" >Nicotinamide</text>
<text x="1143.2" y="1663.32" font-size="19.35" >Citrulline</text>
<text x="1143.2" y="1685.9" font-size="19.35" >Chenodeoxycholic acid</text>
<text x="1143.2" y="1708.48" font-size="19.35" >Aminoacetone</text>
<text x="1143.2" y="1731.06" font-size="19.35" >5a-Dihydrotestosterone</text>
<text x="1143.2" y="1753.64" font-size="19.35" >Stearic acid</text>
<text x="1143.2" y="1776.22" font-size="19.35" >Thromboxane B2</text>
<text x="1143.2" y="1798.8" font-size="19.35" >D-Pantothenic acid</text>
<text x="1143.2" y="1821.38" font-size="19.35" >16(R)-HETE</text>
<text x="1143.2" y="1843.96" font-size="19.35" >9-cis-Retinal</text>
<text x="1143.2" y="1866.54" font-size="19.35" >Crotonic acid</text>
<text x="1143.2" y="1889.12" font-size="19.35" >Sulfate</text>
<text x="1143.2" y="1911.7" font-size="19.35" >L-Kynurenine</text>
<text x="1143.2" y="1934.28" font-size="19.35" >9-cis-Retinoic acid</text>
<text x="1143.2" y="1956.86" font-size="19.35" >Corticosterone</text>
<text x="1143.2" y="1979.44" font-size="19.35" >Thiamine</text>
<path d="M867.6 1278.2H865.23M867.6 1300.7H865.23M867.6 1255.7H863.92M865.7 1289.45H863.92M867.6 1233.2H861.82M864.4 1272.58H861.82M867.6 1323.2H865.92M867.6 1345.7H865.92M866.4 1334.45H863.42M867.6 1368.2H863.42M867.6 1390.7H863.42M867.6 1413.2H863.42M863.9 1351.33H861.42M863.9 1401.95H861.42M867.6 1435.7H858.23M867.6 1458.2H858.23M861.9 1376.64H856.42M858.7 1446.95H856.42M862.3 1252.89H854.02M856.9 1411.79H854.02M867.6 1480.7H862.23M867.6 1503.2H862.23M862.7 1491.95H857.12M867.6 1525.7H857.12M867.6 1548.2H862.23M867.6 1570.7H862.23M862.7 1559.45H859.42M867.6 1593.2H859.42M857.6 1508.83H851.52M859.9 1576.33H851.52M854.5 1332.34H848.42M852 1542.58H848.42M867.6 1615.7H862.82M867.6 1638.2H862.82M867.6 1660.7H862.23M867.6 1683.2H862.23M867.6 1705.7H862.23M867.6 1728.2H862.23M862.7 1671.95H856.42M862.7 1716.95H856.42M863.3 1626.95H854.02M856.9 1694.45H854.02M854.5 1660.7H850.42M867.6 1750.7H850.42M848.9 1437.46H845.32M850.9 1705.7H845.32M867.6 1818.2H865.62M867.6 1840.7H865.62M867.6 1795.7H863.42M866.1 1829.45H863.42M867.6 1773.2H858.73M863.9 1812.58H858.73M845.8 1571.58H839.23M859.2 1792.89H839.23M867.6 1863.2H859.82M867.6 1885.7H859.82M867.6 1908.2H853.12M867.6 1930.7H853.12M867.6 1953.2H848.82M867.6 1975.7H848.82M853.6 1919.45H840.92M849.3 1964.45H840.92M860.3 1874.45H837.82M841.4 1941.95H837.82M839.7 1682.23H774.82M838.3 1908.2H774.82" fill="none" stroke="#3c3c3c" stroke-width="1.4"/>
<path d="M865.7 1277.5V1301.4M864.4 1255V1290.15M862.3 1232.5V1273.28M866.4 1322.5V1346.4M863.9 1333.75V1368.9M863.9 1390V1413.9M861.9 1350.62V1402.65M858.7 1435V1458.9M856.9 1375.94V1447.65M854.5 1252.19V1412.49M862.7 1480V1503.9M857.6 1491.25V1526.4M862.7 1547.5V1571.4M859.9 1558.75V1593.9M852 1508.12V1577.03M848.9 1331.64V1543.28M863.3 1615V1638.9M862.7 1660V1683.9M862.7 1705V1728.9M856.9 1671.25V1717.65M854.5 1626.25V1695.15M850.9 1660V1751.4M845.8 1436.76V1706.4M866.1 1817.5V1841.4M863.9 1795V1830.15M859.2 1772.5V1813.28M839.7 1570.88V1793.59M860.3 1862.5V1886.4M853.6 1907.5V1931.4M849.3 1952.5V1976.4M841.4 1918.75V1965.15M838.3 1873.75V1942.65M775.3 1681.53V1908.9" fill="none" stroke="#3c3c3c" stroke-width="0.95"/>
<text x="1448.8" y="1267.5" font-size="22.2" font-weight="bold">Pathway</text>
<rect x="1442.2" y="1290.5" width="27.6" height="28.01" fill="#f07478"/>
<text x="1472.5" y="1307.4" font-size="18.87" >Tryptophan Metabolism</text>
<rect x="1442.2" y="1318.51" width="27.6" height="28.01" fill="#b5bd35"/>
<text x="1472.5" y="1337.1" font-size="18.87" >Retinol Metabolism</text>
<rect x="1442.2" y="1346.52" width="27.6" height="28.01" fill="#4a8bd4"/>
<text x="1472.5" y="1368.3" font-size="18.87" >Pyrimidine Metabolism</text>
<rect x="1442.2" y="1374.53" width="27.6" height="28.01" fill="#7a5a1a"/>
<text x="1472.5" y="1393.8" font-size="18.87" >Urea Cycle</text>
<rect x="1442.2" y="1402.54" width="27.6" height="28.01" fill="#232f85"/>
<text x="1472.5" y="1423.3" font-size="18.87" >Valine, Leucine and Isoleucine Degradation</text>
<rect x="1442.2" y="1430.55" width="27.6" height="28.01" fill="#50adb0"/>
<text x="1472.5" y="1453.9" font-size="18.87" >Steroidogenesis</text>
<rect x="1442.2" y="1458.56" width="27.6" height="28.01" fill="#245552"/>
<text x="1472.5" y="1481.2" font-size="18.87" >Vitamin K Metabolism</text>
<rect x="1442.2" y="1486.57" width="27.6" height="28.01" fill="#eee06a"/>
<text x="1472.5" y="1508.2" font-size="18.87" >Fatty Acid Biosynthesis</text>
<rect x="1442.2" y="1514.58" width="27.6" height="28.01" fill="#4a8bd4"/>
<text x="1472.5" y="1534.6" font-size="18.87" >Arachidonic Acid Metabolism</text>
<rect x="1442.2" y="1542.59" width="27.6" height="28.01" fill="#3fa556"/>
<text x="1472.5" y="1563.4" font-size="18.87" >Plasmalogen Synthesis</text>
<rect x="1442.2" y="1570.6" width="27.6" height="28.01" fill="#ebb5c3"/>
<text x="1472.5" y="1590.5" font-size="18.87" >Bile Acid Biosynthesis</text>
<rect x="1442.2" y="1598.61" width="27.6" height="28.01" fill="#e8b084"/>
<text x="1472.5" y="1617.3" font-size="18.87" >Arginine and Proline Metabolism</text>
<rect x="1442.2" y="1626.62" width="27.6" height="28.01" fill="#4a6a9a"/>
<text x="1472.5" y="1647.4" font-size="18.87" >Beta-Alanine Metabolism</text>
<rect x="1442.2" y="1654.63" width="27.6" height="28.01" fill="#6d1b70"/>
<text x="1472.5" y="1674.5" font-size="18.87" >Glutathione Metabolism</text>
<rect x="1442.2" y="1682.64" width="27.6" height="28.01" fill="#fa9afa"/>
<text x="1472.5" y="1702.4" font-size="18.87" >Glycine and Serine Metabolism</text>
<rect x="1442.2" y="1710.65" width="27.6" height="28.01" fill="#7d9a45"/>
<text x="1472.5" y="1730.6" font-size="18.87" >Histidine Metabolism</text>
<rect x="1442.2" y="1738.66" width="27.6" height="28.01" fill="#624a80"/>
<text x="1472.5" y="1757.6" font-size="18.87" >Methylhistidine Metabolism</text>
<rect x="1442.2" y="1766.67" width="27.6" height="28.01" fill="#50959a"/>
<text x="1472.5" y="1788.2" font-size="18.87" >Thiamine Metabolism</text>
<rect x="1442.2" y="1794.68" width="27.6" height="28.01" fill="#c07a3c"/>
<text x="1472.5" y="1816.2" font-size="18.87" >Tyrosine Metabolism</text>
<rect x="1442.2" y="1822.69" width="27.6" height="28.01" fill="#4a6fa5"/>
<text x="1472.5" y="1843.5" font-size="18.87" >Spermidine and Spermine Biosynthesis</text>
<rect x="1442.2" y="1850.7" width="27.6" height="28.01" fill="#9a3c40"/>
<text x="1472.5" y="1871.1" font-size="18.87" >Glycerol Phosphate Shuttle</text>
<rect x="1442.2" y="1878.71" width="27.6" height="28.01" fill="#595959"/>
<text x="1472.5" y="1898.7" font-size="18.87" >Pantothenate and CoA Biosynthesis</text>
<rect x="1442.2" y="1906.72" width="27.6" height="28.01" fill="#34589e"/>
<text x="1472.5" y="1926" font-size="18.87" >Nicotinate and Nicotinamide Metabolism</text>
<rect x="1442.2" y="1934.73" width="27.6" height="28.01" fill="#a295cc"/>
<text x="1472.5" y="1954.6" font-size="18.87" >Androgen and Estrogen Metabolism</text>
<rect x="1442.2" y="1962.74" width="27.6" height="28.01" fill="#1f3a6d"/>
<text x="1472.5" y="1983.1" font-size="18.87" >Sulfate Metabolism</text>
<line x1="1442" y1="1290.5" x2="1470" y2="1290.5" stroke="#141414" stroke-width="1.5" />
<line x1="1442" y1="1318.51" x2="1470" y2="1318.51" stroke="#141414" stroke-width="1.5" />
<line x1="1442" y1="1346.52" x2="1470" y2="1346.52" stroke="#141414" stroke-width="1.5" />
<line x1="1442" y1="1374.53" x2="1470" y2="1374.53" stroke="#141414" stroke-width="1.5" />
<line x1="1442" y1="1402.54" x2="1470" y2="1402.54" stroke="#141414" stroke-width="1.5" />
<line x1="1442" y1="1430.55" x2="1470" y2="1430.55" stroke="#141414" stroke-width="1.5" />
<line x1="1442" y1="1458.56" x2="1470" y2="1458.56" stroke="#141414" stroke-width="1.5" />
<line x1="1442" y1="1486.57" x2="1470" y2="1486.57" stroke="#141414" stroke-width="1.5" />
<line x1="1442" y1="1514.58" x2="1470" y2="1514.58" stroke="#141414" stroke-width="1.5" />
<line x1="1442" y1="1542.59" x2="1470" y2="1542.59" stroke="#141414" stroke-width="1.5" />
<line x1="1442" y1="1570.6" x2="1470" y2="1570.6" stroke="#141414" stroke-width="1.5" />
<line x1="1442" y1="1598.61" x2="1470" y2="1598.61" stroke="#141414" stroke-width="1.5" />
<line x1="1442" y1="1626.62" x2="1470" y2="1626.62" stroke="#141414" stroke-width="1.5" />
<line x1="1442" y1="1654.63" x2="1470" y2="1654.63" stroke="#141414" stroke-width="1.5" />
<line x1="1442" y1="1682.64" x2="1470" y2="1682.64" stroke="#141414" stroke-width="1.5" />
<line x1="1442" y1="1710.65" x2="1470" y2="1710.65" stroke="#141414" stroke-width="1.5" />
<line x1="1442" y1="1738.66" x2="1470" y2="1738.66" stroke="#141414" stroke-width="1.5" />
<line x1="1442" y1="1766.67" x2="1470" y2="1766.67" stroke="#141414" stroke-width="1.5" />
<line x1="1442" y1="1794.68" x2="1470" y2="1794.68" stroke="#141414" stroke-width="1.5" />
<line x1="1442" y1="1822.69" x2="1470" y2="1822.69" stroke="#141414" stroke-width="1.5" />
<line x1="1442" y1="1850.7" x2="1470" y2="1850.7" stroke="#141414" stroke-width="1.5" />
<line x1="1442" y1="1878.71" x2="1470" y2="1878.71" stroke="#141414" stroke-width="1.5" />
<line x1="1442" y1="1906.72" x2="1470" y2="1906.72" stroke="#141414" stroke-width="1.5" />
<line x1="1442" y1="1934.73" x2="1470" y2="1934.73" stroke="#141414" stroke-width="1.5" />
<line x1="1442" y1="1962.74" x2="1470" y2="1962.74" stroke="#141414" stroke-width="1.5" />
<line x1="1442" y1="1990.75" x2="1470" y2="1990.75" stroke="#141414" stroke-width="1.5" />
<line x1="1469.7" y1="1290.5" x2="1469.7" y2="1990.75" stroke="#333" stroke-width="0.6" />
<text x="1872.1" y="1260" font-size="22.2" font-weight="bold">Group</text>
<rect x="1872.7" y="1283.2" width="28.3" height="17.4" fill="#7ba7c9"/>
<rect x="1872.7" y="1313.5" width="28.3" height="18" fill="#eb9dab"/>
<text x="1918.3" y="1297.6" font-size="19.6" >WT-NCD</text>
<text x="1918.3" y="1331.2" font-size="19.6" >WT-HFD</text>
<text x="1872.1" y="1375.6" font-size="22.2" font-weight="bold">ColorBar</text>
<rect x="1884.7" y="1394.5" width="73" height="135.35" fill="#efefef"/>
<rect x="1884.7" y="1394.5" width="18.6" height="18.85" fill="#a0d0f9"/>
<rect x="1884.7" y="1413.15" width="18.6" height="18.85" fill="#bcdcfa"/>
<rect x="1884.7" y="1431.8" width="18.6" height="18.85" fill="#daedfc"/>
<rect x="1884.7" y="1450.45" width="18.6" height="18.85" fill="#ffffff"/>
<rect x="1884.7" y="1469.1" width="18.6" height="18.85" fill="#f8dbdd"/>
<rect x="1884.7" y="1487.75" width="18.6" height="18.85" fill="#f5bbc0"/>
<rect x="1884.7" y="1506.4" width="18.6" height="18.85" fill="#f29ba3"/>
<text x="1903.3" y="1418.4" font-size="19" fill="#333">-0.24</text>
<text x="1903.3" y="1437.1" font-size="19" fill="#333">-0.16</text>
<text x="1903.3" y="1455.4" font-size="19" fill="#333">-0.08</text>
<text x="1905.3" y="1474" font-size="19" fill="#333">0.00</text>
<text x="1905.3" y="1492.3" font-size="19" fill="#333">0.08</text>
<text x="1905.3" y="1510.9" font-size="19" fill="#333">0.16</text>
<text x="1905.3" y="1529.5" font-size="19" fill="#333">0.24</text>
</g>
</svg></body></html>
